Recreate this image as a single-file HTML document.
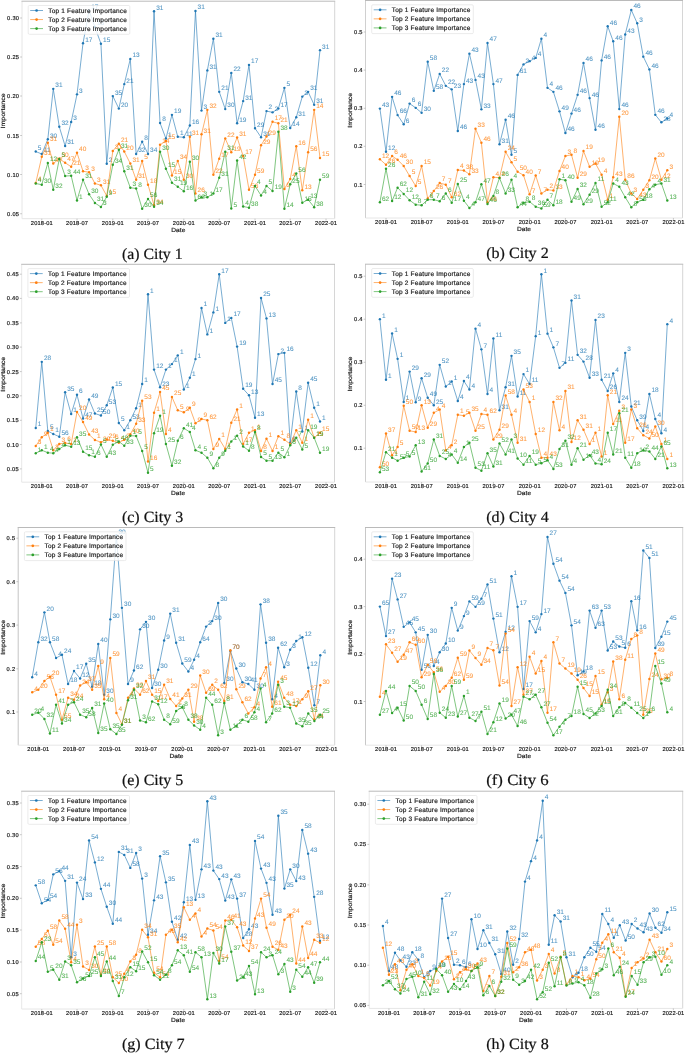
<!DOCTYPE html><html><head><meta charset="utf-8"><style>html,body{margin:0;padding:0;background:#fff;}svg{display:block;will-change:transform;}text{font-family:"Liberation Sans",sans-serif;text-rendering:geometricPrecision;}.t{stroke:#1a1a1a;stroke-width:0.18;}.cap{font-family:"Liberation Serif",serif;}</style></head><body>
<svg width="685" height="1054" viewBox="0 0 685 1054">
<rect x="0" y="0" width="685" height="1054" fill="#fff"/>
<g><line x1="22" y1="1.2" x2="22" y2="218.7" stroke="#e6e6e6" stroke-width="1"/><line x1="334.7" y1="1.2" x2="334.7" y2="218.7" stroke="#d6d6d6" stroke-width="1"/><line x1="22" y1="218.7" x2="334.7" y2="218.7" stroke="#e6e6e6" stroke-width="1"/><line x1="21.5" y1="1.2" x2="335.2" y2="1.2" stroke="#bababa" stroke-width="1"/><line x1="20.2" y1="18" x2="22" y2="18" stroke="#b0b0b0" stroke-width="0.7"/><text x="19" y="20.05" font-size="5.7" fill="#1a1a1a" text-anchor="end" class="t" textLength="11.9" lengthAdjust="spacing">0.30</text><line x1="20.2" y1="57" x2="22" y2="57" stroke="#b0b0b0" stroke-width="0.7"/><text x="19" y="59.05" font-size="5.7" fill="#1a1a1a" text-anchor="end" class="t" textLength="11.9" lengthAdjust="spacing">0.25</text><line x1="20.2" y1="96" x2="22" y2="96" stroke="#b0b0b0" stroke-width="0.7"/><text x="19" y="98.05" font-size="5.7" fill="#1a1a1a" text-anchor="end" class="t" textLength="11.9" lengthAdjust="spacing">0.20</text><line x1="20.2" y1="135.5" x2="22" y2="135.5" stroke="#b0b0b0" stroke-width="0.7"/><text x="19" y="137.55" font-size="5.7" fill="#1a1a1a" text-anchor="end" class="t" textLength="11.9" lengthAdjust="spacing">0.15</text><line x1="20.2" y1="174.5" x2="22" y2="174.5" stroke="#b0b0b0" stroke-width="0.7"/><text x="19" y="176.55" font-size="5.7" fill="#1a1a1a" text-anchor="end" class="t" textLength="11.9" lengthAdjust="spacing">0.10</text><line x1="20.2" y1="213.75" x2="22" y2="213.75" stroke="#b0b0b0" stroke-width="0.7"/><text x="19" y="215.8" font-size="5.7" fill="#1a1a1a" text-anchor="end" class="t" textLength="11.9" lengthAdjust="spacing">0.05</text><line x1="41.78" y1="218.7" x2="41.78" y2="220.5" stroke="#b0b0b0" stroke-width="0.7"/><text x="41.78" y="224.8" font-size="5.7" fill="#1a1a1a" text-anchor="middle" class="t" textLength="21.9" lengthAdjust="spacing">2018-01</text><line x1="77" y1="218.7" x2="77" y2="220.5" stroke="#b0b0b0" stroke-width="0.7"/><text x="77" y="224.8" font-size="5.7" fill="#1a1a1a" text-anchor="middle" class="t" textLength="21.9" lengthAdjust="spacing">2018-07</text><line x1="112.8" y1="218.7" x2="112.8" y2="220.5" stroke="#b0b0b0" stroke-width="0.7"/><text x="112.8" y="224.8" font-size="5.7" fill="#1a1a1a" text-anchor="middle" class="t" textLength="21.9" lengthAdjust="spacing">2019-01</text><line x1="148.01" y1="218.7" x2="148.01" y2="220.5" stroke="#b0b0b0" stroke-width="0.7"/><text x="148.01" y="224.8" font-size="5.7" fill="#1a1a1a" text-anchor="middle" class="t" textLength="21.9" lengthAdjust="spacing">2019-07</text><line x1="183.81" y1="218.7" x2="183.81" y2="220.5" stroke="#b0b0b0" stroke-width="0.7"/><text x="183.81" y="224.8" font-size="5.7" fill="#1a1a1a" text-anchor="middle" class="t" textLength="21.9" lengthAdjust="spacing">2020-01</text><line x1="219.22" y1="218.7" x2="219.22" y2="220.5" stroke="#b0b0b0" stroke-width="0.7"/><text x="219.22" y="224.8" font-size="5.7" fill="#1a1a1a" text-anchor="middle" class="t" textLength="21.9" lengthAdjust="spacing">2020-07</text><line x1="255.02" y1="218.7" x2="255.02" y2="220.5" stroke="#b0b0b0" stroke-width="0.7"/><text x="255.02" y="224.8" font-size="5.7" fill="#1a1a1a" text-anchor="middle" class="t" textLength="21.9" lengthAdjust="spacing">2021-01</text><line x1="290.23" y1="218.7" x2="290.23" y2="220.5" stroke="#b0b0b0" stroke-width="0.7"/><text x="290.23" y="224.8" font-size="5.7" fill="#1a1a1a" text-anchor="middle" class="t" textLength="21.9" lengthAdjust="spacing">2021-07</text><line x1="326.03" y1="218.7" x2="326.03" y2="220.5" stroke="#b0b0b0" stroke-width="0.7"/><text x="326.03" y="224.8" font-size="5.7" fill="#1a1a1a" text-anchor="middle" class="t" textLength="21.9" lengthAdjust="spacing">2022-01</text><text x="178.35" y="231.8" font-size="6.0" fill="#1a1a1a" text-anchor="middle" class="t" textLength="14" lengthAdjust="spacingAndGlyphs">Date</text><text transform="translate(5 110.95) rotate(-90)" x="0" y="0" font-size="6.0" fill="#1a1a1a" class="t" text-anchor="middle" textLength="35" lengthAdjust="spacingAndGlyphs">Importance</text><polyline points="35.75,151.52 41.78,154.02 47.81,139.29 53.26,88.87 59.29,126.81 65.13,146.03 71.16,122.07 77,94.36 83.03,43.19 89.06,10.48 94.9,26.96 100.93,43.68 106.76,163.75 112.8,96.11 118.83,108.59 124.27,84.12 130.31,58.91 136.14,154.02 142.17,141.79 148.01,154.02 154.04,11.23 160.07,123.07 165.91,138.54 171.94,114.83 177.78,136.79 183.81,137.29 189.84,125.56 195.48,10.98 201.51,110.58 207.35,70.39 213.38,38.69 219.22,91.86 225.25,109.09 231.28,72.89 237.12,123.32 243.15,101.1 248.99,64.9 255.02,128.31 261.05,137.29 266.5,111.08 272.53,112.33 278.36,108.59 284.4,87.87 290.23,128.06 296.26,117.32 302.3,96.61 308.13,91.86 314.16,104.84 320,50.17" fill="none" stroke="#1f77b4" stroke-width="1.0" stroke-opacity="0.6" stroke-linejoin="round"/><circle cx="35.75" cy="151.52" r="1.2" fill="#1f77b4"/><circle cx="41.78" cy="154.02" r="1.2" fill="#1f77b4"/><circle cx="47.81" cy="139.29" r="1.2" fill="#1f77b4"/><circle cx="53.26" cy="88.87" r="1.2" fill="#1f77b4"/><circle cx="59.29" cy="126.81" r="1.2" fill="#1f77b4"/><circle cx="65.13" cy="146.03" r="1.2" fill="#1f77b4"/><circle cx="71.16" cy="122.07" r="1.2" fill="#1f77b4"/><circle cx="77" cy="94.36" r="1.2" fill="#1f77b4"/><circle cx="83.03" cy="43.19" r="1.2" fill="#1f77b4"/><circle cx="89.06" cy="10.48" r="1.2" fill="#1f77b4"/><circle cx="94.9" cy="26.96" r="1.2" fill="#1f77b4"/><circle cx="100.93" cy="43.68" r="1.2" fill="#1f77b4"/><circle cx="106.76" cy="163.75" r="1.2" fill="#1f77b4"/><circle cx="112.8" cy="96.11" r="1.2" fill="#1f77b4"/><circle cx="118.83" cy="108.59" r="1.2" fill="#1f77b4"/><circle cx="124.27" cy="84.12" r="1.2" fill="#1f77b4"/><circle cx="130.31" cy="58.91" r="1.2" fill="#1f77b4"/><circle cx="136.14" cy="154.02" r="1.2" fill="#1f77b4"/><circle cx="142.17" cy="141.79" r="1.2" fill="#1f77b4"/><circle cx="148.01" cy="154.02" r="1.2" fill="#1f77b4"/><circle cx="154.04" cy="11.23" r="1.2" fill="#1f77b4"/><circle cx="160.07" cy="123.07" r="1.2" fill="#1f77b4"/><circle cx="165.91" cy="138.54" r="1.2" fill="#1f77b4"/><circle cx="171.94" cy="114.83" r="1.2" fill="#1f77b4"/><circle cx="177.78" cy="136.79" r="1.2" fill="#1f77b4"/><circle cx="183.81" cy="137.29" r="1.2" fill="#1f77b4"/><circle cx="189.84" cy="125.56" r="1.2" fill="#1f77b4"/><circle cx="195.48" cy="10.98" r="1.2" fill="#1f77b4"/><circle cx="201.51" cy="110.58" r="1.2" fill="#1f77b4"/><circle cx="207.35" cy="70.39" r="1.2" fill="#1f77b4"/><circle cx="213.38" cy="38.69" r="1.2" fill="#1f77b4"/><circle cx="219.22" cy="91.86" r="1.2" fill="#1f77b4"/><circle cx="225.25" cy="109.09" r="1.2" fill="#1f77b4"/><circle cx="231.28" cy="72.89" r="1.2" fill="#1f77b4"/><circle cx="237.12" cy="123.32" r="1.2" fill="#1f77b4"/><circle cx="243.15" cy="101.1" r="1.2" fill="#1f77b4"/><circle cx="248.99" cy="64.9" r="1.2" fill="#1f77b4"/><circle cx="255.02" cy="128.31" r="1.2" fill="#1f77b4"/><circle cx="261.05" cy="137.29" r="1.2" fill="#1f77b4"/><circle cx="266.5" cy="111.08" r="1.2" fill="#1f77b4"/><circle cx="272.53" cy="112.33" r="1.2" fill="#1f77b4"/><circle cx="278.36" cy="108.59" r="1.2" fill="#1f77b4"/><circle cx="284.4" cy="87.87" r="1.2" fill="#1f77b4"/><circle cx="290.23" cy="128.06" r="1.2" fill="#1f77b4"/><circle cx="296.26" cy="117.32" r="1.2" fill="#1f77b4"/><circle cx="302.3" cy="96.61" r="1.2" fill="#1f77b4"/><circle cx="308.13" cy="91.86" r="1.2" fill="#1f77b4"/><circle cx="314.16" cy="104.84" r="1.2" fill="#1f77b4"/><circle cx="320" cy="50.17" r="1.2" fill="#1f77b4"/><text x="37.85" y="149.92" font-size="6.5" fill="#1f77b4" fill-opacity="0.78" stroke="#1f77b4" stroke-width="0.1" stroke-opacity="0.5">5</text><text x="43.88" y="152.42" font-size="6.5" fill="#1f77b4" fill-opacity="0.78" stroke="#1f77b4" stroke-width="0.1" stroke-opacity="0.5">11</text><text x="49.91" y="137.69" font-size="6.5" fill="#1f77b4" fill-opacity="0.78" stroke="#1f77b4" stroke-width="0.1" stroke-opacity="0.5">30</text><text x="55.36" y="87.27" font-size="6.5" fill="#1f77b4" fill-opacity="0.78" stroke="#1f77b4" stroke-width="0.1" stroke-opacity="0.5">31</text><text x="61.39" y="125.21" font-size="6.5" fill="#1f77b4" fill-opacity="0.78" stroke="#1f77b4" stroke-width="0.1" stroke-opacity="0.5">32</text><text x="67.23" y="144.43" font-size="6.5" fill="#1f77b4" fill-opacity="0.78" stroke="#1f77b4" stroke-width="0.1" stroke-opacity="0.5">31</text><text x="73.26" y="120.47" font-size="6.5" fill="#1f77b4" fill-opacity="0.78" stroke="#1f77b4" stroke-width="0.1" stroke-opacity="0.5">3</text><text x="79.1" y="92.76" font-size="6.5" fill="#1f77b4" fill-opacity="0.78" stroke="#1f77b4" stroke-width="0.1" stroke-opacity="0.5">3</text><text x="85.13" y="41.59" font-size="6.5" fill="#1f77b4" fill-opacity="0.78" stroke="#1f77b4" stroke-width="0.1" stroke-opacity="0.5">17</text><text x="91.16" y="8.88" font-size="6.5" fill="#1f77b4" fill-opacity="0.78" stroke="#1f77b4" stroke-width="0.1" stroke-opacity="0.5">17</text><text x="97" y="25.36" font-size="6.5" fill="#1f77b4" fill-opacity="0.78" stroke="#1f77b4" stroke-width="0.1" stroke-opacity="0.5">15</text><text x="103.03" y="42.08" font-size="6.5" fill="#1f77b4" fill-opacity="0.78" stroke="#1f77b4" stroke-width="0.1" stroke-opacity="0.5">15</text><text x="108.86" y="162.15" font-size="6.5" fill="#1f77b4" fill-opacity="0.78" stroke="#1f77b4" stroke-width="0.1" stroke-opacity="0.5">2</text><text x="114.9" y="94.51" font-size="6.5" fill="#1f77b4" fill-opacity="0.78" stroke="#1f77b4" stroke-width="0.1" stroke-opacity="0.5">35</text><text x="120.93" y="106.99" font-size="6.5" fill="#1f77b4" fill-opacity="0.78" stroke="#1f77b4" stroke-width="0.1" stroke-opacity="0.5">20</text><text x="126.37" y="82.52" font-size="6.5" fill="#1f77b4" fill-opacity="0.78" stroke="#1f77b4" stroke-width="0.1" stroke-opacity="0.5">21</text><text x="132.41" y="57.31" font-size="6.5" fill="#1f77b4" fill-opacity="0.78" stroke="#1f77b4" stroke-width="0.1" stroke-opacity="0.5">13</text><text x="138.24" y="152.42" font-size="6.5" fill="#1f77b4" fill-opacity="0.78" stroke="#1f77b4" stroke-width="0.1" stroke-opacity="0.5">32</text><text x="144.27" y="140.19" font-size="6.5" fill="#1f77b4" fill-opacity="0.78" stroke="#1f77b4" stroke-width="0.1" stroke-opacity="0.5">8</text><text x="150.11" y="152.42" font-size="6.5" fill="#1f77b4" fill-opacity="0.78" stroke="#1f77b4" stroke-width="0.1" stroke-opacity="0.5">34</text><text x="156.14" y="9.63" font-size="6.5" fill="#1f77b4" fill-opacity="0.78" stroke="#1f77b4" stroke-width="0.1" stroke-opacity="0.5">31</text><text x="162.17" y="121.47" font-size="6.5" fill="#1f77b4" fill-opacity="0.78" stroke="#1f77b4" stroke-width="0.1" stroke-opacity="0.5">8</text><text x="168.01" y="136.94" font-size="6.5" fill="#1f77b4" fill-opacity="0.78" stroke="#1f77b4" stroke-width="0.1" stroke-opacity="0.5">1</text><text x="174.04" y="113.23" font-size="6.5" fill="#1f77b4" fill-opacity="0.78" stroke="#1f77b4" stroke-width="0.1" stroke-opacity="0.5">19</text><text x="179.88" y="135.19" font-size="6.5" fill="#1f77b4" fill-opacity="0.78" stroke="#1f77b4" stroke-width="0.1" stroke-opacity="0.5">1</text><text x="185.91" y="135.69" font-size="6.5" fill="#1f77b4" fill-opacity="0.78" stroke="#1f77b4" stroke-width="0.1" stroke-opacity="0.5">11</text><text x="191.94" y="123.96" font-size="6.5" fill="#1f77b4" fill-opacity="0.78" stroke="#1f77b4" stroke-width="0.1" stroke-opacity="0.5">16</text><text x="197.58" y="9.38" font-size="6.5" fill="#1f77b4" fill-opacity="0.78" stroke="#1f77b4" stroke-width="0.1" stroke-opacity="0.5">31</text><text x="203.61" y="108.98" font-size="6.5" fill="#1f77b4" fill-opacity="0.78" stroke="#1f77b4" stroke-width="0.1" stroke-opacity="0.5">3</text><text x="209.45" y="68.79" font-size="6.5" fill="#1f77b4" fill-opacity="0.78" stroke="#1f77b4" stroke-width="0.1" stroke-opacity="0.5">31</text><text x="215.48" y="37.09" font-size="6.5" fill="#1f77b4" fill-opacity="0.78" stroke="#1f77b4" stroke-width="0.1" stroke-opacity="0.5">31</text><text x="221.32" y="90.26" font-size="6.5" fill="#1f77b4" fill-opacity="0.78" stroke="#1f77b4" stroke-width="0.1" stroke-opacity="0.5">21</text><text x="227.35" y="107.49" font-size="6.5" fill="#1f77b4" fill-opacity="0.78" stroke="#1f77b4" stroke-width="0.1" stroke-opacity="0.5">30</text><text x="233.38" y="71.29" font-size="6.5" fill="#1f77b4" fill-opacity="0.78" stroke="#1f77b4" stroke-width="0.1" stroke-opacity="0.5">22</text><text x="239.22" y="121.72" font-size="6.5" fill="#1f77b4" fill-opacity="0.78" stroke="#1f77b4" stroke-width="0.1" stroke-opacity="0.5">19</text><text x="245.25" y="99.5" font-size="6.5" fill="#1f77b4" fill-opacity="0.78" stroke="#1f77b4" stroke-width="0.1" stroke-opacity="0.5">31</text><text x="251.09" y="63.3" font-size="6.5" fill="#1f77b4" fill-opacity="0.78" stroke="#1f77b4" stroke-width="0.1" stroke-opacity="0.5">17</text><text x="257.12" y="126.71" font-size="6.5" fill="#1f77b4" fill-opacity="0.78" stroke="#1f77b4" stroke-width="0.1" stroke-opacity="0.5">29</text><text x="263.15" y="135.69" font-size="6.5" fill="#1f77b4" fill-opacity="0.78" stroke="#1f77b4" stroke-width="0.1" stroke-opacity="0.5">31</text><text x="268.6" y="109.48" font-size="6.5" fill="#1f77b4" fill-opacity="0.78" stroke="#1f77b4" stroke-width="0.1" stroke-opacity="0.5">2</text><text x="274.63" y="110.73" font-size="6.5" fill="#1f77b4" fill-opacity="0.78" stroke="#1f77b4" stroke-width="0.1" stroke-opacity="0.5">2</text><text x="280.46" y="106.99" font-size="6.5" fill="#1f77b4" fill-opacity="0.78" stroke="#1f77b4" stroke-width="0.1" stroke-opacity="0.5">17</text><text x="286.5" y="86.27" font-size="6.5" fill="#1f77b4" fill-opacity="0.78" stroke="#1f77b4" stroke-width="0.1" stroke-opacity="0.5">5</text><text x="292.33" y="126.46" font-size="6.5" fill="#1f77b4" fill-opacity="0.78" stroke="#1f77b4" stroke-width="0.1" stroke-opacity="0.5">14</text><text x="298.36" y="115.72" font-size="6.5" fill="#1f77b4" fill-opacity="0.78" stroke="#1f77b4" stroke-width="0.1" stroke-opacity="0.5">31</text><text x="304.4" y="95.01" font-size="6.5" fill="#1f77b4" fill-opacity="0.78" stroke="#1f77b4" stroke-width="0.1" stroke-opacity="0.5">3</text><text x="310.23" y="90.26" font-size="6.5" fill="#1f77b4" fill-opacity="0.78" stroke="#1f77b4" stroke-width="0.1" stroke-opacity="0.5">31</text><text x="316.26" y="103.24" font-size="6.5" fill="#1f77b4" fill-opacity="0.78" stroke="#1f77b4" stroke-width="0.1" stroke-opacity="0.5">31</text><text x="322.1" y="48.57" font-size="6.5" fill="#1f77b4" fill-opacity="0.78" stroke="#1f77b4" stroke-width="0.1" stroke-opacity="0.5">31</text><polyline points="35.75,182.98 41.78,156.76 47.81,142.79 53.26,163.5 59.29,158.76 65.13,162.76 71.16,166.75 77,152.77 83.03,171.24 89.06,172.24 94.9,183.47 100.93,185.22 106.76,195.96 112.8,151.02 118.83,143.78 124.27,151.52 130.31,163.5 136.14,179.73 142.17,161.01 148.01,184.72 154.04,205.19 160.07,144.78 165.91,141.04 171.94,175.49 177.78,161.01 183.81,179.73 189.84,136.79 195.48,193.46 201.51,134.3 207.35,109.84 213.38,174.74 219.22,158.76 225.25,138.54 231.28,152.27 237.12,137.54 243.15,156.02 248.99,189.72 255.02,174.74 261.05,145.28 266.5,136.55 272.53,121.82 278.36,123.32 284.4,188.97 290.23,178.98 296.26,146.28 302.3,190.21 308.13,152.27 314.16,109.84 320,158.01" fill="none" stroke="#ff7f0e" stroke-width="1.0" stroke-opacity="0.6" stroke-linejoin="round"/><circle cx="35.75" cy="182.98" r="1.2" fill="#ff7f0e"/><circle cx="41.78" cy="156.76" r="1.2" fill="#ff7f0e"/><circle cx="47.81" cy="142.79" r="1.2" fill="#ff7f0e"/><circle cx="53.26" cy="163.5" r="1.2" fill="#ff7f0e"/><circle cx="59.29" cy="158.76" r="1.2" fill="#ff7f0e"/><circle cx="65.13" cy="162.76" r="1.2" fill="#ff7f0e"/><circle cx="71.16" cy="166.75" r="1.2" fill="#ff7f0e"/><circle cx="77" cy="152.77" r="1.2" fill="#ff7f0e"/><circle cx="83.03" cy="171.24" r="1.2" fill="#ff7f0e"/><circle cx="89.06" cy="172.24" r="1.2" fill="#ff7f0e"/><circle cx="94.9" cy="183.47" r="1.2" fill="#ff7f0e"/><circle cx="100.93" cy="185.22" r="1.2" fill="#ff7f0e"/><circle cx="106.76" cy="195.96" r="1.2" fill="#ff7f0e"/><circle cx="112.8" cy="151.02" r="1.2" fill="#ff7f0e"/><circle cx="118.83" cy="143.78" r="1.2" fill="#ff7f0e"/><circle cx="124.27" cy="151.52" r="1.2" fill="#ff7f0e"/><circle cx="130.31" cy="163.5" r="1.2" fill="#ff7f0e"/><circle cx="136.14" cy="179.73" r="1.2" fill="#ff7f0e"/><circle cx="142.17" cy="161.01" r="1.2" fill="#ff7f0e"/><circle cx="148.01" cy="184.72" r="1.2" fill="#ff7f0e"/><circle cx="154.04" cy="205.19" r="1.2" fill="#ff7f0e"/><circle cx="160.07" cy="144.78" r="1.2" fill="#ff7f0e"/><circle cx="165.91" cy="141.04" r="1.2" fill="#ff7f0e"/><circle cx="171.94" cy="175.49" r="1.2" fill="#ff7f0e"/><circle cx="177.78" cy="161.01" r="1.2" fill="#ff7f0e"/><circle cx="183.81" cy="179.73" r="1.2" fill="#ff7f0e"/><circle cx="189.84" cy="136.79" r="1.2" fill="#ff7f0e"/><circle cx="195.48" cy="193.46" r="1.2" fill="#ff7f0e"/><circle cx="201.51" cy="134.3" r="1.2" fill="#ff7f0e"/><circle cx="207.35" cy="109.84" r="1.2" fill="#ff7f0e"/><circle cx="213.38" cy="174.74" r="1.2" fill="#ff7f0e"/><circle cx="219.22" cy="158.76" r="1.2" fill="#ff7f0e"/><circle cx="225.25" cy="138.54" r="1.2" fill="#ff7f0e"/><circle cx="231.28" cy="152.27" r="1.2" fill="#ff7f0e"/><circle cx="237.12" cy="137.54" r="1.2" fill="#ff7f0e"/><circle cx="243.15" cy="156.02" r="1.2" fill="#ff7f0e"/><circle cx="248.99" cy="189.72" r="1.2" fill="#ff7f0e"/><circle cx="255.02" cy="174.74" r="1.2" fill="#ff7f0e"/><circle cx="261.05" cy="145.28" r="1.2" fill="#ff7f0e"/><circle cx="266.5" cy="136.55" r="1.2" fill="#ff7f0e"/><circle cx="272.53" cy="121.82" r="1.2" fill="#ff7f0e"/><circle cx="278.36" cy="123.32" r="1.2" fill="#ff7f0e"/><circle cx="284.4" cy="188.97" r="1.2" fill="#ff7f0e"/><circle cx="290.23" cy="178.98" r="1.2" fill="#ff7f0e"/><circle cx="296.26" cy="146.28" r="1.2" fill="#ff7f0e"/><circle cx="302.3" cy="190.21" r="1.2" fill="#ff7f0e"/><circle cx="308.13" cy="152.27" r="1.2" fill="#ff7f0e"/><circle cx="314.16" cy="109.84" r="1.2" fill="#ff7f0e"/><circle cx="320" cy="158.01" r="1.2" fill="#ff7f0e"/><text x="37.85" y="181.38" font-size="6.5" fill="#ff7f0e" fill-opacity="0.78" stroke="#ff7f0e" stroke-width="0.1" stroke-opacity="0.5">4</text><text x="43.88" y="155.16" font-size="6.5" fill="#ff7f0e" fill-opacity="0.78" stroke="#ff7f0e" stroke-width="0.1" stroke-opacity="0.5">31</text><text x="49.91" y="141.19" font-size="6.5" fill="#ff7f0e" fill-opacity="0.78" stroke="#ff7f0e" stroke-width="0.1" stroke-opacity="0.5">31</text><text x="55.36" y="161.9" font-size="6.5" fill="#ff7f0e" fill-opacity="0.78" stroke="#ff7f0e" stroke-width="0.1" stroke-opacity="0.5">47</text><text x="61.39" y="157.16" font-size="6.5" fill="#ff7f0e" fill-opacity="0.78" stroke="#ff7f0e" stroke-width="0.1" stroke-opacity="0.5">30</text><text x="67.23" y="161.16" font-size="6.5" fill="#ff7f0e" fill-opacity="0.78" stroke="#ff7f0e" stroke-width="0.1" stroke-opacity="0.5">47</text><text x="73.26" y="165.15" font-size="6.5" fill="#ff7f0e" fill-opacity="0.78" stroke="#ff7f0e" stroke-width="0.1" stroke-opacity="0.5">21</text><text x="79.1" y="151.17" font-size="6.5" fill="#ff7f0e" fill-opacity="0.78" stroke="#ff7f0e" stroke-width="0.1" stroke-opacity="0.5">40</text><text x="85.13" y="169.64" font-size="6.5" fill="#ff7f0e" fill-opacity="0.78" stroke="#ff7f0e" stroke-width="0.1" stroke-opacity="0.5">3</text><text x="91.16" y="170.64" font-size="6.5" fill="#ff7f0e" fill-opacity="0.78" stroke="#ff7f0e" stroke-width="0.1" stroke-opacity="0.5">3</text><text x="97" y="181.87" font-size="6.5" fill="#ff7f0e" fill-opacity="0.78" stroke="#ff7f0e" stroke-width="0.1" stroke-opacity="0.5">3</text><text x="103.03" y="183.62" font-size="6.5" fill="#ff7f0e" fill-opacity="0.78" stroke="#ff7f0e" stroke-width="0.1" stroke-opacity="0.5">31</text><text x="108.86" y="194.36" font-size="6.5" fill="#ff7f0e" fill-opacity="0.78" stroke="#ff7f0e" stroke-width="0.1" stroke-opacity="0.5">15</text><text x="114.9" y="149.42" font-size="6.5" fill="#ff7f0e" fill-opacity="0.78" stroke="#ff7f0e" stroke-width="0.1" stroke-opacity="0.5">31</text><text x="120.93" y="142.18" font-size="6.5" fill="#ff7f0e" fill-opacity="0.78" stroke="#ff7f0e" stroke-width="0.1" stroke-opacity="0.5">21</text><text x="126.37" y="149.92" font-size="6.5" fill="#ff7f0e" fill-opacity="0.78" stroke="#ff7f0e" stroke-width="0.1" stroke-opacity="0.5">20</text><text x="132.41" y="161.9" font-size="6.5" fill="#ff7f0e" fill-opacity="0.78" stroke="#ff7f0e" stroke-width="0.1" stroke-opacity="0.5">31</text><text x="138.24" y="178.13" font-size="6.5" fill="#ff7f0e" fill-opacity="0.78" stroke="#ff7f0e" stroke-width="0.1" stroke-opacity="0.5">31</text><text x="144.27" y="159.41" font-size="6.5" fill="#ff7f0e" fill-opacity="0.78" stroke="#ff7f0e" stroke-width="0.1" stroke-opacity="0.5">5</text><text x="150.11" y="183.12" font-size="6.5" fill="#ff7f0e" fill-opacity="0.78" stroke="#ff7f0e" stroke-width="0.1" stroke-opacity="0.5">18</text><text x="156.14" y="203.59" font-size="6.5" fill="#ff7f0e" fill-opacity="0.78" stroke="#ff7f0e" stroke-width="0.1" stroke-opacity="0.5">34</text><text x="162.17" y="143.18" font-size="6.5" fill="#ff7f0e" fill-opacity="0.78" stroke="#ff7f0e" stroke-width="0.1" stroke-opacity="0.5">14</text><text x="168.01" y="139.44" font-size="6.5" fill="#ff7f0e" fill-opacity="0.78" stroke="#ff7f0e" stroke-width="0.1" stroke-opacity="0.5">15</text><text x="174.04" y="173.89" font-size="6.5" fill="#ff7f0e" fill-opacity="0.78" stroke="#ff7f0e" stroke-width="0.1" stroke-opacity="0.5">15</text><text x="179.88" y="159.41" font-size="6.5" fill="#ff7f0e" fill-opacity="0.78" stroke="#ff7f0e" stroke-width="0.1" stroke-opacity="0.5">34</text><text x="185.91" y="178.13" font-size="6.5" fill="#ff7f0e" fill-opacity="0.78" stroke="#ff7f0e" stroke-width="0.1" stroke-opacity="0.5">30</text><text x="191.94" y="135.19" font-size="6.5" fill="#ff7f0e" fill-opacity="0.78" stroke="#ff7f0e" stroke-width="0.1" stroke-opacity="0.5">31</text><text x="197.58" y="191.86" font-size="6.5" fill="#ff7f0e" fill-opacity="0.78" stroke="#ff7f0e" stroke-width="0.1" stroke-opacity="0.5">26</text><text x="203.61" y="132.7" font-size="6.5" fill="#ff7f0e" fill-opacity="0.78" stroke="#ff7f0e" stroke-width="0.1" stroke-opacity="0.5">31</text><text x="209.45" y="108.24" font-size="6.5" fill="#ff7f0e" fill-opacity="0.78" stroke="#ff7f0e" stroke-width="0.1" stroke-opacity="0.5">32</text><text x="215.48" y="173.14" font-size="6.5" fill="#ff7f0e" fill-opacity="0.78" stroke="#ff7f0e" stroke-width="0.1" stroke-opacity="0.5">22</text><text x="221.32" y="157.16" font-size="6.5" fill="#ff7f0e" fill-opacity="0.78" stroke="#ff7f0e" stroke-width="0.1" stroke-opacity="0.5">17</text><text x="227.35" y="136.94" font-size="6.5" fill="#ff7f0e" fill-opacity="0.78" stroke="#ff7f0e" stroke-width="0.1" stroke-opacity="0.5">22</text><text x="233.38" y="150.67" font-size="6.5" fill="#ff7f0e" fill-opacity="0.78" stroke="#ff7f0e" stroke-width="0.1" stroke-opacity="0.5">19</text><text x="239.22" y="135.94" font-size="6.5" fill="#ff7f0e" fill-opacity="0.78" stroke="#ff7f0e" stroke-width="0.1" stroke-opacity="0.5">31</text><text x="245.25" y="154.42" font-size="6.5" fill="#ff7f0e" fill-opacity="0.78" stroke="#ff7f0e" stroke-width="0.1" stroke-opacity="0.5">17</text><text x="251.09" y="188.12" font-size="6.5" fill="#ff7f0e" fill-opacity="0.78" stroke="#ff7f0e" stroke-width="0.1" stroke-opacity="0.5">56</text><text x="257.12" y="173.14" font-size="6.5" fill="#ff7f0e" fill-opacity="0.78" stroke="#ff7f0e" stroke-width="0.1" stroke-opacity="0.5">59</text><text x="263.15" y="143.68" font-size="6.5" fill="#ff7f0e" fill-opacity="0.78" stroke="#ff7f0e" stroke-width="0.1" stroke-opacity="0.5">29</text><text x="268.6" y="134.95" font-size="6.5" fill="#ff7f0e" fill-opacity="0.78" stroke="#ff7f0e" stroke-width="0.1" stroke-opacity="0.5">29</text><text x="274.63" y="120.22" font-size="6.5" fill="#ff7f0e" fill-opacity="0.78" stroke="#ff7f0e" stroke-width="0.1" stroke-opacity="0.5">17</text><text x="280.46" y="121.72" font-size="6.5" fill="#ff7f0e" fill-opacity="0.78" stroke="#ff7f0e" stroke-width="0.1" stroke-opacity="0.5">21</text><text x="286.5" y="187.37" font-size="6.5" fill="#ff7f0e" fill-opacity="0.78" stroke="#ff7f0e" stroke-width="0.1" stroke-opacity="0.5">9</text><text x="292.33" y="177.38" font-size="6.5" fill="#ff7f0e" fill-opacity="0.78" stroke="#ff7f0e" stroke-width="0.1" stroke-opacity="0.5">4</text><text x="298.36" y="144.68" font-size="6.5" fill="#ff7f0e" fill-opacity="0.78" stroke="#ff7f0e" stroke-width="0.1" stroke-opacity="0.5">16</text><text x="304.4" y="188.61" font-size="6.5" fill="#ff7f0e" fill-opacity="0.78" stroke="#ff7f0e" stroke-width="0.1" stroke-opacity="0.5">13</text><text x="310.23" y="150.67" font-size="6.5" fill="#ff7f0e" fill-opacity="0.78" stroke="#ff7f0e" stroke-width="0.1" stroke-opacity="0.5">56</text><text x="316.26" y="108.24" font-size="6.5" fill="#ff7f0e" fill-opacity="0.78" stroke="#ff7f0e" stroke-width="0.1" stroke-opacity="0.5">14</text><text x="322.1" y="156.41" font-size="6.5" fill="#ff7f0e" fill-opacity="0.78" stroke="#ff7f0e" stroke-width="0.1" stroke-opacity="0.5">15</text><polyline points="35.75,183.47 41.78,184.72 47.81,163.01 53.26,189.72 59.29,159.01 65.13,175.99 71.16,175.74 77,200.45 83.03,179.73 89.06,194.21 94.9,202.95 100.93,206.94 106.76,196.7 112.8,164.75 118.83,149.78 124.27,171.24 130.31,187.72 136.14,188.47 142.17,208.69 148.01,198.95 154.04,206.69 160.07,151.77 165.91,168.75 171.94,182.73 177.78,186.72 183.81,191.21 189.84,161.76 195.48,200.45 201.51,197.2 207.35,197.2 213.38,193.46 219.22,177.73 225.25,151.77 231.28,208.44 237.12,160.51 243.15,206.44 248.99,207.69 255.02,185.97 261.05,195.46 266.5,185.97 272.53,190.96 278.36,131.8 284.4,208.69 290.23,184.22 296.26,173.49 302.3,202.7 308.13,199.7 314.16,207.19 320,179.73" fill="none" stroke="#2ca02c" stroke-width="1.0" stroke-opacity="0.6" stroke-linejoin="round"/><circle cx="35.75" cy="183.47" r="1.2" fill="#2ca02c"/><circle cx="41.78" cy="184.72" r="1.2" fill="#2ca02c"/><circle cx="47.81" cy="163.01" r="1.2" fill="#2ca02c"/><circle cx="53.26" cy="189.72" r="1.2" fill="#2ca02c"/><circle cx="59.29" cy="159.01" r="1.2" fill="#2ca02c"/><circle cx="65.13" cy="175.99" r="1.2" fill="#2ca02c"/><circle cx="71.16" cy="175.74" r="1.2" fill="#2ca02c"/><circle cx="77" cy="200.45" r="1.2" fill="#2ca02c"/><circle cx="83.03" cy="179.73" r="1.2" fill="#2ca02c"/><circle cx="89.06" cy="194.21" r="1.2" fill="#2ca02c"/><circle cx="94.9" cy="202.95" r="1.2" fill="#2ca02c"/><circle cx="100.93" cy="206.94" r="1.2" fill="#2ca02c"/><circle cx="106.76" cy="196.7" r="1.2" fill="#2ca02c"/><circle cx="112.8" cy="164.75" r="1.2" fill="#2ca02c"/><circle cx="118.83" cy="149.78" r="1.2" fill="#2ca02c"/><circle cx="124.27" cy="171.24" r="1.2" fill="#2ca02c"/><circle cx="130.31" cy="187.72" r="1.2" fill="#2ca02c"/><circle cx="136.14" cy="188.47" r="1.2" fill="#2ca02c"/><circle cx="142.17" cy="208.69" r="1.2" fill="#2ca02c"/><circle cx="148.01" cy="198.95" r="1.2" fill="#2ca02c"/><circle cx="154.04" cy="206.69" r="1.2" fill="#2ca02c"/><circle cx="160.07" cy="151.77" r="1.2" fill="#2ca02c"/><circle cx="165.91" cy="168.75" r="1.2" fill="#2ca02c"/><circle cx="171.94" cy="182.73" r="1.2" fill="#2ca02c"/><circle cx="177.78" cy="186.72" r="1.2" fill="#2ca02c"/><circle cx="183.81" cy="191.21" r="1.2" fill="#2ca02c"/><circle cx="189.84" cy="161.76" r="1.2" fill="#2ca02c"/><circle cx="195.48" cy="200.45" r="1.2" fill="#2ca02c"/><circle cx="201.51" cy="197.2" r="1.2" fill="#2ca02c"/><circle cx="207.35" cy="197.2" r="1.2" fill="#2ca02c"/><circle cx="213.38" cy="193.46" r="1.2" fill="#2ca02c"/><circle cx="219.22" cy="177.73" r="1.2" fill="#2ca02c"/><circle cx="225.25" cy="151.77" r="1.2" fill="#2ca02c"/><circle cx="231.28" cy="208.44" r="1.2" fill="#2ca02c"/><circle cx="237.12" cy="160.51" r="1.2" fill="#2ca02c"/><circle cx="243.15" cy="206.44" r="1.2" fill="#2ca02c"/><circle cx="248.99" cy="207.69" r="1.2" fill="#2ca02c"/><circle cx="255.02" cy="185.97" r="1.2" fill="#2ca02c"/><circle cx="261.05" cy="195.46" r="1.2" fill="#2ca02c"/><circle cx="266.5" cy="185.97" r="1.2" fill="#2ca02c"/><circle cx="272.53" cy="190.96" r="1.2" fill="#2ca02c"/><circle cx="278.36" cy="131.8" r="1.2" fill="#2ca02c"/><circle cx="284.4" cy="208.69" r="1.2" fill="#2ca02c"/><circle cx="290.23" cy="184.22" r="1.2" fill="#2ca02c"/><circle cx="296.26" cy="173.49" r="1.2" fill="#2ca02c"/><circle cx="302.3" cy="202.7" r="1.2" fill="#2ca02c"/><circle cx="308.13" cy="199.7" r="1.2" fill="#2ca02c"/><circle cx="314.16" cy="207.19" r="1.2" fill="#2ca02c"/><circle cx="320" cy="179.73" r="1.2" fill="#2ca02c"/><text x="37.85" y="181.87" font-size="6.5" fill="#2ca02c" fill-opacity="0.78" stroke="#2ca02c" stroke-width="0.1" stroke-opacity="0.5">4</text><text x="43.88" y="183.12" font-size="6.5" fill="#2ca02c" fill-opacity="0.78" stroke="#2ca02c" stroke-width="0.1" stroke-opacity="0.5">30</text><text x="49.91" y="161.41" font-size="6.5" fill="#2ca02c" fill-opacity="0.78" stroke="#2ca02c" stroke-width="0.1" stroke-opacity="0.5">12</text><text x="55.36" y="188.12" font-size="6.5" fill="#2ca02c" fill-opacity="0.78" stroke="#2ca02c" stroke-width="0.1" stroke-opacity="0.5">32</text><text x="61.39" y="157.41" font-size="6.5" fill="#2ca02c" fill-opacity="0.78" stroke="#2ca02c" stroke-width="0.1" stroke-opacity="0.5">5</text><text x="67.23" y="174.39" font-size="6.5" fill="#2ca02c" fill-opacity="0.78" stroke="#2ca02c" stroke-width="0.1" stroke-opacity="0.5">3</text><text x="73.26" y="174.14" font-size="6.5" fill="#2ca02c" fill-opacity="0.78" stroke="#2ca02c" stroke-width="0.1" stroke-opacity="0.5">44</text><text x="79.1" y="198.85" font-size="6.5" fill="#2ca02c" fill-opacity="0.78" stroke="#2ca02c" stroke-width="0.1" stroke-opacity="0.5">1</text><text x="85.13" y="178.13" font-size="6.5" fill="#2ca02c" fill-opacity="0.78" stroke="#2ca02c" stroke-width="0.1" stroke-opacity="0.5">31</text><text x="91.16" y="192.61" font-size="6.5" fill="#2ca02c" fill-opacity="0.78" stroke="#2ca02c" stroke-width="0.1" stroke-opacity="0.5">30</text><text x="97" y="201.35" font-size="6.5" fill="#2ca02c" fill-opacity="0.78" stroke="#2ca02c" stroke-width="0.1" stroke-opacity="0.5">31</text><text x="103.03" y="205.34" font-size="6.5" fill="#2ca02c" fill-opacity="0.78" stroke="#2ca02c" stroke-width="0.1" stroke-opacity="0.5">3</text><text x="108.86" y="195.1" font-size="6.5" fill="#2ca02c" fill-opacity="0.78" stroke="#2ca02c" stroke-width="0.1" stroke-opacity="0.5">9</text><text x="114.9" y="163.15" font-size="6.5" fill="#2ca02c" fill-opacity="0.78" stroke="#2ca02c" stroke-width="0.1" stroke-opacity="0.5">34</text><text x="120.93" y="148.18" font-size="6.5" fill="#2ca02c" fill-opacity="0.78" stroke="#2ca02c" stroke-width="0.1" stroke-opacity="0.5">31</text><text x="126.37" y="169.64" font-size="6.5" fill="#2ca02c" fill-opacity="0.78" stroke="#2ca02c" stroke-width="0.1" stroke-opacity="0.5">31</text><text x="132.41" y="186.12" font-size="6.5" fill="#2ca02c" fill-opacity="0.78" stroke="#2ca02c" stroke-width="0.1" stroke-opacity="0.5">3</text><text x="138.24" y="186.87" font-size="6.5" fill="#2ca02c" fill-opacity="0.78" stroke="#2ca02c" stroke-width="0.1" stroke-opacity="0.5">8</text><text x="144.27" y="207.09" font-size="6.5" fill="#2ca02c" fill-opacity="0.78" stroke="#2ca02c" stroke-width="0.1" stroke-opacity="0.5">30</text><text x="150.11" y="197.35" font-size="6.5" fill="#2ca02c" fill-opacity="0.78" stroke="#2ca02c" stroke-width="0.1" stroke-opacity="0.5">56</text><text x="156.14" y="205.09" font-size="6.5" fill="#2ca02c" fill-opacity="0.78" stroke="#2ca02c" stroke-width="0.1" stroke-opacity="0.5">34</text><text x="162.17" y="150.17" font-size="6.5" fill="#2ca02c" fill-opacity="0.78" stroke="#2ca02c" stroke-width="0.1" stroke-opacity="0.5">30</text><text x="168.01" y="167.15" font-size="6.5" fill="#2ca02c" fill-opacity="0.78" stroke="#2ca02c" stroke-width="0.1" stroke-opacity="0.5">15</text><text x="174.04" y="181.13" font-size="6.5" fill="#2ca02c" fill-opacity="0.78" stroke="#2ca02c" stroke-width="0.1" stroke-opacity="0.5">31</text><text x="179.88" y="185.12" font-size="6.5" fill="#2ca02c" fill-opacity="0.78" stroke="#2ca02c" stroke-width="0.1" stroke-opacity="0.5">19</text><text x="185.91" y="189.61" font-size="6.5" fill="#2ca02c" fill-opacity="0.78" stroke="#2ca02c" stroke-width="0.1" stroke-opacity="0.5">16</text><text x="191.94" y="160.16" font-size="6.5" fill="#2ca02c" fill-opacity="0.78" stroke="#2ca02c" stroke-width="0.1" stroke-opacity="0.5">30</text><text x="197.58" y="198.85" font-size="6.5" fill="#2ca02c" fill-opacity="0.78" stroke="#2ca02c" stroke-width="0.1" stroke-opacity="0.5">62</text><text x="203.61" y="195.6" font-size="6.5" fill="#2ca02c" fill-opacity="0.78" stroke="#2ca02c" stroke-width="0.1" stroke-opacity="0.5">3</text><text x="209.45" y="195.6" font-size="6.5" fill="#2ca02c" fill-opacity="0.78" stroke="#2ca02c" stroke-width="0.1" stroke-opacity="0.5">1</text><text x="215.48" y="191.86" font-size="6.5" fill="#2ca02c" fill-opacity="0.78" stroke="#2ca02c" stroke-width="0.1" stroke-opacity="0.5">17</text><text x="221.32" y="176.13" font-size="6.5" fill="#2ca02c" fill-opacity="0.78" stroke="#2ca02c" stroke-width="0.1" stroke-opacity="0.5">31</text><text x="227.35" y="150.17" font-size="6.5" fill="#2ca02c" fill-opacity="0.78" stroke="#2ca02c" stroke-width="0.1" stroke-opacity="0.5">31</text><text x="233.38" y="206.84" font-size="6.5" fill="#2ca02c" fill-opacity="0.78" stroke="#2ca02c" stroke-width="0.1" stroke-opacity="0.5">5</text><text x="239.22" y="158.91" font-size="6.5" fill="#2ca02c" fill-opacity="0.78" stroke="#2ca02c" stroke-width="0.1" stroke-opacity="0.5">42</text><text x="245.25" y="204.84" font-size="6.5" fill="#2ca02c" fill-opacity="0.78" stroke="#2ca02c" stroke-width="0.1" stroke-opacity="0.5">4</text><text x="251.09" y="206.09" font-size="6.5" fill="#2ca02c" fill-opacity="0.78" stroke="#2ca02c" stroke-width="0.1" stroke-opacity="0.5">38</text><text x="257.12" y="184.37" font-size="6.5" fill="#2ca02c" fill-opacity="0.78" stroke="#2ca02c" stroke-width="0.1" stroke-opacity="0.5">4</text><text x="263.15" y="193.86" font-size="6.5" fill="#2ca02c" fill-opacity="0.78" stroke="#2ca02c" stroke-width="0.1" stroke-opacity="0.5">4</text><text x="268.6" y="184.37" font-size="6.5" fill="#2ca02c" fill-opacity="0.78" stroke="#2ca02c" stroke-width="0.1" stroke-opacity="0.5">5</text><text x="274.63" y="189.36" font-size="6.5" fill="#2ca02c" fill-opacity="0.78" stroke="#2ca02c" stroke-width="0.1" stroke-opacity="0.5">19</text><text x="280.46" y="130.2" font-size="6.5" fill="#2ca02c" fill-opacity="0.78" stroke="#2ca02c" stroke-width="0.1" stroke-opacity="0.5">38</text><text x="286.5" y="207.09" font-size="6.5" fill="#2ca02c" fill-opacity="0.78" stroke="#2ca02c" stroke-width="0.1" stroke-opacity="0.5">14</text><text x="292.33" y="182.62" font-size="6.5" fill="#2ca02c" fill-opacity="0.78" stroke="#2ca02c" stroke-width="0.1" stroke-opacity="0.5">25</text><text x="298.36" y="171.89" font-size="6.5" fill="#2ca02c" fill-opacity="0.78" stroke="#2ca02c" stroke-width="0.1" stroke-opacity="0.5">56</text><text x="304.4" y="201.1" font-size="6.5" fill="#2ca02c" fill-opacity="0.78" stroke="#2ca02c" stroke-width="0.1" stroke-opacity="0.5">15</text><text x="310.23" y="198.1" font-size="6.5" fill="#2ca02c" fill-opacity="0.78" stroke="#2ca02c" stroke-width="0.1" stroke-opacity="0.5">13</text><text x="316.26" y="205.59" font-size="6.5" fill="#2ca02c" fill-opacity="0.78" stroke="#2ca02c" stroke-width="0.1" stroke-opacity="0.5">38</text><text x="322.1" y="178.13" font-size="6.5" fill="#2ca02c" fill-opacity="0.78" stroke="#2ca02c" stroke-width="0.1" stroke-opacity="0.5">59</text><rect x="28.2" y="5.5" width="101.6" height="28.8" rx="1.2" fill="#fff" fill-opacity="0.8" stroke="#e2e2e2" stroke-width="0.7"/><line x1="30.2" y1="10.5" x2="43" y2="10.5" stroke="#1f77b4" stroke-width="1" stroke-opacity="0.6"/><circle cx="36.6" cy="10.5" r="1.35" fill="#1f77b4"/><text x="48.3" y="13" font-size="6.5" fill="#1a1a1a" class="t" textLength="78.6" lengthAdjust="spacing">Top 1 Feature Importance</text><line x1="30.2" y1="19.55" x2="43" y2="19.55" stroke="#ff7f0e" stroke-width="1" stroke-opacity="0.6"/><circle cx="36.6" cy="19.55" r="1.35" fill="#ff7f0e"/><text x="48.3" y="22.05" font-size="6.5" fill="#1a1a1a" class="t" textLength="78.6" lengthAdjust="spacing">Top 2 Feature Importance</text><line x1="30.2" y1="28.6" x2="43" y2="28.6" stroke="#2ca02c" stroke-width="1" stroke-opacity="0.6"/><circle cx="36.6" cy="28.6" r="1.35" fill="#2ca02c"/><text x="48.3" y="31.1" font-size="6.5" fill="#1a1a1a" class="t" textLength="78.6" lengthAdjust="spacing">Top 3 Feature Importance</text><text class="cap" x="121.9" y="259.1" font-size="15.6" fill="#111" stroke="#111" stroke-width="0.2" textLength="60.7" lengthAdjust="spacingAndGlyphs">(a) City 1</text></g>
<g><line x1="365.5" y1="0.5" x2="365.5" y2="218" stroke="#d0d0d0" stroke-width="1"/><line x1="682.5" y1="0.5" x2="682.5" y2="218" stroke="#d6d6d6" stroke-width="1"/><line x1="365.5" y1="218" x2="682.5" y2="218" stroke="#e6e6e6" stroke-width="1"/><line x1="365" y1="0.5" x2="683" y2="0.5" stroke="#bababa" stroke-width="1"/><line x1="363.7" y1="32" x2="365.5" y2="32" stroke="#b0b0b0" stroke-width="0.7"/><text x="362.5" y="34.05" font-size="5.7" fill="#1a1a1a" text-anchor="end" class="t" textLength="8.6" lengthAdjust="spacing">0.5</text><line x1="363.7" y1="70.1" x2="365.5" y2="70.1" stroke="#b0b0b0" stroke-width="0.7"/><text x="362.5" y="72.15" font-size="5.7" fill="#1a1a1a" text-anchor="end" class="t" textLength="8.6" lengthAdjust="spacing">0.4</text><line x1="363.7" y1="108.3" x2="365.5" y2="108.3" stroke="#b0b0b0" stroke-width="0.7"/><text x="362.5" y="110.35" font-size="5.7" fill="#1a1a1a" text-anchor="end" class="t" textLength="8.6" lengthAdjust="spacing">0.3</text><line x1="363.7" y1="146.3" x2="365.5" y2="146.3" stroke="#b0b0b0" stroke-width="0.7"/><text x="362.5" y="148.35" font-size="5.7" fill="#1a1a1a" text-anchor="end" class="t" textLength="8.6" lengthAdjust="spacing">0.2</text><line x1="363.7" y1="184.5" x2="365.5" y2="184.5" stroke="#b0b0b0" stroke-width="0.7"/><text x="362.5" y="186.55" font-size="5.7" fill="#1a1a1a" text-anchor="end" class="t" textLength="8.6" lengthAdjust="spacing">0.1</text><line x1="386" y1="218" x2="386" y2="219.8" stroke="#b0b0b0" stroke-width="0.7"/><text x="386" y="224.1" font-size="5.7" fill="#1a1a1a" text-anchor="middle" class="t" textLength="21.9" lengthAdjust="spacing">2018-01</text><line x1="421.6" y1="218" x2="421.6" y2="219.8" stroke="#b0b0b0" stroke-width="0.7"/><text x="421.6" y="224.1" font-size="5.7" fill="#1a1a1a" text-anchor="middle" class="t" textLength="21.9" lengthAdjust="spacing">2018-07</text><line x1="457.8" y1="218" x2="457.8" y2="219.8" stroke="#b0b0b0" stroke-width="0.7"/><text x="457.8" y="224.1" font-size="5.7" fill="#1a1a1a" text-anchor="middle" class="t" textLength="21.9" lengthAdjust="spacing">2019-01</text><line x1="493.4" y1="218" x2="493.4" y2="219.8" stroke="#b0b0b0" stroke-width="0.7"/><text x="493.4" y="224.1" font-size="5.7" fill="#1a1a1a" text-anchor="middle" class="t" textLength="21.9" lengthAdjust="spacing">2019-07</text><line x1="529.6" y1="218" x2="529.6" y2="219.8" stroke="#b0b0b0" stroke-width="0.7"/><text x="529.6" y="224.1" font-size="5.7" fill="#1a1a1a" text-anchor="middle" class="t" textLength="21.9" lengthAdjust="spacing">2020-01</text><line x1="565.4" y1="218" x2="565.4" y2="219.8" stroke="#b0b0b0" stroke-width="0.7"/><text x="565.4" y="224.1" font-size="5.7" fill="#1a1a1a" text-anchor="middle" class="t" textLength="21.9" lengthAdjust="spacing">2020-07</text><line x1="601.6" y1="218" x2="601.6" y2="219.8" stroke="#b0b0b0" stroke-width="0.7"/><text x="601.6" y="224.1" font-size="5.7" fill="#1a1a1a" text-anchor="middle" class="t" textLength="21.9" lengthAdjust="spacing">2021-01</text><line x1="637.2" y1="218" x2="637.2" y2="219.8" stroke="#b0b0b0" stroke-width="0.7"/><text x="637.2" y="224.1" font-size="5.7" fill="#1a1a1a" text-anchor="middle" class="t" textLength="21.9" lengthAdjust="spacing">2021-07</text><line x1="673.4" y1="218" x2="673.4" y2="219.8" stroke="#b0b0b0" stroke-width="0.7"/><text x="673.4" y="224.1" font-size="5.7" fill="#1a1a1a" text-anchor="middle" class="t" textLength="21.9" lengthAdjust="spacing">2022-01</text><text x="524" y="231.1" font-size="6.0" fill="#1a1a1a" text-anchor="middle" class="t" textLength="14" lengthAdjust="spacingAndGlyphs">Date</text><text transform="translate(352.2 110.25) rotate(-90)" x="0" y="0" font-size="6.0" fill="#1a1a1a" class="t" text-anchor="middle" textLength="35" lengthAdjust="spacingAndGlyphs">Importance</text><polyline points="379.9,108.59 386,151.77 392.1,96.85 397.6,115.08 403.7,124.31 409.6,103.59 415.7,107.84 421.6,112.83 427.7,61.66 433.8,90.86 439.7,73.89 445.8,85.87 451.7,89.37 457.8,131.05 463.9,84.12 469.41,53.67 475.5,79.88 481.4,109.34 487.5,42.94 493.4,84.12 499.5,144.28 505.6,119.82 511.5,154.77 517.6,74.89 523.5,64.4 529.6,61.16 535.7,57.91 541.4,38.69 547.5,87.87 553.4,91.86 559.5,111.33 565.4,133.05 571.5,113.58 577.6,94.86 583.5,62.91 589.6,98.1 595.5,129.81 601.6,60.41 607.7,26.21 613.2,41.19 619.3,109.09 625.2,34.45 631.3,9.99 637.2,23.22 643.3,56.67 649.4,69.4 655.3,114.83 661.4,122.32 667.3,118.57" fill="none" stroke="#1f77b4" stroke-width="1.0" stroke-opacity="0.6" stroke-linejoin="round"/><circle cx="379.9" cy="108.59" r="1.2" fill="#1f77b4"/><circle cx="386" cy="151.77" r="1.2" fill="#1f77b4"/><circle cx="392.1" cy="96.85" r="1.2" fill="#1f77b4"/><circle cx="397.6" cy="115.08" r="1.2" fill="#1f77b4"/><circle cx="403.7" cy="124.31" r="1.2" fill="#1f77b4"/><circle cx="409.6" cy="103.59" r="1.2" fill="#1f77b4"/><circle cx="415.7" cy="107.84" r="1.2" fill="#1f77b4"/><circle cx="421.6" cy="112.83" r="1.2" fill="#1f77b4"/><circle cx="427.7" cy="61.66" r="1.2" fill="#1f77b4"/><circle cx="433.8" cy="90.86" r="1.2" fill="#1f77b4"/><circle cx="439.7" cy="73.89" r="1.2" fill="#1f77b4"/><circle cx="445.8" cy="85.87" r="1.2" fill="#1f77b4"/><circle cx="451.7" cy="89.37" r="1.2" fill="#1f77b4"/><circle cx="457.8" cy="131.05" r="1.2" fill="#1f77b4"/><circle cx="463.9" cy="84.12" r="1.2" fill="#1f77b4"/><circle cx="469.41" cy="53.67" r="1.2" fill="#1f77b4"/><circle cx="475.5" cy="79.88" r="1.2" fill="#1f77b4"/><circle cx="481.4" cy="109.34" r="1.2" fill="#1f77b4"/><circle cx="487.5" cy="42.94" r="1.2" fill="#1f77b4"/><circle cx="493.4" cy="84.12" r="1.2" fill="#1f77b4"/><circle cx="499.5" cy="144.28" r="1.2" fill="#1f77b4"/><circle cx="505.6" cy="119.82" r="1.2" fill="#1f77b4"/><circle cx="511.5" cy="154.77" r="1.2" fill="#1f77b4"/><circle cx="517.6" cy="74.89" r="1.2" fill="#1f77b4"/><circle cx="523.5" cy="64.4" r="1.2" fill="#1f77b4"/><circle cx="529.6" cy="61.16" r="1.2" fill="#1f77b4"/><circle cx="535.7" cy="57.91" r="1.2" fill="#1f77b4"/><circle cx="541.4" cy="38.69" r="1.2" fill="#1f77b4"/><circle cx="547.5" cy="87.87" r="1.2" fill="#1f77b4"/><circle cx="553.4" cy="91.86" r="1.2" fill="#1f77b4"/><circle cx="559.5" cy="111.33" r="1.2" fill="#1f77b4"/><circle cx="565.4" cy="133.05" r="1.2" fill="#1f77b4"/><circle cx="571.5" cy="113.58" r="1.2" fill="#1f77b4"/><circle cx="577.6" cy="94.86" r="1.2" fill="#1f77b4"/><circle cx="583.5" cy="62.91" r="1.2" fill="#1f77b4"/><circle cx="589.6" cy="98.1" r="1.2" fill="#1f77b4"/><circle cx="595.5" cy="129.81" r="1.2" fill="#1f77b4"/><circle cx="601.6" cy="60.41" r="1.2" fill="#1f77b4"/><circle cx="607.7" cy="26.21" r="1.2" fill="#1f77b4"/><circle cx="613.2" cy="41.19" r="1.2" fill="#1f77b4"/><circle cx="619.3" cy="109.09" r="1.2" fill="#1f77b4"/><circle cx="625.2" cy="34.45" r="1.2" fill="#1f77b4"/><circle cx="631.3" cy="9.99" r="1.2" fill="#1f77b4"/><circle cx="637.2" cy="23.22" r="1.2" fill="#1f77b4"/><circle cx="643.3" cy="56.67" r="1.2" fill="#1f77b4"/><circle cx="649.4" cy="69.4" r="1.2" fill="#1f77b4"/><circle cx="655.3" cy="114.83" r="1.2" fill="#1f77b4"/><circle cx="661.4" cy="122.32" r="1.2" fill="#1f77b4"/><circle cx="667.3" cy="118.57" r="1.2" fill="#1f77b4"/><text x="382" y="106.99" font-size="6.5" fill="#1f77b4" fill-opacity="0.78" stroke="#1f77b4" stroke-width="0.1" stroke-opacity="0.5">43</text><text x="388.1" y="150.17" font-size="6.5" fill="#1f77b4" fill-opacity="0.78" stroke="#1f77b4" stroke-width="0.1" stroke-opacity="0.5">12</text><text x="394.2" y="95.25" font-size="6.5" fill="#1f77b4" fill-opacity="0.78" stroke="#1f77b4" stroke-width="0.1" stroke-opacity="0.5">46</text><text x="399.7" y="113.48" font-size="6.5" fill="#1f77b4" fill-opacity="0.78" stroke="#1f77b4" stroke-width="0.1" stroke-opacity="0.5">66</text><text x="405.8" y="122.71" font-size="6.5" fill="#1f77b4" fill-opacity="0.78" stroke="#1f77b4" stroke-width="0.1" stroke-opacity="0.5">6</text><text x="411.7" y="101.99" font-size="6.5" fill="#1f77b4" fill-opacity="0.78" stroke="#1f77b4" stroke-width="0.1" stroke-opacity="0.5">6</text><text x="417.8" y="106.24" font-size="6.5" fill="#1f77b4" fill-opacity="0.78" stroke="#1f77b4" stroke-width="0.1" stroke-opacity="0.5">6</text><text x="423.7" y="111.23" font-size="6.5" fill="#1f77b4" fill-opacity="0.78" stroke="#1f77b4" stroke-width="0.1" stroke-opacity="0.5">30</text><text x="429.8" y="60.06" font-size="6.5" fill="#1f77b4" fill-opacity="0.78" stroke="#1f77b4" stroke-width="0.1" stroke-opacity="0.5">58</text><text x="435.9" y="89.26" font-size="6.5" fill="#1f77b4" fill-opacity="0.78" stroke="#1f77b4" stroke-width="0.1" stroke-opacity="0.5">58</text><text x="441.8" y="72.29" font-size="6.5" fill="#1f77b4" fill-opacity="0.78" stroke="#1f77b4" stroke-width="0.1" stroke-opacity="0.5">22</text><text x="447.9" y="84.27" font-size="6.5" fill="#1f77b4" fill-opacity="0.78" stroke="#1f77b4" stroke-width="0.1" stroke-opacity="0.5">22</text><text x="453.8" y="87.77" font-size="6.5" fill="#1f77b4" fill-opacity="0.78" stroke="#1f77b4" stroke-width="0.1" stroke-opacity="0.5">23</text><text x="459.9" y="129.45" font-size="6.5" fill="#1f77b4" fill-opacity="0.78" stroke="#1f77b4" stroke-width="0.1" stroke-opacity="0.5">46</text><text x="466" y="82.52" font-size="6.5" fill="#1f77b4" fill-opacity="0.78" stroke="#1f77b4" stroke-width="0.1" stroke-opacity="0.5">43</text><text x="471.51" y="52.07" font-size="6.5" fill="#1f77b4" fill-opacity="0.78" stroke="#1f77b4" stroke-width="0.1" stroke-opacity="0.5">43</text><text x="477.6" y="78.28" font-size="6.5" fill="#1f77b4" fill-opacity="0.78" stroke="#1f77b4" stroke-width="0.1" stroke-opacity="0.5">43</text><text x="483.5" y="107.74" font-size="6.5" fill="#1f77b4" fill-opacity="0.78" stroke="#1f77b4" stroke-width="0.1" stroke-opacity="0.5">33</text><text x="489.6" y="41.34" font-size="6.5" fill="#1f77b4" fill-opacity="0.78" stroke="#1f77b4" stroke-width="0.1" stroke-opacity="0.5">47</text><text x="495.5" y="82.52" font-size="6.5" fill="#1f77b4" fill-opacity="0.78" stroke="#1f77b4" stroke-width="0.1" stroke-opacity="0.5">47</text><text x="501.6" y="142.68" font-size="6.5" fill="#1f77b4" fill-opacity="0.78" stroke="#1f77b4" stroke-width="0.1" stroke-opacity="0.5">31</text><text x="507.7" y="118.22" font-size="6.5" fill="#1f77b4" fill-opacity="0.78" stroke="#1f77b4" stroke-width="0.1" stroke-opacity="0.5">46</text><text x="513.6" y="153.17" font-size="6.5" fill="#1f77b4" fill-opacity="0.78" stroke="#1f77b4" stroke-width="0.1" stroke-opacity="0.5">5</text><text x="519.7" y="73.29" font-size="6.5" fill="#1f77b4" fill-opacity="0.78" stroke="#1f77b4" stroke-width="0.1" stroke-opacity="0.5">61</text><text x="525.6" y="62.8" font-size="6.5" fill="#1f77b4" fill-opacity="0.78" stroke="#1f77b4" stroke-width="0.1" stroke-opacity="0.5">2</text><text x="531.7" y="59.56" font-size="6.5" fill="#1f77b4" fill-opacity="0.78" stroke="#1f77b4" stroke-width="0.1" stroke-opacity="0.5">4</text><text x="537.8" y="56.31" font-size="6.5" fill="#1f77b4" fill-opacity="0.78" stroke="#1f77b4" stroke-width="0.1" stroke-opacity="0.5">4</text><text x="543.5" y="37.09" font-size="6.5" fill="#1f77b4" fill-opacity="0.78" stroke="#1f77b4" stroke-width="0.1" stroke-opacity="0.5">4</text><text x="549.6" y="86.27" font-size="6.5" fill="#1f77b4" fill-opacity="0.78" stroke="#1f77b4" stroke-width="0.1" stroke-opacity="0.5">4</text><text x="555.5" y="90.26" font-size="6.5" fill="#1f77b4" fill-opacity="0.78" stroke="#1f77b4" stroke-width="0.1" stroke-opacity="0.5">46</text><text x="561.6" y="109.73" font-size="6.5" fill="#1f77b4" fill-opacity="0.78" stroke="#1f77b4" stroke-width="0.1" stroke-opacity="0.5">49</text><text x="567.5" y="131.45" font-size="6.5" fill="#1f77b4" fill-opacity="0.78" stroke="#1f77b4" stroke-width="0.1" stroke-opacity="0.5">46</text><text x="573.6" y="111.98" font-size="6.5" fill="#1f77b4" fill-opacity="0.78" stroke="#1f77b4" stroke-width="0.1" stroke-opacity="0.5">46</text><text x="579.7" y="93.26" font-size="6.5" fill="#1f77b4" fill-opacity="0.78" stroke="#1f77b4" stroke-width="0.1" stroke-opacity="0.5">46</text><text x="585.6" y="61.31" font-size="6.5" fill="#1f77b4" fill-opacity="0.78" stroke="#1f77b4" stroke-width="0.1" stroke-opacity="0.5">46</text><text x="591.7" y="96.5" font-size="6.5" fill="#1f77b4" fill-opacity="0.78" stroke="#1f77b4" stroke-width="0.1" stroke-opacity="0.5">46</text><text x="597.6" y="128.21" font-size="6.5" fill="#1f77b4" fill-opacity="0.78" stroke="#1f77b4" stroke-width="0.1" stroke-opacity="0.5">46</text><text x="603.7" y="58.81" font-size="6.5" fill="#1f77b4" fill-opacity="0.78" stroke="#1f77b4" stroke-width="0.1" stroke-opacity="0.5">46</text><text x="609.8" y="24.61" font-size="6.5" fill="#1f77b4" fill-opacity="0.78" stroke="#1f77b4" stroke-width="0.1" stroke-opacity="0.5">46</text><text x="615.3" y="39.59" font-size="6.5" fill="#1f77b4" fill-opacity="0.78" stroke="#1f77b4" stroke-width="0.1" stroke-opacity="0.5">46</text><text x="621.4" y="107.49" font-size="6.5" fill="#1f77b4" fill-opacity="0.78" stroke="#1f77b4" stroke-width="0.1" stroke-opacity="0.5">46</text><text x="627.3" y="32.85" font-size="6.5" fill="#1f77b4" fill-opacity="0.78" stroke="#1f77b4" stroke-width="0.1" stroke-opacity="0.5">43</text><text x="633.4" y="8.39" font-size="6.5" fill="#1f77b4" fill-opacity="0.78" stroke="#1f77b4" stroke-width="0.1" stroke-opacity="0.5">46</text><text x="639.3" y="21.62" font-size="6.5" fill="#1f77b4" fill-opacity="0.78" stroke="#1f77b4" stroke-width="0.1" stroke-opacity="0.5">3</text><text x="645.4" y="55.07" font-size="6.5" fill="#1f77b4" fill-opacity="0.78" stroke="#1f77b4" stroke-width="0.1" stroke-opacity="0.5">46</text><text x="651.5" y="67.8" font-size="6.5" fill="#1f77b4" fill-opacity="0.78" stroke="#1f77b4" stroke-width="0.1" stroke-opacity="0.5">46</text><text x="657.4" y="113.23" font-size="6.5" fill="#1f77b4" fill-opacity="0.78" stroke="#1f77b4" stroke-width="0.1" stroke-opacity="0.5">46</text><text x="663.5" y="120.72" font-size="6.5" fill="#1f77b4" fill-opacity="0.78" stroke="#1f77b4" stroke-width="0.1" stroke-opacity="0.5">28</text><text x="669.4" y="116.97" font-size="6.5" fill="#1f77b4" fill-opacity="0.78" stroke="#1f77b4" stroke-width="0.1" stroke-opacity="0.5">4</text><polyline points="379.9,159.26 386,164.75 392.1,156.02 397.6,159.76 403.7,166 409.6,175.99 415.7,185.97 421.6,166 427.7,198.45 433.8,190.96 439.7,182.98 445.8,184.72 451.7,197.2 457.8,170 463.9,170.49 469.41,174.24 475.5,128.81 481.4,142.79 487.5,202.2 493.4,177.23 499.5,177.73 505.6,151.77 511.5,162.26 517.6,171.74 523.5,175.24 529.6,194.21 535.7,175.49 541.4,193.46 547.5,189.72 553.4,190.46 559.5,170.99 565.4,156.02 571.5,154.77 577.6,177.73 583.5,151.02 589.6,166.75 595.5,163.5 601.6,174.74 607.7,199.7 613.2,177.23 619.3,116.82 625.2,179.73 631.3,193.46 637.2,198.95 643.3,189.72 649.4,180.23 655.3,158.51 661.4,179.73 667.3,170.24" fill="none" stroke="#ff7f0e" stroke-width="1.0" stroke-opacity="0.6" stroke-linejoin="round"/><circle cx="379.9" cy="159.26" r="1.2" fill="#ff7f0e"/><circle cx="386" cy="164.75" r="1.2" fill="#ff7f0e"/><circle cx="392.1" cy="156.02" r="1.2" fill="#ff7f0e"/><circle cx="397.6" cy="159.76" r="1.2" fill="#ff7f0e"/><circle cx="403.7" cy="166" r="1.2" fill="#ff7f0e"/><circle cx="409.6" cy="175.99" r="1.2" fill="#ff7f0e"/><circle cx="415.7" cy="185.97" r="1.2" fill="#ff7f0e"/><circle cx="421.6" cy="166" r="1.2" fill="#ff7f0e"/><circle cx="427.7" cy="198.45" r="1.2" fill="#ff7f0e"/><circle cx="433.8" cy="190.96" r="1.2" fill="#ff7f0e"/><circle cx="439.7" cy="182.98" r="1.2" fill="#ff7f0e"/><circle cx="445.8" cy="184.72" r="1.2" fill="#ff7f0e"/><circle cx="451.7" cy="197.2" r="1.2" fill="#ff7f0e"/><circle cx="457.8" cy="170" r="1.2" fill="#ff7f0e"/><circle cx="463.9" cy="170.49" r="1.2" fill="#ff7f0e"/><circle cx="469.41" cy="174.24" r="1.2" fill="#ff7f0e"/><circle cx="475.5" cy="128.81" r="1.2" fill="#ff7f0e"/><circle cx="481.4" cy="142.79" r="1.2" fill="#ff7f0e"/><circle cx="487.5" cy="202.2" r="1.2" fill="#ff7f0e"/><circle cx="493.4" cy="177.23" r="1.2" fill="#ff7f0e"/><circle cx="499.5" cy="177.73" r="1.2" fill="#ff7f0e"/><circle cx="505.6" cy="151.77" r="1.2" fill="#ff7f0e"/><circle cx="511.5" cy="162.26" r="1.2" fill="#ff7f0e"/><circle cx="517.6" cy="171.74" r="1.2" fill="#ff7f0e"/><circle cx="523.5" cy="175.24" r="1.2" fill="#ff7f0e"/><circle cx="529.6" cy="194.21" r="1.2" fill="#ff7f0e"/><circle cx="535.7" cy="175.49" r="1.2" fill="#ff7f0e"/><circle cx="541.4" cy="193.46" r="1.2" fill="#ff7f0e"/><circle cx="547.5" cy="189.72" r="1.2" fill="#ff7f0e"/><circle cx="553.4" cy="190.46" r="1.2" fill="#ff7f0e"/><circle cx="559.5" cy="170.99" r="1.2" fill="#ff7f0e"/><circle cx="565.4" cy="156.02" r="1.2" fill="#ff7f0e"/><circle cx="571.5" cy="154.77" r="1.2" fill="#ff7f0e"/><circle cx="577.6" cy="177.73" r="1.2" fill="#ff7f0e"/><circle cx="583.5" cy="151.02" r="1.2" fill="#ff7f0e"/><circle cx="589.6" cy="166.75" r="1.2" fill="#ff7f0e"/><circle cx="595.5" cy="163.5" r="1.2" fill="#ff7f0e"/><circle cx="601.6" cy="174.74" r="1.2" fill="#ff7f0e"/><circle cx="607.7" cy="199.7" r="1.2" fill="#ff7f0e"/><circle cx="613.2" cy="177.23" r="1.2" fill="#ff7f0e"/><circle cx="619.3" cy="116.82" r="1.2" fill="#ff7f0e"/><circle cx="625.2" cy="179.73" r="1.2" fill="#ff7f0e"/><circle cx="631.3" cy="193.46" r="1.2" fill="#ff7f0e"/><circle cx="637.2" cy="198.95" r="1.2" fill="#ff7f0e"/><circle cx="643.3" cy="189.72" r="1.2" fill="#ff7f0e"/><circle cx="649.4" cy="180.23" r="1.2" fill="#ff7f0e"/><circle cx="655.3" cy="158.51" r="1.2" fill="#ff7f0e"/><circle cx="661.4" cy="179.73" r="1.2" fill="#ff7f0e"/><circle cx="667.3" cy="170.24" r="1.2" fill="#ff7f0e"/><text x="382" y="157.66" font-size="6.5" fill="#ff7f0e" fill-opacity="0.78" stroke="#ff7f0e" stroke-width="0.1" stroke-opacity="0.5">12</text><text x="388.1" y="163.15" font-size="6.5" fill="#ff7f0e" fill-opacity="0.78" stroke="#ff7f0e" stroke-width="0.1" stroke-opacity="0.5">26</text><text x="394.2" y="154.42" font-size="6.5" fill="#ff7f0e" fill-opacity="0.78" stroke="#ff7f0e" stroke-width="0.1" stroke-opacity="0.5">6</text><text x="399.7" y="158.16" font-size="6.5" fill="#ff7f0e" fill-opacity="0.78" stroke="#ff7f0e" stroke-width="0.1" stroke-opacity="0.5">46</text><text x="405.8" y="164.4" font-size="6.5" fill="#ff7f0e" fill-opacity="0.78" stroke="#ff7f0e" stroke-width="0.1" stroke-opacity="0.5">30</text><text x="411.7" y="174.39" font-size="6.5" fill="#ff7f0e" fill-opacity="0.78" stroke="#ff7f0e" stroke-width="0.1" stroke-opacity="0.5">5</text><text x="417.8" y="184.37" font-size="6.5" fill="#ff7f0e" fill-opacity="0.78" stroke="#ff7f0e" stroke-width="0.1" stroke-opacity="0.5">5</text><text x="423.7" y="164.4" font-size="6.5" fill="#ff7f0e" fill-opacity="0.78" stroke="#ff7f0e" stroke-width="0.1" stroke-opacity="0.5">15</text><text x="429.8" y="196.85" font-size="6.5" fill="#ff7f0e" fill-opacity="0.78" stroke="#ff7f0e" stroke-width="0.1" stroke-opacity="0.5">7</text><text x="435.9" y="189.36" font-size="6.5" fill="#ff7f0e" fill-opacity="0.78" stroke="#ff7f0e" stroke-width="0.1" stroke-opacity="0.5">26</text><text x="441.8" y="181.38" font-size="6.5" fill="#ff7f0e" fill-opacity="0.78" stroke="#ff7f0e" stroke-width="0.1" stroke-opacity="0.5">7</text><text x="447.9" y="183.12" font-size="6.5" fill="#ff7f0e" fill-opacity="0.78" stroke="#ff7f0e" stroke-width="0.1" stroke-opacity="0.5">7</text><text x="453.8" y="195.6" font-size="6.5" fill="#ff7f0e" fill-opacity="0.78" stroke="#ff7f0e" stroke-width="0.1" stroke-opacity="0.5">62</text><text x="459.9" y="168.4" font-size="6.5" fill="#ff7f0e" fill-opacity="0.78" stroke="#ff7f0e" stroke-width="0.1" stroke-opacity="0.5">4</text><text x="466" y="168.89" font-size="6.5" fill="#ff7f0e" fill-opacity="0.78" stroke="#ff7f0e" stroke-width="0.1" stroke-opacity="0.5">38</text><text x="471.51" y="172.64" font-size="6.5" fill="#ff7f0e" fill-opacity="0.78" stroke="#ff7f0e" stroke-width="0.1" stroke-opacity="0.5">33</text><text x="477.6" y="127.21" font-size="6.5" fill="#ff7f0e" fill-opacity="0.78" stroke="#ff7f0e" stroke-width="0.1" stroke-opacity="0.5">33</text><text x="483.5" y="141.19" font-size="6.5" fill="#ff7f0e" fill-opacity="0.78" stroke="#ff7f0e" stroke-width="0.1" stroke-opacity="0.5">46</text><text x="489.6" y="200.6" font-size="6.5" fill="#ff7f0e" fill-opacity="0.78" stroke="#ff7f0e" stroke-width="0.1" stroke-opacity="0.5">46</text><text x="495.5" y="175.63" font-size="6.5" fill="#ff7f0e" fill-opacity="0.78" stroke="#ff7f0e" stroke-width="0.1" stroke-opacity="0.5">4</text><text x="501.6" y="176.13" font-size="6.5" fill="#ff7f0e" fill-opacity="0.78" stroke="#ff7f0e" stroke-width="0.1" stroke-opacity="0.5">4</text><text x="507.7" y="150.17" font-size="6.5" fill="#ff7f0e" fill-opacity="0.78" stroke="#ff7f0e" stroke-width="0.1" stroke-opacity="0.5">24</text><text x="513.6" y="160.66" font-size="6.5" fill="#ff7f0e" fill-opacity="0.78" stroke="#ff7f0e" stroke-width="0.1" stroke-opacity="0.5">5</text><text x="519.7" y="170.14" font-size="6.5" fill="#ff7f0e" fill-opacity="0.78" stroke="#ff7f0e" stroke-width="0.1" stroke-opacity="0.5">50</text><text x="525.6" y="173.64" font-size="6.5" fill="#ff7f0e" fill-opacity="0.78" stroke="#ff7f0e" stroke-width="0.1" stroke-opacity="0.5">40</text><text x="531.7" y="192.61" font-size="6.5" fill="#ff7f0e" fill-opacity="0.78" stroke="#ff7f0e" stroke-width="0.1" stroke-opacity="0.5">7</text><text x="537.8" y="173.89" font-size="6.5" fill="#ff7f0e" fill-opacity="0.78" stroke="#ff7f0e" stroke-width="0.1" stroke-opacity="0.5">7</text><text x="543.5" y="191.86" font-size="6.5" fill="#ff7f0e" fill-opacity="0.78" stroke="#ff7f0e" stroke-width="0.1" stroke-opacity="0.5">7</text><text x="549.6" y="188.12" font-size="6.5" fill="#ff7f0e" fill-opacity="0.78" stroke="#ff7f0e" stroke-width="0.1" stroke-opacity="0.5">2</text><text x="555.5" y="188.86" font-size="6.5" fill="#ff7f0e" fill-opacity="0.78" stroke="#ff7f0e" stroke-width="0.1" stroke-opacity="0.5">33</text><text x="561.6" y="169.39" font-size="6.5" fill="#ff7f0e" fill-opacity="0.78" stroke="#ff7f0e" stroke-width="0.1" stroke-opacity="0.5">40</text><text x="567.5" y="154.42" font-size="6.5" fill="#ff7f0e" fill-opacity="0.78" stroke="#ff7f0e" stroke-width="0.1" stroke-opacity="0.5">3</text><text x="573.6" y="153.17" font-size="6.5" fill="#ff7f0e" fill-opacity="0.78" stroke="#ff7f0e" stroke-width="0.1" stroke-opacity="0.5">8</text><text x="579.7" y="176.13" font-size="6.5" fill="#ff7f0e" fill-opacity="0.78" stroke="#ff7f0e" stroke-width="0.1" stroke-opacity="0.5">29</text><text x="585.6" y="149.42" font-size="6.5" fill="#ff7f0e" fill-opacity="0.78" stroke="#ff7f0e" stroke-width="0.1" stroke-opacity="0.5">19</text><text x="591.7" y="165.15" font-size="6.5" fill="#ff7f0e" fill-opacity="0.78" stroke="#ff7f0e" stroke-width="0.1" stroke-opacity="0.5">19</text><text x="597.6" y="161.9" font-size="6.5" fill="#ff7f0e" fill-opacity="0.78" stroke="#ff7f0e" stroke-width="0.1" stroke-opacity="0.5">19</text><text x="603.7" y="173.14" font-size="6.5" fill="#ff7f0e" fill-opacity="0.78" stroke="#ff7f0e" stroke-width="0.1" stroke-opacity="0.5">4</text><text x="609.8" y="198.1" font-size="6.5" fill="#ff7f0e" fill-opacity="0.78" stroke="#ff7f0e" stroke-width="0.1" stroke-opacity="0.5">1</text><text x="615.3" y="175.63" font-size="6.5" fill="#ff7f0e" fill-opacity="0.78" stroke="#ff7f0e" stroke-width="0.1" stroke-opacity="0.5">43</text><text x="621.4" y="115.22" font-size="6.5" fill="#ff7f0e" fill-opacity="0.78" stroke="#ff7f0e" stroke-width="0.1" stroke-opacity="0.5">20</text><text x="627.3" y="178.13" font-size="6.5" fill="#ff7f0e" fill-opacity="0.78" stroke="#ff7f0e" stroke-width="0.1" stroke-opacity="0.5">86</text><text x="633.4" y="191.86" font-size="6.5" fill="#ff7f0e" fill-opacity="0.78" stroke="#ff7f0e" stroke-width="0.1" stroke-opacity="0.5">3</text><text x="639.3" y="197.35" font-size="6.5" fill="#ff7f0e" fill-opacity="0.78" stroke="#ff7f0e" stroke-width="0.1" stroke-opacity="0.5">43</text><text x="645.4" y="188.12" font-size="6.5" fill="#ff7f0e" fill-opacity="0.78" stroke="#ff7f0e" stroke-width="0.1" stroke-opacity="0.5">3</text><text x="651.5" y="178.63" font-size="6.5" fill="#ff7f0e" fill-opacity="0.78" stroke="#ff7f0e" stroke-width="0.1" stroke-opacity="0.5">20</text><text x="657.4" y="156.91" font-size="6.5" fill="#ff7f0e" fill-opacity="0.78" stroke="#ff7f0e" stroke-width="0.1" stroke-opacity="0.5">20</text><text x="663.5" y="178.13" font-size="6.5" fill="#ff7f0e" fill-opacity="0.78" stroke="#ff7f0e" stroke-width="0.1" stroke-opacity="0.5">12</text><text x="669.4" y="168.64" font-size="6.5" fill="#ff7f0e" fill-opacity="0.78" stroke="#ff7f0e" stroke-width="0.1" stroke-opacity="0.5">3</text><polyline points="379.9,202.2 386,168.75 392.1,200.95 397.6,187.72 403.7,193.96 409.6,200.2 415.7,204.69 421.6,205.19 427.7,199.7 433.8,199.7 439.7,201.2 445.8,193.46 451.7,202.7 457.8,183.97 463.9,200.7 469.41,207.94 475.5,202.2 481.4,184.22 487.5,203.94 493.4,195.96 499.5,177.98 505.6,193.46 511.5,179.73 517.6,207.19 523.5,202.7 529.6,201.7 535.7,206.69 541.4,208.44 547.5,199.7 553.4,205.19 559.5,179.23 565.4,180.23 571.5,201.7 577.6,188.97 583.5,204.19 589.6,194.71 595.5,182.98 601.6,206.69 607.7,202.2 613.2,183.47 619.3,186.72 625.2,197.2 631.3,207.19 637.2,202.2 643.3,199.7 649.4,189.22 655.3,184.72 661.4,183.47 667.3,200.45" fill="none" stroke="#2ca02c" stroke-width="1.0" stroke-opacity="0.6" stroke-linejoin="round"/><circle cx="379.9" cy="202.2" r="1.2" fill="#2ca02c"/><circle cx="386" cy="168.75" r="1.2" fill="#2ca02c"/><circle cx="392.1" cy="200.95" r="1.2" fill="#2ca02c"/><circle cx="397.6" cy="187.72" r="1.2" fill="#2ca02c"/><circle cx="403.7" cy="193.96" r="1.2" fill="#2ca02c"/><circle cx="409.6" cy="200.2" r="1.2" fill="#2ca02c"/><circle cx="415.7" cy="204.69" r="1.2" fill="#2ca02c"/><circle cx="421.6" cy="205.19" r="1.2" fill="#2ca02c"/><circle cx="427.7" cy="199.7" r="1.2" fill="#2ca02c"/><circle cx="433.8" cy="199.7" r="1.2" fill="#2ca02c"/><circle cx="439.7" cy="201.2" r="1.2" fill="#2ca02c"/><circle cx="445.8" cy="193.46" r="1.2" fill="#2ca02c"/><circle cx="451.7" cy="202.7" r="1.2" fill="#2ca02c"/><circle cx="457.8" cy="183.97" r="1.2" fill="#2ca02c"/><circle cx="463.9" cy="200.7" r="1.2" fill="#2ca02c"/><circle cx="469.41" cy="207.94" r="1.2" fill="#2ca02c"/><circle cx="475.5" cy="202.2" r="1.2" fill="#2ca02c"/><circle cx="481.4" cy="184.22" r="1.2" fill="#2ca02c"/><circle cx="487.5" cy="203.94" r="1.2" fill="#2ca02c"/><circle cx="493.4" cy="195.96" r="1.2" fill="#2ca02c"/><circle cx="499.5" cy="177.98" r="1.2" fill="#2ca02c"/><circle cx="505.6" cy="193.46" r="1.2" fill="#2ca02c"/><circle cx="511.5" cy="179.73" r="1.2" fill="#2ca02c"/><circle cx="517.6" cy="207.19" r="1.2" fill="#2ca02c"/><circle cx="523.5" cy="202.7" r="1.2" fill="#2ca02c"/><circle cx="529.6" cy="201.7" r="1.2" fill="#2ca02c"/><circle cx="535.7" cy="206.69" r="1.2" fill="#2ca02c"/><circle cx="541.4" cy="208.44" r="1.2" fill="#2ca02c"/><circle cx="547.5" cy="199.7" r="1.2" fill="#2ca02c"/><circle cx="553.4" cy="205.19" r="1.2" fill="#2ca02c"/><circle cx="559.5" cy="179.23" r="1.2" fill="#2ca02c"/><circle cx="565.4" cy="180.23" r="1.2" fill="#2ca02c"/><circle cx="571.5" cy="201.7" r="1.2" fill="#2ca02c"/><circle cx="577.6" cy="188.97" r="1.2" fill="#2ca02c"/><circle cx="583.5" cy="204.19" r="1.2" fill="#2ca02c"/><circle cx="589.6" cy="194.71" r="1.2" fill="#2ca02c"/><circle cx="595.5" cy="182.98" r="1.2" fill="#2ca02c"/><circle cx="601.6" cy="206.69" r="1.2" fill="#2ca02c"/><circle cx="607.7" cy="202.2" r="1.2" fill="#2ca02c"/><circle cx="613.2" cy="183.47" r="1.2" fill="#2ca02c"/><circle cx="619.3" cy="186.72" r="1.2" fill="#2ca02c"/><circle cx="625.2" cy="197.2" r="1.2" fill="#2ca02c"/><circle cx="631.3" cy="207.19" r="1.2" fill="#2ca02c"/><circle cx="637.2" cy="202.2" r="1.2" fill="#2ca02c"/><circle cx="643.3" cy="199.7" r="1.2" fill="#2ca02c"/><circle cx="649.4" cy="189.22" r="1.2" fill="#2ca02c"/><circle cx="655.3" cy="184.72" r="1.2" fill="#2ca02c"/><circle cx="661.4" cy="183.47" r="1.2" fill="#2ca02c"/><circle cx="667.3" cy="200.45" r="1.2" fill="#2ca02c"/><text x="382" y="200.6" font-size="6.5" fill="#2ca02c" fill-opacity="0.78" stroke="#2ca02c" stroke-width="0.1" stroke-opacity="0.5">62</text><text x="388.1" y="167.15" font-size="6.5" fill="#2ca02c" fill-opacity="0.78" stroke="#2ca02c" stroke-width="0.1" stroke-opacity="0.5">26</text><text x="394.2" y="199.35" font-size="6.5" fill="#2ca02c" fill-opacity="0.78" stroke="#2ca02c" stroke-width="0.1" stroke-opacity="0.5">12</text><text x="399.7" y="186.12" font-size="6.5" fill="#2ca02c" fill-opacity="0.78" stroke="#2ca02c" stroke-width="0.1" stroke-opacity="0.5">62</text><text x="405.8" y="192.36" font-size="6.5" fill="#2ca02c" fill-opacity="0.78" stroke="#2ca02c" stroke-width="0.1" stroke-opacity="0.5">12</text><text x="411.7" y="198.6" font-size="6.5" fill="#2ca02c" fill-opacity="0.78" stroke="#2ca02c" stroke-width="0.1" stroke-opacity="0.5">12</text><text x="417.8" y="203.09" font-size="6.5" fill="#2ca02c" fill-opacity="0.78" stroke="#2ca02c" stroke-width="0.1" stroke-opacity="0.5">8</text><text x="423.7" y="203.59" font-size="6.5" fill="#2ca02c" fill-opacity="0.78" stroke="#2ca02c" stroke-width="0.1" stroke-opacity="0.5">7</text><text x="429.8" y="198.1" font-size="6.5" fill="#2ca02c" fill-opacity="0.78" stroke="#2ca02c" stroke-width="0.1" stroke-opacity="0.5">6</text><text x="435.9" y="198.1" font-size="6.5" fill="#2ca02c" fill-opacity="0.78" stroke="#2ca02c" stroke-width="0.1" stroke-opacity="0.5">7</text><text x="441.8" y="199.6" font-size="6.5" fill="#2ca02c" fill-opacity="0.78" stroke="#2ca02c" stroke-width="0.1" stroke-opacity="0.5">6</text><text x="447.9" y="191.86" font-size="6.5" fill="#2ca02c" fill-opacity="0.78" stroke="#2ca02c" stroke-width="0.1" stroke-opacity="0.5">6</text><text x="453.8" y="201.1" font-size="6.5" fill="#2ca02c" fill-opacity="0.78" stroke="#2ca02c" stroke-width="0.1" stroke-opacity="0.5">17</text><text x="459.9" y="182.37" font-size="6.5" fill="#2ca02c" fill-opacity="0.78" stroke="#2ca02c" stroke-width="0.1" stroke-opacity="0.5">25</text><text x="466" y="199.1" font-size="6.5" fill="#2ca02c" fill-opacity="0.78" stroke="#2ca02c" stroke-width="0.1" stroke-opacity="0.5">4</text><text x="471.51" y="206.34" font-size="6.5" fill="#2ca02c" fill-opacity="0.78" stroke="#2ca02c" stroke-width="0.1" stroke-opacity="0.5">4</text><text x="477.6" y="200.6" font-size="6.5" fill="#2ca02c" fill-opacity="0.78" stroke="#2ca02c" stroke-width="0.1" stroke-opacity="0.5">47</text><text x="483.5" y="182.62" font-size="6.5" fill="#2ca02c" fill-opacity="0.78" stroke="#2ca02c" stroke-width="0.1" stroke-opacity="0.5">47</text><text x="489.6" y="202.34" font-size="6.5" fill="#2ca02c" fill-opacity="0.78" stroke="#2ca02c" stroke-width="0.1" stroke-opacity="0.5">46</text><text x="495.5" y="194.36" font-size="6.5" fill="#2ca02c" fill-opacity="0.78" stroke="#2ca02c" stroke-width="0.1" stroke-opacity="0.5">8</text><text x="501.6" y="176.38" font-size="6.5" fill="#2ca02c" fill-opacity="0.78" stroke="#2ca02c" stroke-width="0.1" stroke-opacity="0.5">26</text><text x="507.7" y="191.86" font-size="6.5" fill="#2ca02c" fill-opacity="0.78" stroke="#2ca02c" stroke-width="0.1" stroke-opacity="0.5">33</text><text x="513.6" y="178.13" font-size="6.5" fill="#2ca02c" fill-opacity="0.78" stroke="#2ca02c" stroke-width="0.1" stroke-opacity="0.5">4</text><text x="519.7" y="205.59" font-size="6.5" fill="#2ca02c" fill-opacity="0.78" stroke="#2ca02c" stroke-width="0.1" stroke-opacity="0.5">44</text><text x="525.6" y="201.1" font-size="6.5" fill="#2ca02c" fill-opacity="0.78" stroke="#2ca02c" stroke-width="0.1" stroke-opacity="0.5">8</text><text x="531.7" y="200.1" font-size="6.5" fill="#2ca02c" fill-opacity="0.78" stroke="#2ca02c" stroke-width="0.1" stroke-opacity="0.5">8</text><text x="537.8" y="205.09" font-size="6.5" fill="#2ca02c" fill-opacity="0.78" stroke="#2ca02c" stroke-width="0.1" stroke-opacity="0.5">36</text><text x="543.5" y="206.84" font-size="6.5" fill="#2ca02c" fill-opacity="0.78" stroke="#2ca02c" stroke-width="0.1" stroke-opacity="0.5">59</text><text x="549.6" y="198.1" font-size="6.5" fill="#2ca02c" fill-opacity="0.78" stroke="#2ca02c" stroke-width="0.1" stroke-opacity="0.5">7</text><text x="555.5" y="203.59" font-size="6.5" fill="#2ca02c" fill-opacity="0.78" stroke="#2ca02c" stroke-width="0.1" stroke-opacity="0.5">18</text><text x="561.6" y="177.63" font-size="6.5" fill="#2ca02c" fill-opacity="0.78" stroke="#2ca02c" stroke-width="0.1" stroke-opacity="0.5">1</text><text x="567.5" y="178.63" font-size="6.5" fill="#2ca02c" fill-opacity="0.78" stroke="#2ca02c" stroke-width="0.1" stroke-opacity="0.5">40</text><text x="573.6" y="200.1" font-size="6.5" fill="#2ca02c" fill-opacity="0.78" stroke="#2ca02c" stroke-width="0.1" stroke-opacity="0.5">49</text><text x="579.7" y="187.37" font-size="6.5" fill="#2ca02c" fill-opacity="0.78" stroke="#2ca02c" stroke-width="0.1" stroke-opacity="0.5">32</text><text x="585.6" y="202.59" font-size="6.5" fill="#2ca02c" fill-opacity="0.78" stroke="#2ca02c" stroke-width="0.1" stroke-opacity="0.5">29</text><text x="591.7" y="193.11" font-size="6.5" fill="#2ca02c" fill-opacity="0.78" stroke="#2ca02c" stroke-width="0.1" stroke-opacity="0.5">29</text><text x="597.6" y="181.38" font-size="6.5" fill="#2ca02c" fill-opacity="0.78" stroke="#2ca02c" stroke-width="0.1" stroke-opacity="0.5">11</text><text x="603.7" y="205.09" font-size="6.5" fill="#2ca02c" fill-opacity="0.78" stroke="#2ca02c" stroke-width="0.1" stroke-opacity="0.5">52</text><text x="609.8" y="200.6" font-size="6.5" fill="#2ca02c" fill-opacity="0.78" stroke="#2ca02c" stroke-width="0.1" stroke-opacity="0.5">11</text><text x="615.3" y="181.87" font-size="6.5" fill="#2ca02c" fill-opacity="0.78" stroke="#2ca02c" stroke-width="0.1" stroke-opacity="0.5">4</text><text x="621.4" y="185.12" font-size="6.5" fill="#2ca02c" fill-opacity="0.78" stroke="#2ca02c" stroke-width="0.1" stroke-opacity="0.5">43</text><text x="627.3" y="195.6" font-size="6.5" fill="#2ca02c" fill-opacity="0.78" stroke="#2ca02c" stroke-width="0.1" stroke-opacity="0.5">42</text><text x="633.4" y="205.59" font-size="6.5" fill="#2ca02c" fill-opacity="0.78" stroke="#2ca02c" stroke-width="0.1" stroke-opacity="0.5">8</text><text x="639.3" y="200.6" font-size="6.5" fill="#2ca02c" fill-opacity="0.78" stroke="#2ca02c" stroke-width="0.1" stroke-opacity="0.5">53</text><text x="645.4" y="198.1" font-size="6.5" fill="#2ca02c" fill-opacity="0.78" stroke="#2ca02c" stroke-width="0.1" stroke-opacity="0.5">18</text><text x="651.5" y="187.62" font-size="6.5" fill="#2ca02c" fill-opacity="0.78" stroke="#2ca02c" stroke-width="0.1" stroke-opacity="0.5">4</text><text x="657.4" y="183.12" font-size="6.5" fill="#2ca02c" fill-opacity="0.78" stroke="#2ca02c" stroke-width="0.1" stroke-opacity="0.5">4</text><text x="663.5" y="181.87" font-size="6.5" fill="#2ca02c" fill-opacity="0.78" stroke="#2ca02c" stroke-width="0.1" stroke-opacity="0.5">31</text><text x="669.4" y="198.85" font-size="6.5" fill="#2ca02c" fill-opacity="0.78" stroke="#2ca02c" stroke-width="0.1" stroke-opacity="0.5">13</text><rect x="371.7" y="4.8" width="101.6" height="28.8" rx="1.2" fill="#fff" fill-opacity="0.8" stroke="#e2e2e2" stroke-width="0.7"/><line x1="373.7" y1="9.8" x2="386.5" y2="9.8" stroke="#1f77b4" stroke-width="1" stroke-opacity="0.6"/><circle cx="380.1" cy="9.8" r="1.35" fill="#1f77b4"/><text x="391.8" y="12.3" font-size="6.5" fill="#1a1a1a" class="t" textLength="78.6" lengthAdjust="spacing">Top 1 Feature Importance</text><line x1="373.7" y1="18.85" x2="386.5" y2="18.85" stroke="#ff7f0e" stroke-width="1" stroke-opacity="0.6"/><circle cx="380.1" cy="18.85" r="1.35" fill="#ff7f0e"/><text x="391.8" y="21.35" font-size="6.5" fill="#1a1a1a" class="t" textLength="78.6" lengthAdjust="spacing">Top 2 Feature Importance</text><line x1="373.7" y1="27.9" x2="386.5" y2="27.9" stroke="#2ca02c" stroke-width="1" stroke-opacity="0.6"/><circle cx="380.1" cy="27.9" r="1.35" fill="#2ca02c"/><text x="391.8" y="30.4" font-size="6.5" fill="#1a1a1a" class="t" textLength="78.6" lengthAdjust="spacing">Top 3 Feature Importance</text><text class="cap" x="486.2" y="258.4" font-size="15.6" fill="#111" stroke="#111" stroke-width="0.2" textLength="62.5" lengthAdjust="spacingAndGlyphs">(b) City 2</text></g>
<g><line x1="21.7" y1="264.3" x2="21.7" y2="482.2" stroke="#e8e8e8" stroke-width="1"/><line x1="334.5" y1="264.3" x2="334.5" y2="482.2" stroke="#d6d6d6" stroke-width="1"/><line x1="21.7" y1="482.2" x2="334.5" y2="482.2" stroke="#e6e6e6" stroke-width="1"/><line x1="21.2" y1="264.3" x2="335" y2="264.3" stroke="#bababa" stroke-width="1"/><line x1="19.9" y1="274.2" x2="21.7" y2="274.2" stroke="#b0b0b0" stroke-width="0.7"/><text x="18.7" y="276.25" font-size="5.7" fill="#1a1a1a" text-anchor="end" class="t" textLength="11.9" lengthAdjust="spacing">0.45</text><line x1="19.9" y1="298.4" x2="21.7" y2="298.4" stroke="#b0b0b0" stroke-width="0.7"/><text x="18.7" y="300.45" font-size="5.7" fill="#1a1a1a" text-anchor="end" class="t" textLength="11.9" lengthAdjust="spacing">0.40</text><line x1="19.9" y1="322.9" x2="21.7" y2="322.9" stroke="#b0b0b0" stroke-width="0.7"/><text x="18.7" y="324.95" font-size="5.7" fill="#1a1a1a" text-anchor="end" class="t" textLength="11.9" lengthAdjust="spacing">0.35</text><line x1="19.9" y1="347.1" x2="21.7" y2="347.1" stroke="#b0b0b0" stroke-width="0.7"/><text x="18.7" y="349.15" font-size="5.7" fill="#1a1a1a" text-anchor="end" class="t" textLength="11.9" lengthAdjust="spacing">0.30</text><line x1="19.9" y1="371.6" x2="21.7" y2="371.6" stroke="#b0b0b0" stroke-width="0.7"/><text x="18.7" y="373.65" font-size="5.7" fill="#1a1a1a" text-anchor="end" class="t" textLength="11.9" lengthAdjust="spacing">0.25</text><line x1="19.9" y1="395.8" x2="21.7" y2="395.8" stroke="#b0b0b0" stroke-width="0.7"/><text x="18.7" y="397.85" font-size="5.7" fill="#1a1a1a" text-anchor="end" class="t" textLength="11.9" lengthAdjust="spacing">0.20</text><line x1="19.9" y1="420.3" x2="21.7" y2="420.3" stroke="#b0b0b0" stroke-width="0.7"/><text x="18.7" y="422.35" font-size="5.7" fill="#1a1a1a" text-anchor="end" class="t" textLength="11.9" lengthAdjust="spacing">0.15</text><line x1="19.9" y1="444.5" x2="21.7" y2="444.5" stroke="#b0b0b0" stroke-width="0.7"/><text x="18.7" y="446.55" font-size="5.7" fill="#1a1a1a" text-anchor="end" class="t" textLength="11.9" lengthAdjust="spacing">0.10</text><line x1="19.9" y1="468.9" x2="21.7" y2="468.9" stroke="#b0b0b0" stroke-width="0.7"/><text x="18.7" y="470.95" font-size="5.7" fill="#1a1a1a" text-anchor="end" class="t" textLength="11.9" lengthAdjust="spacing">0.05</text><line x1="41.78" y1="482.2" x2="41.78" y2="484" stroke="#b0b0b0" stroke-width="0.7"/><text x="41.78" y="488.3" font-size="5.7" fill="#1a1a1a" text-anchor="middle" class="t" textLength="21.9" lengthAdjust="spacing">2018-01</text><line x1="77" y1="482.2" x2="77" y2="484" stroke="#b0b0b0" stroke-width="0.7"/><text x="77" y="488.3" font-size="5.7" fill="#1a1a1a" text-anchor="middle" class="t" textLength="21.9" lengthAdjust="spacing">2018-07</text><line x1="112.8" y1="482.2" x2="112.8" y2="484" stroke="#b0b0b0" stroke-width="0.7"/><text x="112.8" y="488.3" font-size="5.7" fill="#1a1a1a" text-anchor="middle" class="t" textLength="21.9" lengthAdjust="spacing">2019-01</text><line x1="148.01" y1="482.2" x2="148.01" y2="484" stroke="#b0b0b0" stroke-width="0.7"/><text x="148.01" y="488.3" font-size="5.7" fill="#1a1a1a" text-anchor="middle" class="t" textLength="21.9" lengthAdjust="spacing">2019-07</text><line x1="183.81" y1="482.2" x2="183.81" y2="484" stroke="#b0b0b0" stroke-width="0.7"/><text x="183.81" y="488.3" font-size="5.7" fill="#1a1a1a" text-anchor="middle" class="t" textLength="21.9" lengthAdjust="spacing">2020-01</text><line x1="219.22" y1="482.2" x2="219.22" y2="484" stroke="#b0b0b0" stroke-width="0.7"/><text x="219.22" y="488.3" font-size="5.7" fill="#1a1a1a" text-anchor="middle" class="t" textLength="21.9" lengthAdjust="spacing">2020-07</text><line x1="255.02" y1="482.2" x2="255.02" y2="484" stroke="#b0b0b0" stroke-width="0.7"/><text x="255.02" y="488.3" font-size="5.7" fill="#1a1a1a" text-anchor="middle" class="t" textLength="21.9" lengthAdjust="spacing">2021-01</text><line x1="290.23" y1="482.2" x2="290.23" y2="484" stroke="#b0b0b0" stroke-width="0.7"/><text x="290.23" y="488.3" font-size="5.7" fill="#1a1a1a" text-anchor="middle" class="t" textLength="21.9" lengthAdjust="spacing">2021-07</text><line x1="326.03" y1="482.2" x2="326.03" y2="484" stroke="#b0b0b0" stroke-width="0.7"/><text x="326.03" y="488.3" font-size="5.7" fill="#1a1a1a" text-anchor="middle" class="t" textLength="21.9" lengthAdjust="spacing">2022-01</text><text x="178.1" y="495.3" font-size="6.0" fill="#1a1a1a" text-anchor="middle" class="t" textLength="14" lengthAdjust="spacingAndGlyphs">Date</text><text transform="translate(5 374.25) rotate(-90)" x="0" y="0" font-size="6.0" fill="#1a1a1a" class="t" text-anchor="middle" textLength="35" lengthAdjust="spacingAndGlyphs">Importance</text><polyline points="35.75,428 41.78,361.84 47.81,430.99 53.26,433.99 59.29,436.73 65.13,392.3 71.16,414.02 77,394.79 83.03,418.51 89.06,399.54 94.9,413.52 100.93,415.51 106.76,405.28 112.8,387.56 118.83,423 124.27,430.24 130.31,420.26 136.14,408.27 142.17,384.06 148.01,294.2 154.04,369.58 160.07,387.31 165.91,369.58 171.94,364.09 177.78,355.35 183.81,389.55 189.84,377.82 195.48,359.1 201.51,307.93 207.35,334.39 213.38,312.42 219.22,274.23 225.25,322.9 231.28,317.91 237.12,346.62 243.15,388.8 248.99,395.29 255.02,417.76 261.05,297.94 266.5,318.41 272.53,384.06 278.36,354.11 284.4,352.86 290.23,442.72 296.26,391.55 302.3,431.49 308.13,382.81 314.16,407.78 320,421.5" fill="none" stroke="#1f77b4" stroke-width="1.0" stroke-opacity="0.6" stroke-linejoin="round"/><circle cx="35.75" cy="428" r="1.2" fill="#1f77b4"/><circle cx="41.78" cy="361.84" r="1.2" fill="#1f77b4"/><circle cx="47.81" cy="430.99" r="1.2" fill="#1f77b4"/><circle cx="53.26" cy="433.99" r="1.2" fill="#1f77b4"/><circle cx="59.29" cy="436.73" r="1.2" fill="#1f77b4"/><circle cx="65.13" cy="392.3" r="1.2" fill="#1f77b4"/><circle cx="71.16" cy="414.02" r="1.2" fill="#1f77b4"/><circle cx="77" cy="394.79" r="1.2" fill="#1f77b4"/><circle cx="83.03" cy="418.51" r="1.2" fill="#1f77b4"/><circle cx="89.06" cy="399.54" r="1.2" fill="#1f77b4"/><circle cx="94.9" cy="413.52" r="1.2" fill="#1f77b4"/><circle cx="100.93" cy="415.51" r="1.2" fill="#1f77b4"/><circle cx="106.76" cy="405.28" r="1.2" fill="#1f77b4"/><circle cx="112.8" cy="387.56" r="1.2" fill="#1f77b4"/><circle cx="118.83" cy="423" r="1.2" fill="#1f77b4"/><circle cx="124.27" cy="430.24" r="1.2" fill="#1f77b4"/><circle cx="130.31" cy="420.26" r="1.2" fill="#1f77b4"/><circle cx="136.14" cy="408.27" r="1.2" fill="#1f77b4"/><circle cx="142.17" cy="384.06" r="1.2" fill="#1f77b4"/><circle cx="148.01" cy="294.2" r="1.2" fill="#1f77b4"/><circle cx="154.04" cy="369.58" r="1.2" fill="#1f77b4"/><circle cx="160.07" cy="387.31" r="1.2" fill="#1f77b4"/><circle cx="165.91" cy="369.58" r="1.2" fill="#1f77b4"/><circle cx="171.94" cy="364.09" r="1.2" fill="#1f77b4"/><circle cx="177.78" cy="355.35" r="1.2" fill="#1f77b4"/><circle cx="183.81" cy="389.55" r="1.2" fill="#1f77b4"/><circle cx="189.84" cy="377.82" r="1.2" fill="#1f77b4"/><circle cx="195.48" cy="359.1" r="1.2" fill="#1f77b4"/><circle cx="201.51" cy="307.93" r="1.2" fill="#1f77b4"/><circle cx="207.35" cy="334.39" r="1.2" fill="#1f77b4"/><circle cx="213.38" cy="312.42" r="1.2" fill="#1f77b4"/><circle cx="219.22" cy="274.23" r="1.2" fill="#1f77b4"/><circle cx="225.25" cy="322.9" r="1.2" fill="#1f77b4"/><circle cx="231.28" cy="317.91" r="1.2" fill="#1f77b4"/><circle cx="237.12" cy="346.62" r="1.2" fill="#1f77b4"/><circle cx="243.15" cy="388.8" r="1.2" fill="#1f77b4"/><circle cx="248.99" cy="395.29" r="1.2" fill="#1f77b4"/><circle cx="255.02" cy="417.76" r="1.2" fill="#1f77b4"/><circle cx="261.05" cy="297.94" r="1.2" fill="#1f77b4"/><circle cx="266.5" cy="318.41" r="1.2" fill="#1f77b4"/><circle cx="272.53" cy="384.06" r="1.2" fill="#1f77b4"/><circle cx="278.36" cy="354.11" r="1.2" fill="#1f77b4"/><circle cx="284.4" cy="352.86" r="1.2" fill="#1f77b4"/><circle cx="290.23" cy="442.72" r="1.2" fill="#1f77b4"/><circle cx="296.26" cy="391.55" r="1.2" fill="#1f77b4"/><circle cx="302.3" cy="431.49" r="1.2" fill="#1f77b4"/><circle cx="308.13" cy="382.81" r="1.2" fill="#1f77b4"/><circle cx="314.16" cy="407.78" r="1.2" fill="#1f77b4"/><circle cx="320" cy="421.5" r="1.2" fill="#1f77b4"/><text x="37.85" y="426.4" font-size="6.5" fill="#1f77b4" fill-opacity="0.78" stroke="#1f77b4" stroke-width="0.1" stroke-opacity="0.5">1</text><text x="43.88" y="360.24" font-size="6.5" fill="#1f77b4" fill-opacity="0.78" stroke="#1f77b4" stroke-width="0.1" stroke-opacity="0.5">28</text><text x="49.91" y="429.39" font-size="6.5" fill="#1f77b4" fill-opacity="0.78" stroke="#1f77b4" stroke-width="0.1" stroke-opacity="0.5">5</text><text x="55.36" y="432.39" font-size="6.5" fill="#1f77b4" fill-opacity="0.78" stroke="#1f77b4" stroke-width="0.1" stroke-opacity="0.5">1</text><text x="61.39" y="435.13" font-size="6.5" fill="#1f77b4" fill-opacity="0.78" stroke="#1f77b4" stroke-width="0.1" stroke-opacity="0.5">56</text><text x="67.23" y="390.7" font-size="6.5" fill="#1f77b4" fill-opacity="0.78" stroke="#1f77b4" stroke-width="0.1" stroke-opacity="0.5">35</text><text x="73.26" y="412.42" font-size="6.5" fill="#1f77b4" fill-opacity="0.78" stroke="#1f77b4" stroke-width="0.1" stroke-opacity="0.5">1</text><text x="79.1" y="393.19" font-size="6.5" fill="#1f77b4" fill-opacity="0.78" stroke="#1f77b4" stroke-width="0.1" stroke-opacity="0.5">6</text><text x="85.13" y="416.91" font-size="6.5" fill="#1f77b4" fill-opacity="0.78" stroke="#1f77b4" stroke-width="0.1" stroke-opacity="0.5">47</text><text x="91.16" y="397.94" font-size="6.5" fill="#1f77b4" fill-opacity="0.78" stroke="#1f77b4" stroke-width="0.1" stroke-opacity="0.5">49</text><text x="97" y="411.92" font-size="6.5" fill="#1f77b4" fill-opacity="0.78" stroke="#1f77b4" stroke-width="0.1" stroke-opacity="0.5">25</text><text x="103.03" y="413.91" font-size="6.5" fill="#1f77b4" fill-opacity="0.78" stroke="#1f77b4" stroke-width="0.1" stroke-opacity="0.5">50</text><text x="108.86" y="403.68" font-size="6.5" fill="#1f77b4" fill-opacity="0.78" stroke="#1f77b4" stroke-width="0.1" stroke-opacity="0.5">53</text><text x="114.9" y="385.96" font-size="6.5" fill="#1f77b4" fill-opacity="0.78" stroke="#1f77b4" stroke-width="0.1" stroke-opacity="0.5">15</text><text x="120.93" y="421.4" font-size="6.5" fill="#1f77b4" fill-opacity="0.78" stroke="#1f77b4" stroke-width="0.1" stroke-opacity="0.5">5</text><text x="126.37" y="428.64" font-size="6.5" fill="#1f77b4" fill-opacity="0.78" stroke="#1f77b4" stroke-width="0.1" stroke-opacity="0.5">1</text><text x="132.41" y="418.66" font-size="6.5" fill="#1f77b4" fill-opacity="0.78" stroke="#1f77b4" stroke-width="0.1" stroke-opacity="0.5">53</text><text x="138.24" y="406.67" font-size="6.5" fill="#1f77b4" fill-opacity="0.78" stroke="#1f77b4" stroke-width="0.1" stroke-opacity="0.5">1</text><text x="144.27" y="382.46" font-size="6.5" fill="#1f77b4" fill-opacity="0.78" stroke="#1f77b4" stroke-width="0.1" stroke-opacity="0.5">1</text><text x="150.11" y="292.6" font-size="6.5" fill="#1f77b4" fill-opacity="0.78" stroke="#1f77b4" stroke-width="0.1" stroke-opacity="0.5">1</text><text x="156.14" y="367.98" font-size="6.5" fill="#1f77b4" fill-opacity="0.78" stroke="#1f77b4" stroke-width="0.1" stroke-opacity="0.5">12</text><text x="162.17" y="385.71" font-size="6.5" fill="#1f77b4" fill-opacity="0.78" stroke="#1f77b4" stroke-width="0.1" stroke-opacity="0.5">23</text><text x="168.01" y="367.98" font-size="6.5" fill="#1f77b4" fill-opacity="0.78" stroke="#1f77b4" stroke-width="0.1" stroke-opacity="0.5">1</text><text x="174.04" y="362.49" font-size="6.5" fill="#1f77b4" fill-opacity="0.78" stroke="#1f77b4" stroke-width="0.1" stroke-opacity="0.5">1</text><text x="179.88" y="353.75" font-size="6.5" fill="#1f77b4" fill-opacity="0.78" stroke="#1f77b4" stroke-width="0.1" stroke-opacity="0.5">1</text><text x="185.91" y="387.95" font-size="6.5" fill="#1f77b4" fill-opacity="0.78" stroke="#1f77b4" stroke-width="0.1" stroke-opacity="0.5">1</text><text x="191.94" y="376.22" font-size="6.5" fill="#1f77b4" fill-opacity="0.78" stroke="#1f77b4" stroke-width="0.1" stroke-opacity="0.5">1</text><text x="197.58" y="357.5" font-size="6.5" fill="#1f77b4" fill-opacity="0.78" stroke="#1f77b4" stroke-width="0.1" stroke-opacity="0.5">1</text><text x="203.61" y="306.33" font-size="6.5" fill="#1f77b4" fill-opacity="0.78" stroke="#1f77b4" stroke-width="0.1" stroke-opacity="0.5">1</text><text x="209.45" y="332.79" font-size="6.5" fill="#1f77b4" fill-opacity="0.78" stroke="#1f77b4" stroke-width="0.1" stroke-opacity="0.5">1</text><text x="215.48" y="310.82" font-size="6.5" fill="#1f77b4" fill-opacity="0.78" stroke="#1f77b4" stroke-width="0.1" stroke-opacity="0.5">1</text><text x="221.32" y="272.63" font-size="6.5" fill="#1f77b4" fill-opacity="0.78" stroke="#1f77b4" stroke-width="0.1" stroke-opacity="0.5">17</text><text x="227.35" y="321.3" font-size="6.5" fill="#1f77b4" fill-opacity="0.78" stroke="#1f77b4" stroke-width="0.1" stroke-opacity="0.5">1</text><text x="233.38" y="316.31" font-size="6.5" fill="#1f77b4" fill-opacity="0.78" stroke="#1f77b4" stroke-width="0.1" stroke-opacity="0.5">17</text><text x="239.22" y="345.02" font-size="6.5" fill="#1f77b4" fill-opacity="0.78" stroke="#1f77b4" stroke-width="0.1" stroke-opacity="0.5">19</text><text x="245.25" y="387.2" font-size="6.5" fill="#1f77b4" fill-opacity="0.78" stroke="#1f77b4" stroke-width="0.1" stroke-opacity="0.5">19</text><text x="251.09" y="393.69" font-size="6.5" fill="#1f77b4" fill-opacity="0.78" stroke="#1f77b4" stroke-width="0.1" stroke-opacity="0.5">13</text><text x="257.12" y="416.16" font-size="6.5" fill="#1f77b4" fill-opacity="0.78" stroke="#1f77b4" stroke-width="0.1" stroke-opacity="0.5">13</text><text x="263.15" y="296.34" font-size="6.5" fill="#1f77b4" fill-opacity="0.78" stroke="#1f77b4" stroke-width="0.1" stroke-opacity="0.5">25</text><text x="268.6" y="316.81" font-size="6.5" fill="#1f77b4" fill-opacity="0.78" stroke="#1f77b4" stroke-width="0.1" stroke-opacity="0.5">13</text><text x="274.63" y="382.46" font-size="6.5" fill="#1f77b4" fill-opacity="0.78" stroke="#1f77b4" stroke-width="0.1" stroke-opacity="0.5">45</text><text x="280.46" y="352.51" font-size="6.5" fill="#1f77b4" fill-opacity="0.78" stroke="#1f77b4" stroke-width="0.1" stroke-opacity="0.5">2</text><text x="286.5" y="351.26" font-size="6.5" fill="#1f77b4" fill-opacity="0.78" stroke="#1f77b4" stroke-width="0.1" stroke-opacity="0.5">16</text><text x="292.33" y="441.12" font-size="6.5" fill="#1f77b4" fill-opacity="0.78" stroke="#1f77b4" stroke-width="0.1" stroke-opacity="0.5">6</text><text x="298.36" y="389.95" font-size="6.5" fill="#1f77b4" fill-opacity="0.78" stroke="#1f77b4" stroke-width="0.1" stroke-opacity="0.5">8</text><text x="304.4" y="429.89" font-size="6.5" fill="#1f77b4" fill-opacity="0.78" stroke="#1f77b4" stroke-width="0.1" stroke-opacity="0.5">1</text><text x="310.23" y="381.21" font-size="6.5" fill="#1f77b4" fill-opacity="0.78" stroke="#1f77b4" stroke-width="0.1" stroke-opacity="0.5">45</text><text x="316.26" y="406.18" font-size="6.5" fill="#1f77b4" fill-opacity="0.78" stroke="#1f77b4" stroke-width="0.1" stroke-opacity="0.5">1</text><text x="322.1" y="419.9" font-size="6.5" fill="#1f77b4" fill-opacity="0.78" stroke="#1f77b4" stroke-width="0.1" stroke-opacity="0.5">1</text><polyline points="35.75,445.97 41.78,437.23 47.81,432.74 53.26,450.21 59.29,443.97 65.13,442.97 71.16,443.97 77,412.02 83.03,422 89.06,434.49 94.9,439.98 100.93,442.22 106.76,439.48 112.8,440.73 118.83,442.72 124.27,439.73 130.31,434.24 136.14,423.75 142.17,400.79 148.01,461.44 154.04,412.77 160.07,392.05 165.91,433.99 171.94,397.04 177.78,410.27 183.81,412.27 189.84,407.78 195.48,423.25 201.51,419.01 207.35,420.26 213.38,448.96 219.22,438.98 225.25,448.96 231.28,422.75 237.12,409.52 243.15,443.97 248.99,432.74 255.02,430.24 261.05,450.96 266.5,438.73 272.53,450.96 278.36,436.23 284.4,439.73 290.23,443.97 296.26,430.24 302.3,442.72 308.13,419.76 314.16,437.73 320,432.74" fill="none" stroke="#ff7f0e" stroke-width="1.0" stroke-opacity="0.6" stroke-linejoin="round"/><circle cx="35.75" cy="445.97" r="1.2" fill="#ff7f0e"/><circle cx="41.78" cy="437.23" r="1.2" fill="#ff7f0e"/><circle cx="47.81" cy="432.74" r="1.2" fill="#ff7f0e"/><circle cx="53.26" cy="450.21" r="1.2" fill="#ff7f0e"/><circle cx="59.29" cy="443.97" r="1.2" fill="#ff7f0e"/><circle cx="65.13" cy="442.97" r="1.2" fill="#ff7f0e"/><circle cx="71.16" cy="443.97" r="1.2" fill="#ff7f0e"/><circle cx="77" cy="412.02" r="1.2" fill="#ff7f0e"/><circle cx="83.03" cy="422" r="1.2" fill="#ff7f0e"/><circle cx="89.06" cy="434.49" r="1.2" fill="#ff7f0e"/><circle cx="94.9" cy="439.98" r="1.2" fill="#ff7f0e"/><circle cx="100.93" cy="442.22" r="1.2" fill="#ff7f0e"/><circle cx="106.76" cy="439.48" r="1.2" fill="#ff7f0e"/><circle cx="112.8" cy="440.73" r="1.2" fill="#ff7f0e"/><circle cx="118.83" cy="442.72" r="1.2" fill="#ff7f0e"/><circle cx="124.27" cy="439.73" r="1.2" fill="#ff7f0e"/><circle cx="130.31" cy="434.24" r="1.2" fill="#ff7f0e"/><circle cx="136.14" cy="423.75" r="1.2" fill="#ff7f0e"/><circle cx="142.17" cy="400.79" r="1.2" fill="#ff7f0e"/><circle cx="148.01" cy="461.44" r="1.2" fill="#ff7f0e"/><circle cx="154.04" cy="412.77" r="1.2" fill="#ff7f0e"/><circle cx="160.07" cy="392.05" r="1.2" fill="#ff7f0e"/><circle cx="165.91" cy="433.99" r="1.2" fill="#ff7f0e"/><circle cx="171.94" cy="397.04" r="1.2" fill="#ff7f0e"/><circle cx="177.78" cy="410.27" r="1.2" fill="#ff7f0e"/><circle cx="183.81" cy="412.27" r="1.2" fill="#ff7f0e"/><circle cx="189.84" cy="407.78" r="1.2" fill="#ff7f0e"/><circle cx="195.48" cy="423.25" r="1.2" fill="#ff7f0e"/><circle cx="201.51" cy="419.01" r="1.2" fill="#ff7f0e"/><circle cx="207.35" cy="420.26" r="1.2" fill="#ff7f0e"/><circle cx="213.38" cy="448.96" r="1.2" fill="#ff7f0e"/><circle cx="219.22" cy="438.98" r="1.2" fill="#ff7f0e"/><circle cx="225.25" cy="448.96" r="1.2" fill="#ff7f0e"/><circle cx="231.28" cy="422.75" r="1.2" fill="#ff7f0e"/><circle cx="237.12" cy="409.52" r="1.2" fill="#ff7f0e"/><circle cx="243.15" cy="443.97" r="1.2" fill="#ff7f0e"/><circle cx="248.99" cy="432.74" r="1.2" fill="#ff7f0e"/><circle cx="255.02" cy="430.24" r="1.2" fill="#ff7f0e"/><circle cx="261.05" cy="450.96" r="1.2" fill="#ff7f0e"/><circle cx="266.5" cy="438.73" r="1.2" fill="#ff7f0e"/><circle cx="272.53" cy="450.96" r="1.2" fill="#ff7f0e"/><circle cx="278.36" cy="436.23" r="1.2" fill="#ff7f0e"/><circle cx="284.4" cy="439.73" r="1.2" fill="#ff7f0e"/><circle cx="290.23" cy="443.97" r="1.2" fill="#ff7f0e"/><circle cx="296.26" cy="430.24" r="1.2" fill="#ff7f0e"/><circle cx="302.3" cy="442.72" r="1.2" fill="#ff7f0e"/><circle cx="308.13" cy="419.76" r="1.2" fill="#ff7f0e"/><circle cx="314.16" cy="437.73" r="1.2" fill="#ff7f0e"/><circle cx="320" cy="432.74" r="1.2" fill="#ff7f0e"/><text x="37.85" y="444.37" font-size="6.5" fill="#ff7f0e" fill-opacity="0.78" stroke="#ff7f0e" stroke-width="0.1" stroke-opacity="0.5">3</text><text x="43.88" y="435.63" font-size="6.5" fill="#ff7f0e" fill-opacity="0.78" stroke="#ff7f0e" stroke-width="0.1" stroke-opacity="0.5">9</text><text x="49.91" y="431.14" font-size="6.5" fill="#ff7f0e" fill-opacity="0.78" stroke="#ff7f0e" stroke-width="0.1" stroke-opacity="0.5">1</text><text x="55.36" y="448.61" font-size="6.5" fill="#ff7f0e" fill-opacity="0.78" stroke="#ff7f0e" stroke-width="0.1" stroke-opacity="0.5">3</text><text x="61.39" y="442.37" font-size="6.5" fill="#ff7f0e" fill-opacity="0.78" stroke="#ff7f0e" stroke-width="0.1" stroke-opacity="0.5">3</text><text x="67.23" y="441.37" font-size="6.5" fill="#ff7f0e" fill-opacity="0.78" stroke="#ff7f0e" stroke-width="0.1" stroke-opacity="0.5">6</text><text x="73.26" y="442.37" font-size="6.5" fill="#ff7f0e" fill-opacity="0.78" stroke="#ff7f0e" stroke-width="0.1" stroke-opacity="0.5">1</text><text x="79.1" y="410.42" font-size="6.5" fill="#ff7f0e" fill-opacity="0.78" stroke="#ff7f0e" stroke-width="0.1" stroke-opacity="0.5">20</text><text x="85.13" y="420.4" font-size="6.5" fill="#ff7f0e" fill-opacity="0.78" stroke="#ff7f0e" stroke-width="0.1" stroke-opacity="0.5">49</text><text x="91.16" y="432.89" font-size="6.5" fill="#ff7f0e" fill-opacity="0.78" stroke="#ff7f0e" stroke-width="0.1" stroke-opacity="0.5">43</text><text x="97" y="438.38" font-size="6.5" fill="#ff7f0e" fill-opacity="0.78" stroke="#ff7f0e" stroke-width="0.1" stroke-opacity="0.5">1</text><text x="103.03" y="440.62" font-size="6.5" fill="#ff7f0e" fill-opacity="0.78" stroke="#ff7f0e" stroke-width="0.1" stroke-opacity="0.5">29</text><text x="108.86" y="437.88" font-size="6.5" fill="#ff7f0e" fill-opacity="0.78" stroke="#ff7f0e" stroke-width="0.1" stroke-opacity="0.5">29</text><text x="114.9" y="439.13" font-size="6.5" fill="#ff7f0e" fill-opacity="0.78" stroke="#ff7f0e" stroke-width="0.1" stroke-opacity="0.5">6</text><text x="120.93" y="441.12" font-size="6.5" fill="#ff7f0e" fill-opacity="0.78" stroke="#ff7f0e" stroke-width="0.1" stroke-opacity="0.5">5</text><text x="126.37" y="438.13" font-size="6.5" fill="#ff7f0e" fill-opacity="0.78" stroke="#ff7f0e" stroke-width="0.1" stroke-opacity="0.5">2</text><text x="132.41" y="432.64" font-size="6.5" fill="#ff7f0e" fill-opacity="0.78" stroke="#ff7f0e" stroke-width="0.1" stroke-opacity="0.5">40</text><text x="138.24" y="422.15" font-size="6.5" fill="#ff7f0e" fill-opacity="0.78" stroke="#ff7f0e" stroke-width="0.1" stroke-opacity="0.5">33</text><text x="144.27" y="399.19" font-size="6.5" fill="#ff7f0e" fill-opacity="0.78" stroke="#ff7f0e" stroke-width="0.1" stroke-opacity="0.5">53</text><text x="150.11" y="459.84" font-size="6.5" fill="#ff7f0e" fill-opacity="0.78" stroke="#ff7f0e" stroke-width="0.1" stroke-opacity="0.5">16</text><text x="156.14" y="411.17" font-size="6.5" fill="#ff7f0e" fill-opacity="0.78" stroke="#ff7f0e" stroke-width="0.1" stroke-opacity="0.5">1</text><text x="162.17" y="390.45" font-size="6.5" fill="#ff7f0e" fill-opacity="0.78" stroke="#ff7f0e" stroke-width="0.1" stroke-opacity="0.5">45</text><text x="168.01" y="432.39" font-size="6.5" fill="#ff7f0e" fill-opacity="0.78" stroke="#ff7f0e" stroke-width="0.1" stroke-opacity="0.5">4</text><text x="174.04" y="395.44" font-size="6.5" fill="#ff7f0e" fill-opacity="0.78" stroke="#ff7f0e" stroke-width="0.1" stroke-opacity="0.5">25</text><text x="179.88" y="408.67" font-size="6.5" fill="#ff7f0e" fill-opacity="0.78" stroke="#ff7f0e" stroke-width="0.1" stroke-opacity="0.5">5</text><text x="185.91" y="410.67" font-size="6.5" fill="#ff7f0e" fill-opacity="0.78" stroke="#ff7f0e" stroke-width="0.1" stroke-opacity="0.5">9</text><text x="191.94" y="406.18" font-size="6.5" fill="#ff7f0e" fill-opacity="0.78" stroke="#ff7f0e" stroke-width="0.1" stroke-opacity="0.5">9</text><text x="197.58" y="421.65" font-size="6.5" fill="#ff7f0e" fill-opacity="0.78" stroke="#ff7f0e" stroke-width="0.1" stroke-opacity="0.5">9</text><text x="203.61" y="417.41" font-size="6.5" fill="#ff7f0e" fill-opacity="0.78" stroke="#ff7f0e" stroke-width="0.1" stroke-opacity="0.5">9</text><text x="209.45" y="418.66" font-size="6.5" fill="#ff7f0e" fill-opacity="0.78" stroke="#ff7f0e" stroke-width="0.1" stroke-opacity="0.5">62</text><text x="215.48" y="447.36" font-size="6.5" fill="#ff7f0e" fill-opacity="0.78" stroke="#ff7f0e" stroke-width="0.1" stroke-opacity="0.5">9</text><text x="221.32" y="437.38" font-size="6.5" fill="#ff7f0e" fill-opacity="0.78" stroke="#ff7f0e" stroke-width="0.1" stroke-opacity="0.5">1</text><text x="227.35" y="447.36" font-size="6.5" fill="#ff7f0e" fill-opacity="0.78" stroke="#ff7f0e" stroke-width="0.1" stroke-opacity="0.5">1</text><text x="233.38" y="421.15" font-size="6.5" fill="#ff7f0e" fill-opacity="0.78" stroke="#ff7f0e" stroke-width="0.1" stroke-opacity="0.5">21</text><text x="239.22" y="407.92" font-size="6.5" fill="#ff7f0e" fill-opacity="0.78" stroke="#ff7f0e" stroke-width="0.1" stroke-opacity="0.5">1</text><text x="245.25" y="442.37" font-size="6.5" fill="#ff7f0e" fill-opacity="0.78" stroke="#ff7f0e" stroke-width="0.1" stroke-opacity="0.5">17</text><text x="251.09" y="431.14" font-size="6.5" fill="#ff7f0e" fill-opacity="0.78" stroke="#ff7f0e" stroke-width="0.1" stroke-opacity="0.5">1</text><text x="257.12" y="428.64" font-size="6.5" fill="#ff7f0e" fill-opacity="0.78" stroke="#ff7f0e" stroke-width="0.1" stroke-opacity="0.5">1</text><text x="263.15" y="449.36" font-size="6.5" fill="#ff7f0e" fill-opacity="0.78" stroke="#ff7f0e" stroke-width="0.1" stroke-opacity="0.5">8</text><text x="268.6" y="437.13" font-size="6.5" fill="#ff7f0e" fill-opacity="0.78" stroke="#ff7f0e" stroke-width="0.1" stroke-opacity="0.5">1</text><text x="274.63" y="449.36" font-size="6.5" fill="#ff7f0e" fill-opacity="0.78" stroke="#ff7f0e" stroke-width="0.1" stroke-opacity="0.5">1</text><text x="280.46" y="434.63" font-size="6.5" fill="#ff7f0e" fill-opacity="0.78" stroke="#ff7f0e" stroke-width="0.1" stroke-opacity="0.5">1</text><text x="286.5" y="438.13" font-size="6.5" fill="#ff7f0e" fill-opacity="0.78" stroke="#ff7f0e" stroke-width="0.1" stroke-opacity="0.5">8</text><text x="292.33" y="442.37" font-size="6.5" fill="#ff7f0e" fill-opacity="0.78" stroke="#ff7f0e" stroke-width="0.1" stroke-opacity="0.5">6</text><text x="298.36" y="428.64" font-size="6.5" fill="#ff7f0e" fill-opacity="0.78" stroke="#ff7f0e" stroke-width="0.1" stroke-opacity="0.5">1</text><text x="304.4" y="441.12" font-size="6.5" fill="#ff7f0e" fill-opacity="0.78" stroke="#ff7f0e" stroke-width="0.1" stroke-opacity="0.5">1</text><text x="310.23" y="418.16" font-size="6.5" fill="#ff7f0e" fill-opacity="0.78" stroke="#ff7f0e" stroke-width="0.1" stroke-opacity="0.5">1</text><text x="316.26" y="436.13" font-size="6.5" fill="#ff7f0e" fill-opacity="0.78" stroke="#ff7f0e" stroke-width="0.1" stroke-opacity="0.5">15</text><text x="322.1" y="431.14" font-size="6.5" fill="#ff7f0e" fill-opacity="0.78" stroke="#ff7f0e" stroke-width="0.1" stroke-opacity="0.5">15</text><polyline points="35.75,453.21 41.78,450.21 47.81,452.71 53.26,453.21 59.29,448.96 65.13,445.22 71.16,446.72 77,437.23 83.03,451.71 89.06,455.2 94.9,456.7 100.93,444.47 106.76,456.7 112.8,444.72 118.83,441.47 124.27,445.72 130.31,435.73 136.14,435.98 142.17,450.96 148.01,472.68 154.04,433.24 160.07,415.76 165.91,443.97 171.94,465.69 177.78,440.73 183.81,428.24 189.84,431.99 195.48,450.21 201.51,452.71 207.35,457.7 213.38,468.18 219.22,457.7 225.25,450.71 231.28,441.47 237.12,435.73 243.15,446.47 248.99,450.71 255.02,431.99 261.05,456.95 266.5,460.7 272.53,460.7 278.36,452.71 284.4,457.2 290.23,445.22 296.26,437.73 302.3,449.46 308.13,430.24 314.16,437.73 320,452.71" fill="none" stroke="#2ca02c" stroke-width="1.0" stroke-opacity="0.6" stroke-linejoin="round"/><circle cx="35.75" cy="453.21" r="1.2" fill="#2ca02c"/><circle cx="41.78" cy="450.21" r="1.2" fill="#2ca02c"/><circle cx="47.81" cy="452.71" r="1.2" fill="#2ca02c"/><circle cx="53.26" cy="453.21" r="1.2" fill="#2ca02c"/><circle cx="59.29" cy="448.96" r="1.2" fill="#2ca02c"/><circle cx="65.13" cy="445.22" r="1.2" fill="#2ca02c"/><circle cx="71.16" cy="446.72" r="1.2" fill="#2ca02c"/><circle cx="77" cy="437.23" r="1.2" fill="#2ca02c"/><circle cx="83.03" cy="451.71" r="1.2" fill="#2ca02c"/><circle cx="89.06" cy="455.2" r="1.2" fill="#2ca02c"/><circle cx="94.9" cy="456.7" r="1.2" fill="#2ca02c"/><circle cx="100.93" cy="444.47" r="1.2" fill="#2ca02c"/><circle cx="106.76" cy="456.7" r="1.2" fill="#2ca02c"/><circle cx="112.8" cy="444.72" r="1.2" fill="#2ca02c"/><circle cx="118.83" cy="441.47" r="1.2" fill="#2ca02c"/><circle cx="124.27" cy="445.72" r="1.2" fill="#2ca02c"/><circle cx="130.31" cy="435.73" r="1.2" fill="#2ca02c"/><circle cx="136.14" cy="435.98" r="1.2" fill="#2ca02c"/><circle cx="142.17" cy="450.96" r="1.2" fill="#2ca02c"/><circle cx="148.01" cy="472.68" r="1.2" fill="#2ca02c"/><circle cx="154.04" cy="433.24" r="1.2" fill="#2ca02c"/><circle cx="160.07" cy="415.76" r="1.2" fill="#2ca02c"/><circle cx="165.91" cy="443.97" r="1.2" fill="#2ca02c"/><circle cx="171.94" cy="465.69" r="1.2" fill="#2ca02c"/><circle cx="177.78" cy="440.73" r="1.2" fill="#2ca02c"/><circle cx="183.81" cy="428.24" r="1.2" fill="#2ca02c"/><circle cx="189.84" cy="431.99" r="1.2" fill="#2ca02c"/><circle cx="195.48" cy="450.21" r="1.2" fill="#2ca02c"/><circle cx="201.51" cy="452.71" r="1.2" fill="#2ca02c"/><circle cx="207.35" cy="457.7" r="1.2" fill="#2ca02c"/><circle cx="213.38" cy="468.18" r="1.2" fill="#2ca02c"/><circle cx="219.22" cy="457.7" r="1.2" fill="#2ca02c"/><circle cx="225.25" cy="450.71" r="1.2" fill="#2ca02c"/><circle cx="231.28" cy="441.47" r="1.2" fill="#2ca02c"/><circle cx="237.12" cy="435.73" r="1.2" fill="#2ca02c"/><circle cx="243.15" cy="446.47" r="1.2" fill="#2ca02c"/><circle cx="248.99" cy="450.71" r="1.2" fill="#2ca02c"/><circle cx="255.02" cy="431.99" r="1.2" fill="#2ca02c"/><circle cx="261.05" cy="456.95" r="1.2" fill="#2ca02c"/><circle cx="266.5" cy="460.7" r="1.2" fill="#2ca02c"/><circle cx="272.53" cy="460.7" r="1.2" fill="#2ca02c"/><circle cx="278.36" cy="452.71" r="1.2" fill="#2ca02c"/><circle cx="284.4" cy="457.2" r="1.2" fill="#2ca02c"/><circle cx="290.23" cy="445.22" r="1.2" fill="#2ca02c"/><circle cx="296.26" cy="437.73" r="1.2" fill="#2ca02c"/><circle cx="302.3" cy="449.46" r="1.2" fill="#2ca02c"/><circle cx="308.13" cy="430.24" r="1.2" fill="#2ca02c"/><circle cx="314.16" cy="437.73" r="1.2" fill="#2ca02c"/><circle cx="320" cy="452.71" r="1.2" fill="#2ca02c"/><text x="37.85" y="451.61" font-size="6.5" fill="#2ca02c" fill-opacity="0.78" stroke="#2ca02c" stroke-width="0.1" stroke-opacity="0.5">1</text><text x="43.88" y="448.61" font-size="6.5" fill="#2ca02c" fill-opacity="0.78" stroke="#2ca02c" stroke-width="0.1" stroke-opacity="0.5">1</text><text x="49.91" y="451.11" font-size="6.5" fill="#2ca02c" fill-opacity="0.78" stroke="#2ca02c" stroke-width="0.1" stroke-opacity="0.5">4</text><text x="55.36" y="451.61" font-size="6.5" fill="#2ca02c" fill-opacity="0.78" stroke="#2ca02c" stroke-width="0.1" stroke-opacity="0.5">4</text><text x="61.39" y="447.36" font-size="6.5" fill="#2ca02c" fill-opacity="0.78" stroke="#2ca02c" stroke-width="0.1" stroke-opacity="0.5">4</text><text x="67.23" y="443.62" font-size="6.5" fill="#2ca02c" fill-opacity="0.78" stroke="#2ca02c" stroke-width="0.1" stroke-opacity="0.5">1</text><text x="73.26" y="445.12" font-size="6.5" fill="#2ca02c" fill-opacity="0.78" stroke="#2ca02c" stroke-width="0.1" stroke-opacity="0.5">13</text><text x="79.1" y="435.63" font-size="6.5" fill="#2ca02c" fill-opacity="0.78" stroke="#2ca02c" stroke-width="0.1" stroke-opacity="0.5">35</text><text x="85.13" y="450.11" font-size="6.5" fill="#2ca02c" fill-opacity="0.78" stroke="#2ca02c" stroke-width="0.1" stroke-opacity="0.5">15</text><text x="91.16" y="453.6" font-size="6.5" fill="#2ca02c" fill-opacity="0.78" stroke="#2ca02c" stroke-width="0.1" stroke-opacity="0.5">1</text><text x="97" y="455.1" font-size="6.5" fill="#2ca02c" fill-opacity="0.78" stroke="#2ca02c" stroke-width="0.1" stroke-opacity="0.5">6</text><text x="103.03" y="442.87" font-size="6.5" fill="#2ca02c" fill-opacity="0.78" stroke="#2ca02c" stroke-width="0.1" stroke-opacity="0.5">5</text><text x="108.86" y="455.1" font-size="6.5" fill="#2ca02c" fill-opacity="0.78" stroke="#2ca02c" stroke-width="0.1" stroke-opacity="0.5">43</text><text x="114.9" y="443.12" font-size="6.5" fill="#2ca02c" fill-opacity="0.78" stroke="#2ca02c" stroke-width="0.1" stroke-opacity="0.5">5</text><text x="120.93" y="439.87" font-size="6.5" fill="#2ca02c" fill-opacity="0.78" stroke="#2ca02c" stroke-width="0.1" stroke-opacity="0.5">48</text><text x="126.37" y="444.12" font-size="6.5" fill="#2ca02c" fill-opacity="0.78" stroke="#2ca02c" stroke-width="0.1" stroke-opacity="0.5">33</text><text x="132.41" y="434.13" font-size="6.5" fill="#2ca02c" fill-opacity="0.78" stroke="#2ca02c" stroke-width="0.1" stroke-opacity="0.5">1</text><text x="138.24" y="434.38" font-size="6.5" fill="#2ca02c" fill-opacity="0.78" stroke="#2ca02c" stroke-width="0.1" stroke-opacity="0.5">5</text><text x="144.27" y="449.36" font-size="6.5" fill="#2ca02c" fill-opacity="0.78" stroke="#2ca02c" stroke-width="0.1" stroke-opacity="0.5">5</text><text x="150.11" y="471.08" font-size="6.5" fill="#2ca02c" fill-opacity="0.78" stroke="#2ca02c" stroke-width="0.1" stroke-opacity="0.5">5</text><text x="156.14" y="431.64" font-size="6.5" fill="#2ca02c" fill-opacity="0.78" stroke="#2ca02c" stroke-width="0.1" stroke-opacity="0.5">19</text><text x="162.17" y="414.16" font-size="6.5" fill="#2ca02c" fill-opacity="0.78" stroke="#2ca02c" stroke-width="0.1" stroke-opacity="0.5">1</text><text x="168.01" y="442.37" font-size="6.5" fill="#2ca02c" fill-opacity="0.78" stroke="#2ca02c" stroke-width="0.1" stroke-opacity="0.5">25</text><text x="174.04" y="464.09" font-size="6.5" fill="#2ca02c" fill-opacity="0.78" stroke="#2ca02c" stroke-width="0.1" stroke-opacity="0.5">32</text><text x="179.88" y="439.13" font-size="6.5" fill="#2ca02c" fill-opacity="0.78" stroke="#2ca02c" stroke-width="0.1" stroke-opacity="0.5">6</text><text x="185.91" y="426.64" font-size="6.5" fill="#2ca02c" fill-opacity="0.78" stroke="#2ca02c" stroke-width="0.1" stroke-opacity="0.5">41</text><text x="191.94" y="430.39" font-size="6.5" fill="#2ca02c" fill-opacity="0.78" stroke="#2ca02c" stroke-width="0.1" stroke-opacity="0.5">4</text><text x="197.58" y="448.61" font-size="6.5" fill="#2ca02c" fill-opacity="0.78" stroke="#2ca02c" stroke-width="0.1" stroke-opacity="0.5">4</text><text x="203.61" y="451.11" font-size="6.5" fill="#2ca02c" fill-opacity="0.78" stroke="#2ca02c" stroke-width="0.1" stroke-opacity="0.5">5</text><text x="209.45" y="456.1" font-size="6.5" fill="#2ca02c" fill-opacity="0.78" stroke="#2ca02c" stroke-width="0.1" stroke-opacity="0.5">9</text><text x="215.48" y="466.58" font-size="6.5" fill="#2ca02c" fill-opacity="0.78" stroke="#2ca02c" stroke-width="0.1" stroke-opacity="0.5">8</text><text x="221.32" y="456.1" font-size="6.5" fill="#2ca02c" fill-opacity="0.78" stroke="#2ca02c" stroke-width="0.1" stroke-opacity="0.5">9</text><text x="227.35" y="449.11" font-size="6.5" fill="#2ca02c" fill-opacity="0.78" stroke="#2ca02c" stroke-width="0.1" stroke-opacity="0.5">1</text><text x="233.38" y="439.87" font-size="6.5" fill="#2ca02c" fill-opacity="0.78" stroke="#2ca02c" stroke-width="0.1" stroke-opacity="0.5">1</text><text x="239.22" y="434.13" font-size="6.5" fill="#2ca02c" fill-opacity="0.78" stroke="#2ca02c" stroke-width="0.1" stroke-opacity="0.5">2</text><text x="245.25" y="444.87" font-size="6.5" fill="#2ca02c" fill-opacity="0.78" stroke="#2ca02c" stroke-width="0.1" stroke-opacity="0.5">1</text><text x="251.09" y="449.11" font-size="6.5" fill="#2ca02c" fill-opacity="0.78" stroke="#2ca02c" stroke-width="0.1" stroke-opacity="0.5">8</text><text x="257.12" y="430.39" font-size="6.5" fill="#2ca02c" fill-opacity="0.78" stroke="#2ca02c" stroke-width="0.1" stroke-opacity="0.5">8</text><text x="263.15" y="455.35" font-size="6.5" fill="#2ca02c" fill-opacity="0.78" stroke="#2ca02c" stroke-width="0.1" stroke-opacity="0.5">5</text><text x="268.6" y="459.1" font-size="6.5" fill="#2ca02c" fill-opacity="0.78" stroke="#2ca02c" stroke-width="0.1" stroke-opacity="0.5">5</text><text x="274.63" y="459.1" font-size="6.5" fill="#2ca02c" fill-opacity="0.78" stroke="#2ca02c" stroke-width="0.1" stroke-opacity="0.5">13</text><text x="280.46" y="451.11" font-size="6.5" fill="#2ca02c" fill-opacity="0.78" stroke="#2ca02c" stroke-width="0.1" stroke-opacity="0.5">5</text><text x="286.5" y="455.6" font-size="6.5" fill="#2ca02c" fill-opacity="0.78" stroke="#2ca02c" stroke-width="0.1" stroke-opacity="0.5">1</text><text x="292.33" y="443.62" font-size="6.5" fill="#2ca02c" fill-opacity="0.78" stroke="#2ca02c" stroke-width="0.1" stroke-opacity="0.5">6</text><text x="298.36" y="436.13" font-size="6.5" fill="#2ca02c" fill-opacity="0.78" stroke="#2ca02c" stroke-width="0.1" stroke-opacity="0.5">7</text><text x="304.4" y="447.86" font-size="6.5" fill="#2ca02c" fill-opacity="0.78" stroke="#2ca02c" stroke-width="0.1" stroke-opacity="0.5">5</text><text x="310.23" y="428.64" font-size="6.5" fill="#2ca02c" fill-opacity="0.78" stroke="#2ca02c" stroke-width="0.1" stroke-opacity="0.5">19</text><text x="316.26" y="436.13" font-size="6.5" fill="#2ca02c" fill-opacity="0.78" stroke="#2ca02c" stroke-width="0.1" stroke-opacity="0.5">19</text><text x="322.1" y="451.11" font-size="6.5" fill="#2ca02c" fill-opacity="0.78" stroke="#2ca02c" stroke-width="0.1" stroke-opacity="0.5">19</text><rect x="27.9" y="268.6" width="101.6" height="28.8" rx="1.2" fill="#fff" fill-opacity="0.8" stroke="#e2e2e2" stroke-width="0.7"/><line x1="29.9" y1="273.6" x2="42.7" y2="273.6" stroke="#1f77b4" stroke-width="1" stroke-opacity="0.6"/><circle cx="36.3" cy="273.6" r="1.35" fill="#1f77b4"/><text x="48" y="276.1" font-size="6.5" fill="#1a1a1a" class="t" textLength="78.6" lengthAdjust="spacing">Top 1 Feature Importance</text><line x1="29.9" y1="282.65" x2="42.7" y2="282.65" stroke="#ff7f0e" stroke-width="1" stroke-opacity="0.6"/><circle cx="36.3" cy="282.65" r="1.35" fill="#ff7f0e"/><text x="48" y="285.15" font-size="6.5" fill="#1a1a1a" class="t" textLength="78.6" lengthAdjust="spacing">Top 2 Feature Importance</text><line x1="29.9" y1="291.7" x2="42.7" y2="291.7" stroke="#2ca02c" stroke-width="1" stroke-opacity="0.6"/><circle cx="36.3" cy="291.7" r="1.35" fill="#2ca02c"/><text x="48" y="294.2" font-size="6.5" fill="#1a1a1a" class="t" textLength="78.6" lengthAdjust="spacing">Top 3 Feature Importance</text><text class="cap" x="121.9" y="522.2" font-size="15.6" fill="#111" stroke="#111" stroke-width="0.2" textLength="61.3" lengthAdjust="spacingAndGlyphs">(c) City 3</text></g>
<g><line x1="365.5" y1="264.2" x2="365.5" y2="482" stroke="#d0d0d0" stroke-width="1"/><line x1="682.7" y1="264.2" x2="682.7" y2="482" stroke="#d6d6d6" stroke-width="1"/><line x1="365.5" y1="482" x2="682.7" y2="482" stroke="#e6e6e6" stroke-width="1"/><line x1="365" y1="264.2" x2="683.2" y2="264.2" stroke="#bababa" stroke-width="1"/><line x1="363.7" y1="276.2" x2="365.5" y2="276.2" stroke="#b0b0b0" stroke-width="0.7"/><text x="362.5" y="278.25" font-size="5.7" fill="#1a1a1a" text-anchor="end" class="t" textLength="8.6" lengthAdjust="spacing">0.5</text><line x1="363.7" y1="319.2" x2="365.5" y2="319.2" stroke="#b0b0b0" stroke-width="0.7"/><text x="362.5" y="321.25" font-size="5.7" fill="#1a1a1a" text-anchor="end" class="t" textLength="8.6" lengthAdjust="spacing">0.4</text><line x1="363.7" y1="362.3" x2="365.5" y2="362.3" stroke="#b0b0b0" stroke-width="0.7"/><text x="362.5" y="364.35" font-size="5.7" fill="#1a1a1a" text-anchor="end" class="t" textLength="8.6" lengthAdjust="spacing">0.3</text><line x1="363.7" y1="405.3" x2="365.5" y2="405.3" stroke="#b0b0b0" stroke-width="0.7"/><text x="362.5" y="407.35" font-size="5.7" fill="#1a1a1a" text-anchor="end" class="t" textLength="8.6" lengthAdjust="spacing">0.2</text><line x1="363.7" y1="448.2" x2="365.5" y2="448.2" stroke="#b0b0b0" stroke-width="0.7"/><text x="362.5" y="450.25" font-size="5.7" fill="#1a1a1a" text-anchor="end" class="t" textLength="8.6" lengthAdjust="spacing">0.1</text><line x1="386" y1="482" x2="386" y2="483.8" stroke="#b0b0b0" stroke-width="0.7"/><text x="386" y="488.1" font-size="5.7" fill="#1a1a1a" text-anchor="middle" class="t" textLength="21.9" lengthAdjust="spacing">2018-01</text><line x1="421.6" y1="482" x2="421.6" y2="483.8" stroke="#b0b0b0" stroke-width="0.7"/><text x="421.6" y="488.1" font-size="5.7" fill="#1a1a1a" text-anchor="middle" class="t" textLength="21.9" lengthAdjust="spacing">2018-07</text><line x1="457.8" y1="482" x2="457.8" y2="483.8" stroke="#b0b0b0" stroke-width="0.7"/><text x="457.8" y="488.1" font-size="5.7" fill="#1a1a1a" text-anchor="middle" class="t" textLength="21.9" lengthAdjust="spacing">2019-01</text><line x1="493.4" y1="482" x2="493.4" y2="483.8" stroke="#b0b0b0" stroke-width="0.7"/><text x="493.4" y="488.1" font-size="5.7" fill="#1a1a1a" text-anchor="middle" class="t" textLength="21.9" lengthAdjust="spacing">2019-07</text><line x1="529.6" y1="482" x2="529.6" y2="483.8" stroke="#b0b0b0" stroke-width="0.7"/><text x="529.6" y="488.1" font-size="5.7" fill="#1a1a1a" text-anchor="middle" class="t" textLength="21.9" lengthAdjust="spacing">2020-01</text><line x1="565.4" y1="482" x2="565.4" y2="483.8" stroke="#b0b0b0" stroke-width="0.7"/><text x="565.4" y="488.1" font-size="5.7" fill="#1a1a1a" text-anchor="middle" class="t" textLength="21.9" lengthAdjust="spacing">2020-07</text><line x1="601.6" y1="482" x2="601.6" y2="483.8" stroke="#b0b0b0" stroke-width="0.7"/><text x="601.6" y="488.1" font-size="5.7" fill="#1a1a1a" text-anchor="middle" class="t" textLength="21.9" lengthAdjust="spacing">2021-01</text><line x1="637.2" y1="482" x2="637.2" y2="483.8" stroke="#b0b0b0" stroke-width="0.7"/><text x="637.2" y="488.1" font-size="5.7" fill="#1a1a1a" text-anchor="middle" class="t" textLength="21.9" lengthAdjust="spacing">2021-07</text><line x1="673.4" y1="482" x2="673.4" y2="483.8" stroke="#b0b0b0" stroke-width="0.7"/><text x="673.4" y="488.1" font-size="5.7" fill="#1a1a1a" text-anchor="middle" class="t" textLength="21.9" lengthAdjust="spacing">2022-01</text><text x="524.1" y="495.1" font-size="6.0" fill="#1a1a1a" text-anchor="middle" class="t" textLength="14" lengthAdjust="spacingAndGlyphs">Date</text><text transform="translate(352.2 374.1) rotate(-90)" x="0" y="0" font-size="6.0" fill="#1a1a1a" class="t" text-anchor="middle" textLength="35" lengthAdjust="spacingAndGlyphs">Importance</text><polyline points="379.9,319.16 386,379.82 392.1,333.39 397.6,358.85 403.7,402.03 409.6,371.58 415.7,402.28 421.6,378.32 427.7,397.79 433.8,405.28 439.7,364.84 445.8,386.56 451.7,381.56 457.8,401.04 463.9,381.07 469.41,389.55 475.5,328.64 481.4,349.36 487.5,394.05 493.4,338.38 499.5,410.27 505.6,387.31 511.5,355.85 517.6,396.54 523.5,374.08 529.6,384.06 535.7,336.13 541.4,274.23 547.5,333.64 553.4,347.37 559.5,367.84 565.4,362.84 571.5,300.44 577.6,354.85 583.5,361.59 589.6,377.82 595.5,319.91 601.6,379.82 607.7,391.05 613.2,373.33 619.3,402.03 625.2,352.86 631.3,406.53 637.2,420.26 643.3,430.99 649.4,394.05 655.3,419.01 661.4,433.24 667.3,324.15" fill="none" stroke="#1f77b4" stroke-width="1.0" stroke-opacity="0.6" stroke-linejoin="round"/><circle cx="379.9" cy="319.16" r="1.2" fill="#1f77b4"/><circle cx="386" cy="379.82" r="1.2" fill="#1f77b4"/><circle cx="392.1" cy="333.39" r="1.2" fill="#1f77b4"/><circle cx="397.6" cy="358.85" r="1.2" fill="#1f77b4"/><circle cx="403.7" cy="402.03" r="1.2" fill="#1f77b4"/><circle cx="409.6" cy="371.58" r="1.2" fill="#1f77b4"/><circle cx="415.7" cy="402.28" r="1.2" fill="#1f77b4"/><circle cx="421.6" cy="378.32" r="1.2" fill="#1f77b4"/><circle cx="427.7" cy="397.79" r="1.2" fill="#1f77b4"/><circle cx="433.8" cy="405.28" r="1.2" fill="#1f77b4"/><circle cx="439.7" cy="364.84" r="1.2" fill="#1f77b4"/><circle cx="445.8" cy="386.56" r="1.2" fill="#1f77b4"/><circle cx="451.7" cy="381.56" r="1.2" fill="#1f77b4"/><circle cx="457.8" cy="401.04" r="1.2" fill="#1f77b4"/><circle cx="463.9" cy="381.07" r="1.2" fill="#1f77b4"/><circle cx="469.41" cy="389.55" r="1.2" fill="#1f77b4"/><circle cx="475.5" cy="328.64" r="1.2" fill="#1f77b4"/><circle cx="481.4" cy="349.36" r="1.2" fill="#1f77b4"/><circle cx="487.5" cy="394.05" r="1.2" fill="#1f77b4"/><circle cx="493.4" cy="338.38" r="1.2" fill="#1f77b4"/><circle cx="499.5" cy="410.27" r="1.2" fill="#1f77b4"/><circle cx="505.6" cy="387.31" r="1.2" fill="#1f77b4"/><circle cx="511.5" cy="355.85" r="1.2" fill="#1f77b4"/><circle cx="517.6" cy="396.54" r="1.2" fill="#1f77b4"/><circle cx="523.5" cy="374.08" r="1.2" fill="#1f77b4"/><circle cx="529.6" cy="384.06" r="1.2" fill="#1f77b4"/><circle cx="535.7" cy="336.13" r="1.2" fill="#1f77b4"/><circle cx="541.4" cy="274.23" r="1.2" fill="#1f77b4"/><circle cx="547.5" cy="333.64" r="1.2" fill="#1f77b4"/><circle cx="553.4" cy="347.37" r="1.2" fill="#1f77b4"/><circle cx="559.5" cy="367.84" r="1.2" fill="#1f77b4"/><circle cx="565.4" cy="362.84" r="1.2" fill="#1f77b4"/><circle cx="571.5" cy="300.44" r="1.2" fill="#1f77b4"/><circle cx="577.6" cy="354.85" r="1.2" fill="#1f77b4"/><circle cx="583.5" cy="361.59" r="1.2" fill="#1f77b4"/><circle cx="589.6" cy="377.82" r="1.2" fill="#1f77b4"/><circle cx="595.5" cy="319.91" r="1.2" fill="#1f77b4"/><circle cx="601.6" cy="379.82" r="1.2" fill="#1f77b4"/><circle cx="607.7" cy="391.05" r="1.2" fill="#1f77b4"/><circle cx="613.2" cy="373.33" r="1.2" fill="#1f77b4"/><circle cx="619.3" cy="402.03" r="1.2" fill="#1f77b4"/><circle cx="625.2" cy="352.86" r="1.2" fill="#1f77b4"/><circle cx="631.3" cy="406.53" r="1.2" fill="#1f77b4"/><circle cx="637.2" cy="420.26" r="1.2" fill="#1f77b4"/><circle cx="643.3" cy="430.99" r="1.2" fill="#1f77b4"/><circle cx="649.4" cy="394.05" r="1.2" fill="#1f77b4"/><circle cx="655.3" cy="419.01" r="1.2" fill="#1f77b4"/><circle cx="661.4" cy="433.24" r="1.2" fill="#1f77b4"/><circle cx="667.3" cy="324.15" r="1.2" fill="#1f77b4"/><text x="382" y="317.56" font-size="6.5" fill="#1f77b4" fill-opacity="0.78" stroke="#1f77b4" stroke-width="0.1" stroke-opacity="0.5">1</text><text x="388.1" y="378.22" font-size="6.5" fill="#1f77b4" fill-opacity="0.78" stroke="#1f77b4" stroke-width="0.1" stroke-opacity="0.5">1</text><text x="394.2" y="331.79" font-size="6.5" fill="#1f77b4" fill-opacity="0.78" stroke="#1f77b4" stroke-width="0.1" stroke-opacity="0.5">1</text><text x="399.7" y="357.25" font-size="6.5" fill="#1f77b4" fill-opacity="0.78" stroke="#1f77b4" stroke-width="0.1" stroke-opacity="0.5">1</text><text x="405.8" y="400.43" font-size="6.5" fill="#1f77b4" fill-opacity="0.78" stroke="#1f77b4" stroke-width="0.1" stroke-opacity="0.5">1</text><text x="411.7" y="369.98" font-size="6.5" fill="#1f77b4" fill-opacity="0.78" stroke="#1f77b4" stroke-width="0.1" stroke-opacity="0.5">29</text><text x="417.8" y="400.68" font-size="6.5" fill="#1f77b4" fill-opacity="0.78" stroke="#1f77b4" stroke-width="0.1" stroke-opacity="0.5">9</text><text x="423.7" y="376.72" font-size="6.5" fill="#1f77b4" fill-opacity="0.78" stroke="#1f77b4" stroke-width="0.1" stroke-opacity="0.5">29</text><text x="429.8" y="396.19" font-size="6.5" fill="#1f77b4" fill-opacity="0.78" stroke="#1f77b4" stroke-width="0.1" stroke-opacity="0.5">49</text><text x="435.9" y="403.68" font-size="6.5" fill="#1f77b4" fill-opacity="0.78" stroke="#1f77b4" stroke-width="0.1" stroke-opacity="0.5">25</text><text x="441.8" y="363.24" font-size="6.5" fill="#1f77b4" fill-opacity="0.78" stroke="#1f77b4" stroke-width="0.1" stroke-opacity="0.5">52</text><text x="447.9" y="384.96" font-size="6.5" fill="#1f77b4" fill-opacity="0.78" stroke="#1f77b4" stroke-width="0.1" stroke-opacity="0.5">1</text><text x="453.8" y="379.96" font-size="6.5" fill="#1f77b4" fill-opacity="0.78" stroke="#1f77b4" stroke-width="0.1" stroke-opacity="0.5">1</text><text x="459.9" y="399.44" font-size="6.5" fill="#1f77b4" fill-opacity="0.78" stroke="#1f77b4" stroke-width="0.1" stroke-opacity="0.5">4</text><text x="466" y="379.47" font-size="6.5" fill="#1f77b4" fill-opacity="0.78" stroke="#1f77b4" stroke-width="0.1" stroke-opacity="0.5">4</text><text x="471.51" y="387.95" font-size="6.5" fill="#1f77b4" fill-opacity="0.78" stroke="#1f77b4" stroke-width="0.1" stroke-opacity="0.5">4</text><text x="477.6" y="327.04" font-size="6.5" fill="#1f77b4" fill-opacity="0.78" stroke="#1f77b4" stroke-width="0.1" stroke-opacity="0.5">4</text><text x="483.5" y="347.76" font-size="6.5" fill="#1f77b4" fill-opacity="0.78" stroke="#1f77b4" stroke-width="0.1" stroke-opacity="0.5">7</text><text x="489.6" y="392.45" font-size="6.5" fill="#1f77b4" fill-opacity="0.78" stroke="#1f77b4" stroke-width="0.1" stroke-opacity="0.5">4</text><text x="495.5" y="336.78" font-size="6.5" fill="#1f77b4" fill-opacity="0.78" stroke="#1f77b4" stroke-width="0.1" stroke-opacity="0.5">11</text><text x="501.6" y="408.67" font-size="6.5" fill="#1f77b4" fill-opacity="0.78" stroke="#1f77b4" stroke-width="0.1" stroke-opacity="0.5">31</text><text x="507.7" y="385.71" font-size="6.5" fill="#1f77b4" fill-opacity="0.78" stroke="#1f77b4" stroke-width="0.1" stroke-opacity="0.5">31</text><text x="513.6" y="354.25" font-size="6.5" fill="#1f77b4" fill-opacity="0.78" stroke="#1f77b4" stroke-width="0.1" stroke-opacity="0.5">35</text><text x="519.7" y="394.94" font-size="6.5" fill="#1f77b4" fill-opacity="0.78" stroke="#1f77b4" stroke-width="0.1" stroke-opacity="0.5">11</text><text x="525.6" y="372.48" font-size="6.5" fill="#1f77b4" fill-opacity="0.78" stroke="#1f77b4" stroke-width="0.1" stroke-opacity="0.5">1</text><text x="531.7" y="382.46" font-size="6.5" fill="#1f77b4" fill-opacity="0.78" stroke="#1f77b4" stroke-width="0.1" stroke-opacity="0.5">11</text><text x="537.8" y="334.53" font-size="6.5" fill="#1f77b4" fill-opacity="0.78" stroke="#1f77b4" stroke-width="0.1" stroke-opacity="0.5">1</text><text x="543.5" y="272.63" font-size="6.5" fill="#1f77b4" fill-opacity="0.78" stroke="#1f77b4" stroke-width="0.1" stroke-opacity="0.5">1</text><text x="549.6" y="332.04" font-size="6.5" fill="#1f77b4" fill-opacity="0.78" stroke="#1f77b4" stroke-width="0.1" stroke-opacity="0.5">1</text><text x="555.5" y="345.77" font-size="6.5" fill="#1f77b4" fill-opacity="0.78" stroke="#1f77b4" stroke-width="0.1" stroke-opacity="0.5">7</text><text x="561.6" y="366.24" font-size="6.5" fill="#1f77b4" fill-opacity="0.78" stroke="#1f77b4" stroke-width="0.1" stroke-opacity="0.5">7</text><text x="567.5" y="361.24" font-size="6.5" fill="#1f77b4" fill-opacity="0.78" stroke="#1f77b4" stroke-width="0.1" stroke-opacity="0.5">11</text><text x="573.6" y="298.84" font-size="6.5" fill="#1f77b4" fill-opacity="0.78" stroke="#1f77b4" stroke-width="0.1" stroke-opacity="0.5">31</text><text x="579.7" y="353.25" font-size="6.5" fill="#1f77b4" fill-opacity="0.78" stroke="#1f77b4" stroke-width="0.1" stroke-opacity="0.5">32</text><text x="585.6" y="359.99" font-size="6.5" fill="#1f77b4" fill-opacity="0.78" stroke="#1f77b4" stroke-width="0.1" stroke-opacity="0.5">28</text><text x="591.7" y="376.22" font-size="6.5" fill="#1f77b4" fill-opacity="0.78" stroke="#1f77b4" stroke-width="0.1" stroke-opacity="0.5">33</text><text x="597.6" y="318.31" font-size="6.5" fill="#1f77b4" fill-opacity="0.78" stroke="#1f77b4" stroke-width="0.1" stroke-opacity="0.5">23</text><text x="603.7" y="378.22" font-size="6.5" fill="#1f77b4" fill-opacity="0.78" stroke="#1f77b4" stroke-width="0.1" stroke-opacity="0.5">21</text><text x="609.8" y="389.45" font-size="6.5" fill="#1f77b4" fill-opacity="0.78" stroke="#1f77b4" stroke-width="0.1" stroke-opacity="0.5">26</text><text x="615.3" y="371.73" font-size="6.5" fill="#1f77b4" fill-opacity="0.78" stroke="#1f77b4" stroke-width="0.1" stroke-opacity="0.5">4</text><text x="621.4" y="400.43" font-size="6.5" fill="#1f77b4" fill-opacity="0.78" stroke="#1f77b4" stroke-width="0.1" stroke-opacity="0.5">24</text><text x="627.3" y="351.26" font-size="6.5" fill="#1f77b4" fill-opacity="0.78" stroke="#1f77b4" stroke-width="0.1" stroke-opacity="0.5">3</text><text x="633.4" y="404.93" font-size="6.5" fill="#1f77b4" fill-opacity="0.78" stroke="#1f77b4" stroke-width="0.1" stroke-opacity="0.5">21</text><text x="639.3" y="418.66" font-size="6.5" fill="#1f77b4" fill-opacity="0.78" stroke="#1f77b4" stroke-width="0.1" stroke-opacity="0.5">39</text><text x="645.4" y="429.39" font-size="6.5" fill="#1f77b4" fill-opacity="0.78" stroke="#1f77b4" stroke-width="0.1" stroke-opacity="0.5">4</text><text x="651.5" y="392.45" font-size="6.5" fill="#1f77b4" fill-opacity="0.78" stroke="#1f77b4" stroke-width="0.1" stroke-opacity="0.5">18</text><text x="657.4" y="417.41" font-size="6.5" fill="#1f77b4" fill-opacity="0.78" stroke="#1f77b4" stroke-width="0.1" stroke-opacity="0.5">4</text><text x="663.5" y="431.64" font-size="6.5" fill="#1f77b4" fill-opacity="0.78" stroke="#1f77b4" stroke-width="0.1" stroke-opacity="0.5">4</text><text x="669.4" y="322.55" font-size="6.5" fill="#1f77b4" fill-opacity="0.78" stroke="#1f77b4" stroke-width="0.1" stroke-opacity="0.5">4</text><polyline points="379.9,467.19 386,433.49 392.1,455.2 397.6,446.97 403.7,405.78 409.6,430.74 415.7,431.99 421.6,405.28 427.7,427.75 433.8,412.77 439.7,409.52 445.8,450.21 451.7,445.22 457.8,414.76 463.9,415.76 469.41,412.77 475.5,430.74 481.4,414.02 487.5,414.76 493.4,439.48 499.5,429.74 505.6,395.54 511.5,414.76 517.6,442.72 523.5,389.55 529.6,402.03 535.7,433.99 541.4,457.7 547.5,457.7 553.4,402.03 559.5,430.24 565.4,391.05 571.5,441.97 577.6,420.26 583.5,429.74 589.6,443.97 595.5,432.74 601.6,456.45 607.7,395.29 613.2,424 619.3,410.77 625.2,442.72 631.3,409.52 637.2,428.24 643.3,435.23 649.4,438.48 655.3,426.5 661.4,443.97 667.3,458.95" fill="none" stroke="#ff7f0e" stroke-width="1.0" stroke-opacity="0.6" stroke-linejoin="round"/><circle cx="379.9" cy="467.19" r="1.2" fill="#ff7f0e"/><circle cx="386" cy="433.49" r="1.2" fill="#ff7f0e"/><circle cx="392.1" cy="455.2" r="1.2" fill="#ff7f0e"/><circle cx="397.6" cy="446.97" r="1.2" fill="#ff7f0e"/><circle cx="403.7" cy="405.78" r="1.2" fill="#ff7f0e"/><circle cx="409.6" cy="430.74" r="1.2" fill="#ff7f0e"/><circle cx="415.7" cy="431.99" r="1.2" fill="#ff7f0e"/><circle cx="421.6" cy="405.28" r="1.2" fill="#ff7f0e"/><circle cx="427.7" cy="427.75" r="1.2" fill="#ff7f0e"/><circle cx="433.8" cy="412.77" r="1.2" fill="#ff7f0e"/><circle cx="439.7" cy="409.52" r="1.2" fill="#ff7f0e"/><circle cx="445.8" cy="450.21" r="1.2" fill="#ff7f0e"/><circle cx="451.7" cy="445.22" r="1.2" fill="#ff7f0e"/><circle cx="457.8" cy="414.76" r="1.2" fill="#ff7f0e"/><circle cx="463.9" cy="415.76" r="1.2" fill="#ff7f0e"/><circle cx="469.41" cy="412.77" r="1.2" fill="#ff7f0e"/><circle cx="475.5" cy="430.74" r="1.2" fill="#ff7f0e"/><circle cx="481.4" cy="414.02" r="1.2" fill="#ff7f0e"/><circle cx="487.5" cy="414.76" r="1.2" fill="#ff7f0e"/><circle cx="493.4" cy="439.48" r="1.2" fill="#ff7f0e"/><circle cx="499.5" cy="429.74" r="1.2" fill="#ff7f0e"/><circle cx="505.6" cy="395.54" r="1.2" fill="#ff7f0e"/><circle cx="511.5" cy="414.76" r="1.2" fill="#ff7f0e"/><circle cx="517.6" cy="442.72" r="1.2" fill="#ff7f0e"/><circle cx="523.5" cy="389.55" r="1.2" fill="#ff7f0e"/><circle cx="529.6" cy="402.03" r="1.2" fill="#ff7f0e"/><circle cx="535.7" cy="433.99" r="1.2" fill="#ff7f0e"/><circle cx="541.4" cy="457.7" r="1.2" fill="#ff7f0e"/><circle cx="547.5" cy="457.7" r="1.2" fill="#ff7f0e"/><circle cx="553.4" cy="402.03" r="1.2" fill="#ff7f0e"/><circle cx="559.5" cy="430.24" r="1.2" fill="#ff7f0e"/><circle cx="565.4" cy="391.05" r="1.2" fill="#ff7f0e"/><circle cx="571.5" cy="441.97" r="1.2" fill="#ff7f0e"/><circle cx="577.6" cy="420.26" r="1.2" fill="#ff7f0e"/><circle cx="583.5" cy="429.74" r="1.2" fill="#ff7f0e"/><circle cx="589.6" cy="443.97" r="1.2" fill="#ff7f0e"/><circle cx="595.5" cy="432.74" r="1.2" fill="#ff7f0e"/><circle cx="601.6" cy="456.45" r="1.2" fill="#ff7f0e"/><circle cx="607.7" cy="395.29" r="1.2" fill="#ff7f0e"/><circle cx="613.2" cy="424" r="1.2" fill="#ff7f0e"/><circle cx="619.3" cy="410.77" r="1.2" fill="#ff7f0e"/><circle cx="625.2" cy="442.72" r="1.2" fill="#ff7f0e"/><circle cx="631.3" cy="409.52" r="1.2" fill="#ff7f0e"/><circle cx="637.2" cy="428.24" r="1.2" fill="#ff7f0e"/><circle cx="643.3" cy="435.23" r="1.2" fill="#ff7f0e"/><circle cx="649.4" cy="438.48" r="1.2" fill="#ff7f0e"/><circle cx="655.3" cy="426.5" r="1.2" fill="#ff7f0e"/><circle cx="661.4" cy="443.97" r="1.2" fill="#ff7f0e"/><circle cx="667.3" cy="458.95" r="1.2" fill="#ff7f0e"/><text x="382" y="465.59" font-size="6.5" fill="#ff7f0e" fill-opacity="0.78" stroke="#ff7f0e" stroke-width="0.1" stroke-opacity="0.5">50</text><text x="388.1" y="431.89" font-size="6.5" fill="#ff7f0e" fill-opacity="0.78" stroke="#ff7f0e" stroke-width="0.1" stroke-opacity="0.5">37</text><text x="394.2" y="453.6" font-size="6.5" fill="#ff7f0e" fill-opacity="0.78" stroke="#ff7f0e" stroke-width="0.1" stroke-opacity="0.5">1</text><text x="399.7" y="445.37" font-size="6.5" fill="#ff7f0e" fill-opacity="0.78" stroke="#ff7f0e" stroke-width="0.1" stroke-opacity="0.5">5</text><text x="405.8" y="404.18" font-size="6.5" fill="#ff7f0e" fill-opacity="0.78" stroke="#ff7f0e" stroke-width="0.1" stroke-opacity="0.5">50</text><text x="411.7" y="429.14" font-size="6.5" fill="#ff7f0e" fill-opacity="0.78" stroke="#ff7f0e" stroke-width="0.1" stroke-opacity="0.5">50</text><text x="417.8" y="430.39" font-size="6.5" fill="#ff7f0e" fill-opacity="0.78" stroke="#ff7f0e" stroke-width="0.1" stroke-opacity="0.5">13</text><text x="423.7" y="403.68" font-size="6.5" fill="#ff7f0e" fill-opacity="0.78" stroke="#ff7f0e" stroke-width="0.1" stroke-opacity="0.5">13</text><text x="429.8" y="426.15" font-size="6.5" fill="#ff7f0e" fill-opacity="0.78" stroke="#ff7f0e" stroke-width="0.1" stroke-opacity="0.5">29</text><text x="435.9" y="411.17" font-size="6.5" fill="#ff7f0e" fill-opacity="0.78" stroke="#ff7f0e" stroke-width="0.1" stroke-opacity="0.5">4</text><text x="441.8" y="407.92" font-size="6.5" fill="#ff7f0e" fill-opacity="0.78" stroke="#ff7f0e" stroke-width="0.1" stroke-opacity="0.5">4</text><text x="447.9" y="448.61" font-size="6.5" fill="#ff7f0e" fill-opacity="0.78" stroke="#ff7f0e" stroke-width="0.1" stroke-opacity="0.5">4</text><text x="453.8" y="443.62" font-size="6.5" fill="#ff7f0e" fill-opacity="0.78" stroke="#ff7f0e" stroke-width="0.1" stroke-opacity="0.5">2</text><text x="459.9" y="413.16" font-size="6.5" fill="#ff7f0e" fill-opacity="0.78" stroke="#ff7f0e" stroke-width="0.1" stroke-opacity="0.5">1</text><text x="466" y="414.16" font-size="6.5" fill="#ff7f0e" fill-opacity="0.78" stroke="#ff7f0e" stroke-width="0.1" stroke-opacity="0.5">5</text><text x="471.51" y="411.17" font-size="6.5" fill="#ff7f0e" fill-opacity="0.78" stroke="#ff7f0e" stroke-width="0.1" stroke-opacity="0.5">35</text><text x="477.6" y="429.14" font-size="6.5" fill="#ff7f0e" fill-opacity="0.78" stroke="#ff7f0e" stroke-width="0.1" stroke-opacity="0.5">25</text><text x="483.5" y="412.42" font-size="6.5" fill="#ff7f0e" fill-opacity="0.78" stroke="#ff7f0e" stroke-width="0.1" stroke-opacity="0.5">4</text><text x="489.6" y="413.16" font-size="6.5" fill="#ff7f0e" fill-opacity="0.78" stroke="#ff7f0e" stroke-width="0.1" stroke-opacity="0.5">62</text><text x="495.5" y="437.88" font-size="6.5" fill="#ff7f0e" fill-opacity="0.78" stroke="#ff7f0e" stroke-width="0.1" stroke-opacity="0.5">29</text><text x="501.6" y="428.14" font-size="6.5" fill="#ff7f0e" fill-opacity="0.78" stroke="#ff7f0e" stroke-width="0.1" stroke-opacity="0.5">29</text><text x="507.7" y="393.94" font-size="6.5" fill="#ff7f0e" fill-opacity="0.78" stroke="#ff7f0e" stroke-width="0.1" stroke-opacity="0.5">58</text><text x="513.6" y="413.16" font-size="6.5" fill="#ff7f0e" fill-opacity="0.78" stroke="#ff7f0e" stroke-width="0.1" stroke-opacity="0.5">4</text><text x="519.7" y="441.12" font-size="6.5" fill="#ff7f0e" fill-opacity="0.78" stroke="#ff7f0e" stroke-width="0.1" stroke-opacity="0.5">31</text><text x="525.6" y="387.95" font-size="6.5" fill="#ff7f0e" fill-opacity="0.78" stroke="#ff7f0e" stroke-width="0.1" stroke-opacity="0.5">53</text><text x="531.7" y="400.43" font-size="6.5" fill="#ff7f0e" fill-opacity="0.78" stroke="#ff7f0e" stroke-width="0.1" stroke-opacity="0.5">1</text><text x="537.8" y="432.39" font-size="6.5" fill="#ff7f0e" fill-opacity="0.78" stroke="#ff7f0e" stroke-width="0.1" stroke-opacity="0.5">12</text><text x="543.5" y="456.1" font-size="6.5" fill="#ff7f0e" fill-opacity="0.78" stroke="#ff7f0e" stroke-width="0.1" stroke-opacity="0.5">4</text><text x="549.6" y="456.1" font-size="6.5" fill="#ff7f0e" fill-opacity="0.78" stroke="#ff7f0e" stroke-width="0.1" stroke-opacity="0.5">43</text><text x="555.5" y="400.43" font-size="6.5" fill="#ff7f0e" fill-opacity="0.78" stroke="#ff7f0e" stroke-width="0.1" stroke-opacity="0.5">32</text><text x="561.6" y="428.64" font-size="6.5" fill="#ff7f0e" fill-opacity="0.78" stroke="#ff7f0e" stroke-width="0.1" stroke-opacity="0.5">4</text><text x="567.5" y="389.45" font-size="6.5" fill="#ff7f0e" fill-opacity="0.78" stroke="#ff7f0e" stroke-width="0.1" stroke-opacity="0.5">31</text><text x="573.6" y="440.37" font-size="6.5" fill="#ff7f0e" fill-opacity="0.78" stroke="#ff7f0e" stroke-width="0.1" stroke-opacity="0.5">12</text><text x="579.7" y="418.66" font-size="6.5" fill="#ff7f0e" fill-opacity="0.78" stroke="#ff7f0e" stroke-width="0.1" stroke-opacity="0.5">31</text><text x="585.6" y="428.14" font-size="6.5" fill="#ff7f0e" fill-opacity="0.78" stroke="#ff7f0e" stroke-width="0.1" stroke-opacity="0.5">31</text><text x="591.7" y="442.37" font-size="6.5" fill="#ff7f0e" fill-opacity="0.78" stroke="#ff7f0e" stroke-width="0.1" stroke-opacity="0.5">1</text><text x="597.6" y="431.14" font-size="6.5" fill="#ff7f0e" fill-opacity="0.78" stroke="#ff7f0e" stroke-width="0.1" stroke-opacity="0.5">1</text><text x="603.7" y="454.85" font-size="6.5" fill="#ff7f0e" fill-opacity="0.78" stroke="#ff7f0e" stroke-width="0.1" stroke-opacity="0.5">1</text><text x="609.8" y="393.69" font-size="6.5" fill="#ff7f0e" fill-opacity="0.78" stroke="#ff7f0e" stroke-width="0.1" stroke-opacity="0.5">21</text><text x="615.3" y="422.4" font-size="6.5" fill="#ff7f0e" fill-opacity="0.78" stroke="#ff7f0e" stroke-width="0.1" stroke-opacity="0.5">11</text><text x="621.4" y="409.17" font-size="6.5" fill="#ff7f0e" fill-opacity="0.78" stroke="#ff7f0e" stroke-width="0.1" stroke-opacity="0.5">3</text><text x="627.3" y="441.12" font-size="6.5" fill="#ff7f0e" fill-opacity="0.78" stroke="#ff7f0e" stroke-width="0.1" stroke-opacity="0.5">17</text><text x="633.4" y="407.92" font-size="6.5" fill="#ff7f0e" fill-opacity="0.78" stroke="#ff7f0e" stroke-width="0.1" stroke-opacity="0.5">3</text><text x="639.3" y="426.64" font-size="6.5" fill="#ff7f0e" fill-opacity="0.78" stroke="#ff7f0e" stroke-width="0.1" stroke-opacity="0.5">26</text><text x="645.4" y="433.63" font-size="6.5" fill="#ff7f0e" fill-opacity="0.78" stroke="#ff7f0e" stroke-width="0.1" stroke-opacity="0.5">24</text><text x="651.5" y="436.88" font-size="6.5" fill="#ff7f0e" fill-opacity="0.78" stroke="#ff7f0e" stroke-width="0.1" stroke-opacity="0.5">50</text><text x="657.4" y="424.9" font-size="6.5" fill="#ff7f0e" fill-opacity="0.78" stroke="#ff7f0e" stroke-width="0.1" stroke-opacity="0.5">30</text><text x="663.5" y="442.37" font-size="6.5" fill="#ff7f0e" fill-opacity="0.78" stroke="#ff7f0e" stroke-width="0.1" stroke-opacity="0.5">1</text><text x="669.4" y="457.35" font-size="6.5" fill="#ff7f0e" fill-opacity="0.78" stroke="#ff7f0e" stroke-width="0.1" stroke-opacity="0.5">1</text><polyline points="379.9,472.18 386,452.21 392.1,457.7 397.6,460.7 403.7,457.7 409.6,456.45 415.7,445.22 421.6,471.43 427.7,463.44 433.8,439.48 439.7,455.95 445.8,458.95 451.7,454.46 457.8,462.69 463.9,446.97 469.41,442.72 475.5,467.69 481.4,470.68 487.5,453.21 493.4,466.44 499.5,443.47 505.6,454.46 511.5,439.48 517.6,458.45 523.5,464.69 529.6,455.95 535.7,464.69 541.4,463.19 547.5,460.2 553.4,468.93 559.5,448.96 565.4,440.73 571.5,464.69 577.6,448.21 583.5,459.7 589.6,455.2 595.5,463.44 601.6,464.19 607.7,432.74 613.2,454.46 619.3,413.27 625.2,457.7 631.3,467.69 637.2,453.21 643.3,450.21 649.4,451.46 655.3,458.95 661.4,446.47 667.3,468.18" fill="none" stroke="#2ca02c" stroke-width="1.0" stroke-opacity="0.6" stroke-linejoin="round"/><circle cx="379.9" cy="472.18" r="1.2" fill="#2ca02c"/><circle cx="386" cy="452.21" r="1.2" fill="#2ca02c"/><circle cx="392.1" cy="457.7" r="1.2" fill="#2ca02c"/><circle cx="397.6" cy="460.7" r="1.2" fill="#2ca02c"/><circle cx="403.7" cy="457.7" r="1.2" fill="#2ca02c"/><circle cx="409.6" cy="456.45" r="1.2" fill="#2ca02c"/><circle cx="415.7" cy="445.22" r="1.2" fill="#2ca02c"/><circle cx="421.6" cy="471.43" r="1.2" fill="#2ca02c"/><circle cx="427.7" cy="463.44" r="1.2" fill="#2ca02c"/><circle cx="433.8" cy="439.48" r="1.2" fill="#2ca02c"/><circle cx="439.7" cy="455.95" r="1.2" fill="#2ca02c"/><circle cx="445.8" cy="458.95" r="1.2" fill="#2ca02c"/><circle cx="451.7" cy="454.46" r="1.2" fill="#2ca02c"/><circle cx="457.8" cy="462.69" r="1.2" fill="#2ca02c"/><circle cx="463.9" cy="446.97" r="1.2" fill="#2ca02c"/><circle cx="469.41" cy="442.72" r="1.2" fill="#2ca02c"/><circle cx="475.5" cy="467.69" r="1.2" fill="#2ca02c"/><circle cx="481.4" cy="470.68" r="1.2" fill="#2ca02c"/><circle cx="487.5" cy="453.21" r="1.2" fill="#2ca02c"/><circle cx="493.4" cy="466.44" r="1.2" fill="#2ca02c"/><circle cx="499.5" cy="443.47" r="1.2" fill="#2ca02c"/><circle cx="505.6" cy="454.46" r="1.2" fill="#2ca02c"/><circle cx="511.5" cy="439.48" r="1.2" fill="#2ca02c"/><circle cx="517.6" cy="458.45" r="1.2" fill="#2ca02c"/><circle cx="523.5" cy="464.69" r="1.2" fill="#2ca02c"/><circle cx="529.6" cy="455.95" r="1.2" fill="#2ca02c"/><circle cx="535.7" cy="464.69" r="1.2" fill="#2ca02c"/><circle cx="541.4" cy="463.19" r="1.2" fill="#2ca02c"/><circle cx="547.5" cy="460.2" r="1.2" fill="#2ca02c"/><circle cx="553.4" cy="468.93" r="1.2" fill="#2ca02c"/><circle cx="559.5" cy="448.96" r="1.2" fill="#2ca02c"/><circle cx="565.4" cy="440.73" r="1.2" fill="#2ca02c"/><circle cx="571.5" cy="464.69" r="1.2" fill="#2ca02c"/><circle cx="577.6" cy="448.21" r="1.2" fill="#2ca02c"/><circle cx="583.5" cy="459.7" r="1.2" fill="#2ca02c"/><circle cx="589.6" cy="455.2" r="1.2" fill="#2ca02c"/><circle cx="595.5" cy="463.44" r="1.2" fill="#2ca02c"/><circle cx="601.6" cy="464.19" r="1.2" fill="#2ca02c"/><circle cx="607.7" cy="432.74" r="1.2" fill="#2ca02c"/><circle cx="613.2" cy="454.46" r="1.2" fill="#2ca02c"/><circle cx="619.3" cy="413.27" r="1.2" fill="#2ca02c"/><circle cx="625.2" cy="457.7" r="1.2" fill="#2ca02c"/><circle cx="631.3" cy="467.69" r="1.2" fill="#2ca02c"/><circle cx="637.2" cy="453.21" r="1.2" fill="#2ca02c"/><circle cx="643.3" cy="450.21" r="1.2" fill="#2ca02c"/><circle cx="649.4" cy="451.46" r="1.2" fill="#2ca02c"/><circle cx="655.3" cy="458.95" r="1.2" fill="#2ca02c"/><circle cx="661.4" cy="446.47" r="1.2" fill="#2ca02c"/><circle cx="667.3" cy="468.18" r="1.2" fill="#2ca02c"/><text x="382" y="470.58" font-size="6.5" fill="#2ca02c" fill-opacity="0.78" stroke="#2ca02c" stroke-width="0.1" stroke-opacity="0.5">53</text><text x="388.1" y="450.61" font-size="6.5" fill="#2ca02c" fill-opacity="0.78" stroke="#2ca02c" stroke-width="0.1" stroke-opacity="0.5">21</text><text x="394.2" y="456.1" font-size="6.5" fill="#2ca02c" fill-opacity="0.78" stroke="#2ca02c" stroke-width="0.1" stroke-opacity="0.5">1</text><text x="399.7" y="459.1" font-size="6.5" fill="#2ca02c" fill-opacity="0.78" stroke="#2ca02c" stroke-width="0.1" stroke-opacity="0.5">57</text><text x="405.8" y="456.1" font-size="6.5" fill="#2ca02c" fill-opacity="0.78" stroke="#2ca02c" stroke-width="0.1" stroke-opacity="0.5">5</text><text x="411.7" y="454.85" font-size="6.5" fill="#2ca02c" fill-opacity="0.78" stroke="#2ca02c" stroke-width="0.1" stroke-opacity="0.5">5</text><text x="417.8" y="443.62" font-size="6.5" fill="#2ca02c" fill-opacity="0.78" stroke="#2ca02c" stroke-width="0.1" stroke-opacity="0.5">13</text><text x="423.7" y="469.83" font-size="6.5" fill="#2ca02c" fill-opacity="0.78" stroke="#2ca02c" stroke-width="0.1" stroke-opacity="0.5">61</text><text x="429.8" y="461.84" font-size="6.5" fill="#2ca02c" fill-opacity="0.78" stroke="#2ca02c" stroke-width="0.1" stroke-opacity="0.5">50</text><text x="435.9" y="437.88" font-size="6.5" fill="#2ca02c" fill-opacity="0.78" stroke="#2ca02c" stroke-width="0.1" stroke-opacity="0.5">31</text><text x="441.8" y="454.35" font-size="6.5" fill="#2ca02c" fill-opacity="0.78" stroke="#2ca02c" stroke-width="0.1" stroke-opacity="0.5">25</text><text x="447.9" y="457.35" font-size="6.5" fill="#2ca02c" fill-opacity="0.78" stroke="#2ca02c" stroke-width="0.1" stroke-opacity="0.5">4</text><text x="453.8" y="452.86" font-size="6.5" fill="#2ca02c" fill-opacity="0.78" stroke="#2ca02c" stroke-width="0.1" stroke-opacity="0.5">4</text><text x="459.9" y="461.09" font-size="6.5" fill="#2ca02c" fill-opacity="0.78" stroke="#2ca02c" stroke-width="0.1" stroke-opacity="0.5">14</text><text x="466" y="445.37" font-size="6.5" fill="#2ca02c" fill-opacity="0.78" stroke="#2ca02c" stroke-width="0.1" stroke-opacity="0.5">1</text><text x="471.51" y="441.12" font-size="6.5" fill="#2ca02c" fill-opacity="0.78" stroke="#2ca02c" stroke-width="0.1" stroke-opacity="0.5">25</text><text x="477.6" y="466.09" font-size="6.5" fill="#2ca02c" fill-opacity="0.78" stroke="#2ca02c" stroke-width="0.1" stroke-opacity="0.5">53</text><text x="483.5" y="469.08" font-size="6.5" fill="#2ca02c" fill-opacity="0.78" stroke="#2ca02c" stroke-width="0.1" stroke-opacity="0.5">11</text><text x="489.6" y="451.61" font-size="6.5" fill="#2ca02c" fill-opacity="0.78" stroke="#2ca02c" stroke-width="0.1" stroke-opacity="0.5">35</text><text x="495.5" y="464.84" font-size="6.5" fill="#2ca02c" fill-opacity="0.78" stroke="#2ca02c" stroke-width="0.1" stroke-opacity="0.5">31</text><text x="501.6" y="441.87" font-size="6.5" fill="#2ca02c" fill-opacity="0.78" stroke="#2ca02c" stroke-width="0.1" stroke-opacity="0.5">52</text><text x="507.7" y="452.86" font-size="6.5" fill="#2ca02c" fill-opacity="0.78" stroke="#2ca02c" stroke-width="0.1" stroke-opacity="0.5">41</text><text x="513.6" y="437.88" font-size="6.5" fill="#2ca02c" fill-opacity="0.78" stroke="#2ca02c" stroke-width="0.1" stroke-opacity="0.5">3</text><text x="519.7" y="456.85" font-size="6.5" fill="#2ca02c" fill-opacity="0.78" stroke="#2ca02c" stroke-width="0.1" stroke-opacity="0.5">10</text><text x="525.6" y="463.09" font-size="6.5" fill="#2ca02c" fill-opacity="0.78" stroke="#2ca02c" stroke-width="0.1" stroke-opacity="0.5">11</text><text x="531.7" y="454.35" font-size="6.5" fill="#2ca02c" fill-opacity="0.78" stroke="#2ca02c" stroke-width="0.1" stroke-opacity="0.5">19</text><text x="537.8" y="463.09" font-size="6.5" fill="#2ca02c" fill-opacity="0.78" stroke="#2ca02c" stroke-width="0.1" stroke-opacity="0.5">5</text><text x="543.5" y="461.59" font-size="6.5" fill="#2ca02c" fill-opacity="0.78" stroke="#2ca02c" stroke-width="0.1" stroke-opacity="0.5">5</text><text x="549.6" y="458.6" font-size="6.5" fill="#2ca02c" fill-opacity="0.78" stroke="#2ca02c" stroke-width="0.1" stroke-opacity="0.5">4</text><text x="555.5" y="467.33" font-size="6.5" fill="#2ca02c" fill-opacity="0.78" stroke="#2ca02c" stroke-width="0.1" stroke-opacity="0.5">53</text><text x="561.6" y="447.36" font-size="6.5" fill="#2ca02c" fill-opacity="0.78" stroke="#2ca02c" stroke-width="0.1" stroke-opacity="0.5">31</text><text x="567.5" y="439.13" font-size="6.5" fill="#2ca02c" fill-opacity="0.78" stroke="#2ca02c" stroke-width="0.1" stroke-opacity="0.5">32</text><text x="573.6" y="463.09" font-size="6.5" fill="#2ca02c" fill-opacity="0.78" stroke="#2ca02c" stroke-width="0.1" stroke-opacity="0.5">4</text><text x="579.7" y="446.61" font-size="6.5" fill="#2ca02c" fill-opacity="0.78" stroke="#2ca02c" stroke-width="0.1" stroke-opacity="0.5">21</text><text x="585.6" y="458.1" font-size="6.5" fill="#2ca02c" fill-opacity="0.78" stroke="#2ca02c" stroke-width="0.1" stroke-opacity="0.5">14</text><text x="591.7" y="453.6" font-size="6.5" fill="#2ca02c" fill-opacity="0.78" stroke="#2ca02c" stroke-width="0.1" stroke-opacity="0.5">43</text><text x="597.6" y="461.84" font-size="6.5" fill="#2ca02c" fill-opacity="0.78" stroke="#2ca02c" stroke-width="0.1" stroke-opacity="0.5">4</text><text x="603.7" y="462.59" font-size="6.5" fill="#2ca02c" fill-opacity="0.78" stroke="#2ca02c" stroke-width="0.1" stroke-opacity="0.5">24</text><text x="609.8" y="431.14" font-size="6.5" fill="#2ca02c" fill-opacity="0.78" stroke="#2ca02c" stroke-width="0.1" stroke-opacity="0.5">17</text><text x="615.3" y="452.86" font-size="6.5" fill="#2ca02c" fill-opacity="0.78" stroke="#2ca02c" stroke-width="0.1" stroke-opacity="0.5">21</text><text x="621.4" y="411.67" font-size="6.5" fill="#2ca02c" fill-opacity="0.78" stroke="#2ca02c" stroke-width="0.1" stroke-opacity="0.5">21</text><text x="627.3" y="456.1" font-size="6.5" fill="#2ca02c" fill-opacity="0.78" stroke="#2ca02c" stroke-width="0.1" stroke-opacity="0.5">11</text><text x="633.4" y="466.09" font-size="6.5" fill="#2ca02c" fill-opacity="0.78" stroke="#2ca02c" stroke-width="0.1" stroke-opacity="0.5">18</text><text x="639.3" y="451.61" font-size="6.5" fill="#2ca02c" fill-opacity="0.78" stroke="#2ca02c" stroke-width="0.1" stroke-opacity="0.5">10</text><text x="645.4" y="448.61" font-size="6.5" fill="#2ca02c" fill-opacity="0.78" stroke="#2ca02c" stroke-width="0.1" stroke-opacity="0.5">2</text><text x="651.5" y="449.86" font-size="6.5" fill="#2ca02c" fill-opacity="0.78" stroke="#2ca02c" stroke-width="0.1" stroke-opacity="0.5">44</text><text x="657.4" y="457.35" font-size="6.5" fill="#2ca02c" fill-opacity="0.78" stroke="#2ca02c" stroke-width="0.1" stroke-opacity="0.5">21</text><text x="663.5" y="444.87" font-size="6.5" fill="#2ca02c" fill-opacity="0.78" stroke="#2ca02c" stroke-width="0.1" stroke-opacity="0.5">65</text><text x="669.4" y="466.58" font-size="6.5" fill="#2ca02c" fill-opacity="0.78" stroke="#2ca02c" stroke-width="0.1" stroke-opacity="0.5">13</text><rect x="371.7" y="268.5" width="101.6" height="28.8" rx="1.2" fill="#fff" fill-opacity="0.8" stroke="#e2e2e2" stroke-width="0.7"/><line x1="373.7" y1="273.5" x2="386.5" y2="273.5" stroke="#1f77b4" stroke-width="1" stroke-opacity="0.6"/><circle cx="380.1" cy="273.5" r="1.35" fill="#1f77b4"/><text x="391.8" y="276" font-size="6.5" fill="#1a1a1a" class="t" textLength="78.6" lengthAdjust="spacing">Top 1 Feature Importance</text><line x1="373.7" y1="282.55" x2="386.5" y2="282.55" stroke="#ff7f0e" stroke-width="1" stroke-opacity="0.6"/><circle cx="380.1" cy="282.55" r="1.35" fill="#ff7f0e"/><text x="391.8" y="285.05" font-size="6.5" fill="#1a1a1a" class="t" textLength="78.6" lengthAdjust="spacing">Top 2 Feature Importance</text><line x1="373.7" y1="291.6" x2="386.5" y2="291.6" stroke="#2ca02c" stroke-width="1" stroke-opacity="0.6"/><circle cx="380.1" cy="291.6" r="1.35" fill="#2ca02c"/><text x="391.8" y="294.1" font-size="6.5" fill="#1a1a1a" class="t" textLength="78.6" lengthAdjust="spacing">Top 3 Feature Importance</text><text class="cap" x="486.2" y="522.1" font-size="15.6" fill="#111" stroke="#111" stroke-width="0.2" textLength="62.5" lengthAdjust="spacingAndGlyphs">(d) City 4</text></g>
<g><line x1="18.2" y1="527.5" x2="18.2" y2="745.2" stroke="#c4c4c4" stroke-width="1"/><line x1="334.7" y1="527.5" x2="334.7" y2="745.2" stroke="#d6d6d6" stroke-width="1"/><line x1="18.2" y1="745.2" x2="334.7" y2="745.2" stroke="#e6e6e6" stroke-width="1"/><line x1="17.7" y1="527.5" x2="335.2" y2="527.5" stroke="#bababa" stroke-width="1"/><line x1="16.4" y1="538.2" x2="18.2" y2="538.2" stroke="#b0b0b0" stroke-width="0.7"/><text x="15.2" y="540.25" font-size="5.7" fill="#1a1a1a" text-anchor="end" class="t" textLength="8.6" lengthAdjust="spacing">0.5</text><line x1="16.4" y1="581.7" x2="18.2" y2="581.7" stroke="#b0b0b0" stroke-width="0.7"/><text x="15.2" y="583.75" font-size="5.7" fill="#1a1a1a" text-anchor="end" class="t" textLength="8.6" lengthAdjust="spacing">0.4</text><line x1="16.4" y1="625.1" x2="18.2" y2="625.1" stroke="#b0b0b0" stroke-width="0.7"/><text x="15.2" y="627.15" font-size="5.7" fill="#1a1a1a" text-anchor="end" class="t" textLength="8.6" lengthAdjust="spacing">0.3</text><line x1="16.4" y1="668.8" x2="18.2" y2="668.8" stroke="#b0b0b0" stroke-width="0.7"/><text x="15.2" y="670.85" font-size="5.7" fill="#1a1a1a" text-anchor="end" class="t" textLength="8.6" lengthAdjust="spacing">0.2</text><line x1="16.4" y1="712" x2="18.2" y2="712" stroke="#b0b0b0" stroke-width="0.7"/><text x="15.2" y="714.05" font-size="5.7" fill="#1a1a1a" text-anchor="end" class="t" textLength="8.6" lengthAdjust="spacing">0.1</text><line x1="38.31" y1="745.2" x2="38.31" y2="747" stroke="#b0b0b0" stroke-width="0.7"/><text x="38.31" y="751.3" font-size="5.7" fill="#1a1a1a" text-anchor="middle" class="t" textLength="21.9" lengthAdjust="spacing">2018-01</text><line x1="74.01" y1="745.2" x2="74.01" y2="747" stroke="#b0b0b0" stroke-width="0.7"/><text x="74.01" y="751.3" font-size="5.7" fill="#1a1a1a" text-anchor="middle" class="t" textLength="21.9" lengthAdjust="spacing">2018-07</text><line x1="110.29" y1="745.2" x2="110.29" y2="747" stroke="#b0b0b0" stroke-width="0.7"/><text x="110.29" y="751.3" font-size="5.7" fill="#1a1a1a" text-anchor="middle" class="t" textLength="21.9" lengthAdjust="spacing">2019-01</text><line x1="145.98" y1="745.2" x2="145.98" y2="747" stroke="#b0b0b0" stroke-width="0.7"/><text x="145.98" y="751.3" font-size="5.7" fill="#1a1a1a" text-anchor="middle" class="t" textLength="21.9" lengthAdjust="spacing">2019-07</text><line x1="182.26" y1="745.2" x2="182.26" y2="747" stroke="#b0b0b0" stroke-width="0.7"/><text x="182.26" y="751.3" font-size="5.7" fill="#1a1a1a" text-anchor="middle" class="t" textLength="21.9" lengthAdjust="spacing">2020-01</text><line x1="218.15" y1="745.2" x2="218.15" y2="747" stroke="#b0b0b0" stroke-width="0.7"/><text x="218.15" y="751.3" font-size="5.7" fill="#1a1a1a" text-anchor="middle" class="t" textLength="21.9" lengthAdjust="spacing">2020-07</text><line x1="254.44" y1="745.2" x2="254.44" y2="747" stroke="#b0b0b0" stroke-width="0.7"/><text x="254.44" y="751.3" font-size="5.7" fill="#1a1a1a" text-anchor="middle" class="t" textLength="21.9" lengthAdjust="spacing">2021-01</text><line x1="290.13" y1="745.2" x2="290.13" y2="747" stroke="#b0b0b0" stroke-width="0.7"/><text x="290.13" y="751.3" font-size="5.7" fill="#1a1a1a" text-anchor="middle" class="t" textLength="21.9" lengthAdjust="spacing">2021-07</text><line x1="326.41" y1="745.2" x2="326.41" y2="747" stroke="#b0b0b0" stroke-width="0.7"/><text x="326.41" y="751.3" font-size="5.7" fill="#1a1a1a" text-anchor="middle" class="t" textLength="21.9" lengthAdjust="spacing">2022-01</text><text x="176.45" y="758.3" font-size="6.0" fill="#1a1a1a" text-anchor="middle" class="t" textLength="14" lengthAdjust="spacingAndGlyphs">Date</text><text transform="translate(5 637.35) rotate(-90)" x="0" y="0" font-size="6.0" fill="#1a1a1a" class="t" text-anchor="middle" textLength="35" lengthAdjust="spacingAndGlyphs">Importance</text><polyline points="32.2,677.26 38.31,642.32 44.43,612.36 49.95,642.32 56.06,658.04 61.98,654.8 68.09,684 74.01,671.02 80.12,678.51 86.23,663.78 92.15,686.75 98.26,644.06 104.18,694.74 110.29,619.35 116.4,535.48 121.92,607.87 128.04,684 133.95,670.52 140.06,629.34 145.98,621.85 152.09,688 158.21,669.78 164.12,640.57 170.24,613.61 176.15,642.82 182.26,663.53 188.38,671.52 194.1,659.79 200.21,642.32 206.12,626.59 212.24,621.1 218.15,602.88 224.27,683.01 230.38,651.05 236.3,668.53 242.41,682.26 248.32,684 254.44,689.75 260.55,604.37 266.07,642.82 272.18,699.23 278.1,647.81 284.21,667.28 290.13,649.81 296.24,641.07 302.36,637.32 308.27,667.78 314.38,705.22 320.3,655.3" fill="none" stroke="#1f77b4" stroke-width="1.0" stroke-opacity="0.6" stroke-linejoin="round"/><circle cx="32.2" cy="677.26" r="1.2" fill="#1f77b4"/><circle cx="38.31" cy="642.32" r="1.2" fill="#1f77b4"/><circle cx="44.43" cy="612.36" r="1.2" fill="#1f77b4"/><circle cx="49.95" cy="642.32" r="1.2" fill="#1f77b4"/><circle cx="56.06" cy="658.04" r="1.2" fill="#1f77b4"/><circle cx="61.98" cy="654.8" r="1.2" fill="#1f77b4"/><circle cx="68.09" cy="684" r="1.2" fill="#1f77b4"/><circle cx="74.01" cy="671.02" r="1.2" fill="#1f77b4"/><circle cx="80.12" cy="678.51" r="1.2" fill="#1f77b4"/><circle cx="86.23" cy="663.78" r="1.2" fill="#1f77b4"/><circle cx="92.15" cy="686.75" r="1.2" fill="#1f77b4"/><circle cx="98.26" cy="644.06" r="1.2" fill="#1f77b4"/><circle cx="104.18" cy="694.74" r="1.2" fill="#1f77b4"/><circle cx="110.29" cy="619.35" r="1.2" fill="#1f77b4"/><circle cx="116.4" cy="535.48" r="1.2" fill="#1f77b4"/><circle cx="121.92" cy="607.87" r="1.2" fill="#1f77b4"/><circle cx="128.04" cy="684" r="1.2" fill="#1f77b4"/><circle cx="133.95" cy="670.52" r="1.2" fill="#1f77b4"/><circle cx="140.06" cy="629.34" r="1.2" fill="#1f77b4"/><circle cx="145.98" cy="621.85" r="1.2" fill="#1f77b4"/><circle cx="152.09" cy="688" r="1.2" fill="#1f77b4"/><circle cx="158.21" cy="669.78" r="1.2" fill="#1f77b4"/><circle cx="164.12" cy="640.57" r="1.2" fill="#1f77b4"/><circle cx="170.24" cy="613.61" r="1.2" fill="#1f77b4"/><circle cx="176.15" cy="642.82" r="1.2" fill="#1f77b4"/><circle cx="182.26" cy="663.53" r="1.2" fill="#1f77b4"/><circle cx="188.38" cy="671.52" r="1.2" fill="#1f77b4"/><circle cx="194.1" cy="659.79" r="1.2" fill="#1f77b4"/><circle cx="200.21" cy="642.32" r="1.2" fill="#1f77b4"/><circle cx="206.12" cy="626.59" r="1.2" fill="#1f77b4"/><circle cx="212.24" cy="621.1" r="1.2" fill="#1f77b4"/><circle cx="218.15" cy="602.88" r="1.2" fill="#1f77b4"/><circle cx="224.27" cy="683.01" r="1.2" fill="#1f77b4"/><circle cx="230.38" cy="651.05" r="1.2" fill="#1f77b4"/><circle cx="236.3" cy="668.53" r="1.2" fill="#1f77b4"/><circle cx="242.41" cy="682.26" r="1.2" fill="#1f77b4"/><circle cx="248.32" cy="684" r="1.2" fill="#1f77b4"/><circle cx="254.44" cy="689.75" r="1.2" fill="#1f77b4"/><circle cx="260.55" cy="604.37" r="1.2" fill="#1f77b4"/><circle cx="266.07" cy="642.82" r="1.2" fill="#1f77b4"/><circle cx="272.18" cy="699.23" r="1.2" fill="#1f77b4"/><circle cx="278.1" cy="647.81" r="1.2" fill="#1f77b4"/><circle cx="284.21" cy="667.28" r="1.2" fill="#1f77b4"/><circle cx="290.13" cy="649.81" r="1.2" fill="#1f77b4"/><circle cx="296.24" cy="641.07" r="1.2" fill="#1f77b4"/><circle cx="302.36" cy="637.32" r="1.2" fill="#1f77b4"/><circle cx="308.27" cy="667.78" r="1.2" fill="#1f77b4"/><circle cx="314.38" cy="705.22" r="1.2" fill="#1f77b4"/><circle cx="320.3" cy="655.3" r="1.2" fill="#1f77b4"/><text x="34.3" y="675.66" font-size="6.5" fill="#1f77b4" fill-opacity="0.78" stroke="#1f77b4" stroke-width="0.1" stroke-opacity="0.5">4</text><text x="40.41" y="640.72" font-size="6.5" fill="#1f77b4" fill-opacity="0.78" stroke="#1f77b4" stroke-width="0.1" stroke-opacity="0.5">32</text><text x="46.53" y="610.76" font-size="6.5" fill="#1f77b4" fill-opacity="0.78" stroke="#1f77b4" stroke-width="0.1" stroke-opacity="0.5">20</text><text x="52.05" y="640.72" font-size="6.5" fill="#1f77b4" fill-opacity="0.78" stroke="#1f77b4" stroke-width="0.1" stroke-opacity="0.5">58</text><text x="58.16" y="656.44" font-size="6.5" fill="#1f77b4" fill-opacity="0.78" stroke="#1f77b4" stroke-width="0.1" stroke-opacity="0.5">4</text><text x="64.08" y="653.2" font-size="6.5" fill="#1f77b4" fill-opacity="0.78" stroke="#1f77b4" stroke-width="0.1" stroke-opacity="0.5">24</text><text x="70.19" y="682.4" font-size="6.5" fill="#1f77b4" fill-opacity="0.78" stroke="#1f77b4" stroke-width="0.1" stroke-opacity="0.5">18</text><text x="76.11" y="669.42" font-size="6.5" fill="#1f77b4" fill-opacity="0.78" stroke="#1f77b4" stroke-width="0.1" stroke-opacity="0.5">17</text><text x="82.22" y="676.91" font-size="6.5" fill="#1f77b4" fill-opacity="0.78" stroke="#1f77b4" stroke-width="0.1" stroke-opacity="0.5">12</text><text x="88.33" y="662.18" font-size="6.5" fill="#1f77b4" fill-opacity="0.78" stroke="#1f77b4" stroke-width="0.1" stroke-opacity="0.5">35</text><text x="94.25" y="685.15" font-size="6.5" fill="#1f77b4" fill-opacity="0.78" stroke="#1f77b4" stroke-width="0.1" stroke-opacity="0.5">18</text><text x="100.36" y="642.46" font-size="6.5" fill="#1f77b4" fill-opacity="0.78" stroke="#1f77b4" stroke-width="0.1" stroke-opacity="0.5">40</text><text x="106.28" y="693.14" font-size="6.5" fill="#1f77b4" fill-opacity="0.78" stroke="#1f77b4" stroke-width="0.1" stroke-opacity="0.5">30</text><text x="112.39" y="617.75" font-size="6.5" fill="#1f77b4" fill-opacity="0.78" stroke="#1f77b4" stroke-width="0.1" stroke-opacity="0.5">30</text><text x="118.5" y="533.88" font-size="6.5" fill="#1f77b4" fill-opacity="0.78" stroke="#1f77b4" stroke-width="0.1" stroke-opacity="0.5">30</text><text x="124.02" y="606.27" font-size="6.5" fill="#1f77b4" fill-opacity="0.78" stroke="#1f77b4" stroke-width="0.1" stroke-opacity="0.5">30</text><text x="130.14" y="682.4" font-size="6.5" fill="#1f77b4" fill-opacity="0.78" stroke="#1f77b4" stroke-width="0.1" stroke-opacity="0.5">9</text><text x="136.05" y="668.92" font-size="6.5" fill="#1f77b4" fill-opacity="0.78" stroke="#1f77b4" stroke-width="0.1" stroke-opacity="0.5">62</text><text x="142.16" y="627.74" font-size="6.5" fill="#1f77b4" fill-opacity="0.78" stroke="#1f77b4" stroke-width="0.1" stroke-opacity="0.5">30</text><text x="148.08" y="620.25" font-size="6.5" fill="#1f77b4" fill-opacity="0.78" stroke="#1f77b4" stroke-width="0.1" stroke-opacity="0.5">30</text><text x="154.19" y="686.4" font-size="6.5" fill="#1f77b4" fill-opacity="0.78" stroke="#1f77b4" stroke-width="0.1" stroke-opacity="0.5">30</text><text x="160.31" y="668.18" font-size="6.5" fill="#1f77b4" fill-opacity="0.78" stroke="#1f77b4" stroke-width="0.1" stroke-opacity="0.5">30</text><text x="166.22" y="638.97" font-size="6.5" fill="#1f77b4" fill-opacity="0.78" stroke="#1f77b4" stroke-width="0.1" stroke-opacity="0.5">9</text><text x="172.34" y="612.01" font-size="6.5" fill="#1f77b4" fill-opacity="0.78" stroke="#1f77b4" stroke-width="0.1" stroke-opacity="0.5">31</text><text x="178.25" y="641.22" font-size="6.5" fill="#1f77b4" fill-opacity="0.78" stroke="#1f77b4" stroke-width="0.1" stroke-opacity="0.5">31</text><text x="184.36" y="661.93" font-size="6.5" fill="#1f77b4" fill-opacity="0.78" stroke="#1f77b4" stroke-width="0.1" stroke-opacity="0.5">59</text><text x="190.48" y="669.92" font-size="6.5" fill="#1f77b4" fill-opacity="0.78" stroke="#1f77b4" stroke-width="0.1" stroke-opacity="0.5">4</text><text x="196.2" y="658.19" font-size="6.5" fill="#1f77b4" fill-opacity="0.78" stroke="#1f77b4" stroke-width="0.1" stroke-opacity="0.5">4</text><text x="202.31" y="640.72" font-size="6.5" fill="#1f77b4" fill-opacity="0.78" stroke="#1f77b4" stroke-width="0.1" stroke-opacity="0.5">64</text><text x="208.22" y="624.99" font-size="6.5" fill="#1f77b4" fill-opacity="0.78" stroke="#1f77b4" stroke-width="0.1" stroke-opacity="0.5">3</text><text x="214.34" y="619.5" font-size="6.5" fill="#1f77b4" fill-opacity="0.78" stroke="#1f77b4" stroke-width="0.1" stroke-opacity="0.5">30</text><text x="220.25" y="601.28" font-size="6.5" fill="#1f77b4" fill-opacity="0.78" stroke="#1f77b4" stroke-width="0.1" stroke-opacity="0.5">30</text><text x="226.37" y="681.41" font-size="6.5" fill="#1f77b4" fill-opacity="0.78" stroke="#1f77b4" stroke-width="0.1" stroke-opacity="0.5">30</text><text x="232.48" y="649.45" font-size="6.5" fill="#1f77b4" fill-opacity="0.78" stroke="#1f77b4" stroke-width="0.1" stroke-opacity="0.5">70</text><text x="238.4" y="666.93" font-size="6.5" fill="#1f77b4" fill-opacity="0.78" stroke="#1f77b4" stroke-width="0.1" stroke-opacity="0.5">30</text><text x="244.51" y="680.66" font-size="6.5" fill="#1f77b4" fill-opacity="0.78" stroke="#1f77b4" stroke-width="0.1" stroke-opacity="0.5">30</text><text x="250.42" y="682.4" font-size="6.5" fill="#1f77b4" fill-opacity="0.78" stroke="#1f77b4" stroke-width="0.1" stroke-opacity="0.5">41</text><text x="256.54" y="688.15" font-size="6.5" fill="#1f77b4" fill-opacity="0.78" stroke="#1f77b4" stroke-width="0.1" stroke-opacity="0.5">30</text><text x="262.65" y="602.77" font-size="6.5" fill="#1f77b4" fill-opacity="0.78" stroke="#1f77b4" stroke-width="0.1" stroke-opacity="0.5">38</text><text x="268.17" y="641.22" font-size="6.5" fill="#1f77b4" fill-opacity="0.78" stroke="#1f77b4" stroke-width="0.1" stroke-opacity="0.5">38</text><text x="274.28" y="697.63" font-size="6.5" fill="#1f77b4" fill-opacity="0.78" stroke="#1f77b4" stroke-width="0.1" stroke-opacity="0.5">4</text><text x="280.2" y="646.21" font-size="6.5" fill="#1f77b4" fill-opacity="0.78" stroke="#1f77b4" stroke-width="0.1" stroke-opacity="0.5">62</text><text x="286.31" y="665.68" font-size="6.5" fill="#1f77b4" fill-opacity="0.78" stroke="#1f77b4" stroke-width="0.1" stroke-opacity="0.5">3</text><text x="292.23" y="648.21" font-size="6.5" fill="#1f77b4" fill-opacity="0.78" stroke="#1f77b4" stroke-width="0.1" stroke-opacity="0.5">3</text><text x="298.34" y="639.47" font-size="6.5" fill="#1f77b4" fill-opacity="0.78" stroke="#1f77b4" stroke-width="0.1" stroke-opacity="0.5">1</text><text x="304.46" y="635.72" font-size="6.5" fill="#1f77b4" fill-opacity="0.78" stroke="#1f77b4" stroke-width="0.1" stroke-opacity="0.5">12</text><text x="310.37" y="666.18" font-size="6.5" fill="#1f77b4" fill-opacity="0.78" stroke="#1f77b4" stroke-width="0.1" stroke-opacity="0.5">12</text><text x="316.48" y="703.62" font-size="6.5" fill="#1f77b4" fill-opacity="0.78" stroke="#1f77b4" stroke-width="0.1" stroke-opacity="0.5">7</text><text x="322.4" y="653.7" font-size="6.5" fill="#1f77b4" fill-opacity="0.78" stroke="#1f77b4" stroke-width="0.1" stroke-opacity="0.5">4</text><polyline points="32.2,692.24 38.31,689.75 44.43,681.01 49.95,676.76 56.06,694.74 61.98,719.7 68.09,697.73 74.01,699.73 80.12,685.5 86.23,682.26 92.15,689.75 98.26,666.03 104.18,699.23 110.29,658.04 116.4,712.96 121.92,724.19 128.04,697.73 133.95,688.5 140.06,694.74 145.98,681.01 152.09,694.74 158.21,700.98 164.12,684.75 170.24,698.98 176.15,705.97 182.26,698.48 188.38,689.75 194.1,721.7 200.21,675.52 206.12,692.74 212.24,684.75 218.15,689.75 224.27,700.98 230.38,650.3 236.3,689.25 242.41,702.23 248.32,713.46 254.44,707.22 260.55,678.51 266.07,667.28 272.18,706.72 278.1,681.76 284.21,697.73 290.13,704.72 296.24,705.97 302.36,699.23 308.27,691.24 314.38,719.2 320.3,685.25" fill="none" stroke="#ff7f0e" stroke-width="1.0" stroke-opacity="0.6" stroke-linejoin="round"/><circle cx="32.2" cy="692.24" r="1.2" fill="#ff7f0e"/><circle cx="38.31" cy="689.75" r="1.2" fill="#ff7f0e"/><circle cx="44.43" cy="681.01" r="1.2" fill="#ff7f0e"/><circle cx="49.95" cy="676.76" r="1.2" fill="#ff7f0e"/><circle cx="56.06" cy="694.74" r="1.2" fill="#ff7f0e"/><circle cx="61.98" cy="719.7" r="1.2" fill="#ff7f0e"/><circle cx="68.09" cy="697.73" r="1.2" fill="#ff7f0e"/><circle cx="74.01" cy="699.73" r="1.2" fill="#ff7f0e"/><circle cx="80.12" cy="685.5" r="1.2" fill="#ff7f0e"/><circle cx="86.23" cy="682.26" r="1.2" fill="#ff7f0e"/><circle cx="92.15" cy="689.75" r="1.2" fill="#ff7f0e"/><circle cx="98.26" cy="666.03" r="1.2" fill="#ff7f0e"/><circle cx="104.18" cy="699.23" r="1.2" fill="#ff7f0e"/><circle cx="110.29" cy="658.04" r="1.2" fill="#ff7f0e"/><circle cx="116.4" cy="712.96" r="1.2" fill="#ff7f0e"/><circle cx="121.92" cy="724.19" r="1.2" fill="#ff7f0e"/><circle cx="128.04" cy="697.73" r="1.2" fill="#ff7f0e"/><circle cx="133.95" cy="688.5" r="1.2" fill="#ff7f0e"/><circle cx="140.06" cy="694.74" r="1.2" fill="#ff7f0e"/><circle cx="145.98" cy="681.01" r="1.2" fill="#ff7f0e"/><circle cx="152.09" cy="694.74" r="1.2" fill="#ff7f0e"/><circle cx="158.21" cy="700.98" r="1.2" fill="#ff7f0e"/><circle cx="164.12" cy="684.75" r="1.2" fill="#ff7f0e"/><circle cx="170.24" cy="698.98" r="1.2" fill="#ff7f0e"/><circle cx="176.15" cy="705.97" r="1.2" fill="#ff7f0e"/><circle cx="182.26" cy="698.48" r="1.2" fill="#ff7f0e"/><circle cx="188.38" cy="689.75" r="1.2" fill="#ff7f0e"/><circle cx="194.1" cy="721.7" r="1.2" fill="#ff7f0e"/><circle cx="200.21" cy="675.52" r="1.2" fill="#ff7f0e"/><circle cx="206.12" cy="692.74" r="1.2" fill="#ff7f0e"/><circle cx="212.24" cy="684.75" r="1.2" fill="#ff7f0e"/><circle cx="218.15" cy="689.75" r="1.2" fill="#ff7f0e"/><circle cx="224.27" cy="700.98" r="1.2" fill="#ff7f0e"/><circle cx="230.38" cy="650.3" r="1.2" fill="#ff7f0e"/><circle cx="236.3" cy="689.25" r="1.2" fill="#ff7f0e"/><circle cx="242.41" cy="702.23" r="1.2" fill="#ff7f0e"/><circle cx="248.32" cy="713.46" r="1.2" fill="#ff7f0e"/><circle cx="254.44" cy="707.22" r="1.2" fill="#ff7f0e"/><circle cx="260.55" cy="678.51" r="1.2" fill="#ff7f0e"/><circle cx="266.07" cy="667.28" r="1.2" fill="#ff7f0e"/><circle cx="272.18" cy="706.72" r="1.2" fill="#ff7f0e"/><circle cx="278.1" cy="681.76" r="1.2" fill="#ff7f0e"/><circle cx="284.21" cy="697.73" r="1.2" fill="#ff7f0e"/><circle cx="290.13" cy="704.72" r="1.2" fill="#ff7f0e"/><circle cx="296.24" cy="705.97" r="1.2" fill="#ff7f0e"/><circle cx="302.36" cy="699.23" r="1.2" fill="#ff7f0e"/><circle cx="308.27" cy="691.24" r="1.2" fill="#ff7f0e"/><circle cx="314.38" cy="719.2" r="1.2" fill="#ff7f0e"/><circle cx="320.3" cy="685.25" r="1.2" fill="#ff7f0e"/><text x="34.3" y="690.64" font-size="6.5" fill="#ff7f0e" fill-opacity="0.78" stroke="#ff7f0e" stroke-width="0.1" stroke-opacity="0.5">4</text><text x="40.41" y="688.15" font-size="6.5" fill="#ff7f0e" fill-opacity="0.78" stroke="#ff7f0e" stroke-width="0.1" stroke-opacity="0.5">20</text><text x="46.53" y="679.41" font-size="6.5" fill="#ff7f0e" fill-opacity="0.78" stroke="#ff7f0e" stroke-width="0.1" stroke-opacity="0.5">56</text><text x="52.05" y="675.16" font-size="6.5" fill="#ff7f0e" fill-opacity="0.78" stroke="#ff7f0e" stroke-width="0.1" stroke-opacity="0.5">20</text><text x="58.16" y="693.14" font-size="6.5" fill="#ff7f0e" fill-opacity="0.78" stroke="#ff7f0e" stroke-width="0.1" stroke-opacity="0.5">17</text><text x="64.08" y="718.1" font-size="6.5" fill="#ff7f0e" fill-opacity="0.78" stroke="#ff7f0e" stroke-width="0.1" stroke-opacity="0.5">55</text><text x="70.19" y="696.13" font-size="6.5" fill="#ff7f0e" fill-opacity="0.78" stroke="#ff7f0e" stroke-width="0.1" stroke-opacity="0.5">34</text><text x="76.11" y="698.13" font-size="6.5" fill="#ff7f0e" fill-opacity="0.78" stroke="#ff7f0e" stroke-width="0.1" stroke-opacity="0.5">24</text><text x="82.22" y="683.9" font-size="6.5" fill="#ff7f0e" fill-opacity="0.78" stroke="#ff7f0e" stroke-width="0.1" stroke-opacity="0.5">24</text><text x="88.33" y="680.66" font-size="6.5" fill="#ff7f0e" fill-opacity="0.78" stroke="#ff7f0e" stroke-width="0.1" stroke-opacity="0.5">37</text><text x="94.25" y="688.15" font-size="6.5" fill="#ff7f0e" fill-opacity="0.78" stroke="#ff7f0e" stroke-width="0.1" stroke-opacity="0.5">35</text><text x="100.36" y="664.43" font-size="6.5" fill="#ff7f0e" fill-opacity="0.78" stroke="#ff7f0e" stroke-width="0.1" stroke-opacity="0.5">9</text><text x="106.28" y="697.63" font-size="6.5" fill="#ff7f0e" fill-opacity="0.78" stroke="#ff7f0e" stroke-width="0.1" stroke-opacity="0.5">4</text><text x="112.39" y="656.44" font-size="6.5" fill="#ff7f0e" fill-opacity="0.78" stroke="#ff7f0e" stroke-width="0.1" stroke-opacity="0.5">59</text><text x="118.5" y="711.36" font-size="6.5" fill="#ff7f0e" fill-opacity="0.78" stroke="#ff7f0e" stroke-width="0.1" stroke-opacity="0.5">4</text><text x="124.02" y="722.59" font-size="6.5" fill="#ff7f0e" fill-opacity="0.78" stroke="#ff7f0e" stroke-width="0.1" stroke-opacity="0.5">31</text><text x="130.14" y="696.13" font-size="6.5" fill="#ff7f0e" fill-opacity="0.78" stroke="#ff7f0e" stroke-width="0.1" stroke-opacity="0.5">4</text><text x="136.05" y="686.9" font-size="6.5" fill="#ff7f0e" fill-opacity="0.78" stroke="#ff7f0e" stroke-width="0.1" stroke-opacity="0.5">32</text><text x="142.16" y="693.14" font-size="6.5" fill="#ff7f0e" fill-opacity="0.78" stroke="#ff7f0e" stroke-width="0.1" stroke-opacity="0.5">62</text><text x="148.08" y="679.41" font-size="6.5" fill="#ff7f0e" fill-opacity="0.78" stroke="#ff7f0e" stroke-width="0.1" stroke-opacity="0.5">31</text><text x="154.19" y="693.14" font-size="6.5" fill="#ff7f0e" fill-opacity="0.78" stroke="#ff7f0e" stroke-width="0.1" stroke-opacity="0.5">15</text><text x="160.31" y="699.38" font-size="6.5" fill="#ff7f0e" fill-opacity="0.78" stroke="#ff7f0e" stroke-width="0.1" stroke-opacity="0.5">17</text><text x="166.22" y="683.15" font-size="6.5" fill="#ff7f0e" fill-opacity="0.78" stroke="#ff7f0e" stroke-width="0.1" stroke-opacity="0.5">31</text><text x="172.34" y="697.38" font-size="6.5" fill="#ff7f0e" fill-opacity="0.78" stroke="#ff7f0e" stroke-width="0.1" stroke-opacity="0.5">41</text><text x="178.25" y="704.37" font-size="6.5" fill="#ff7f0e" fill-opacity="0.78" stroke="#ff7f0e" stroke-width="0.1" stroke-opacity="0.5">2</text><text x="184.36" y="696.88" font-size="6.5" fill="#ff7f0e" fill-opacity="0.78" stroke="#ff7f0e" stroke-width="0.1" stroke-opacity="0.5">31</text><text x="190.48" y="688.15" font-size="6.5" fill="#ff7f0e" fill-opacity="0.78" stroke="#ff7f0e" stroke-width="0.1" stroke-opacity="0.5">29</text><text x="196.2" y="720.1" font-size="6.5" fill="#ff7f0e" fill-opacity="0.78" stroke="#ff7f0e" stroke-width="0.1" stroke-opacity="0.5">38</text><text x="202.31" y="673.92" font-size="6.5" fill="#ff7f0e" fill-opacity="0.78" stroke="#ff7f0e" stroke-width="0.1" stroke-opacity="0.5">30</text><text x="208.22" y="691.14" font-size="6.5" fill="#ff7f0e" fill-opacity="0.78" stroke="#ff7f0e" stroke-width="0.1" stroke-opacity="0.5">69</text><text x="214.34" y="683.15" font-size="6.5" fill="#ff7f0e" fill-opacity="0.78" stroke="#ff7f0e" stroke-width="0.1" stroke-opacity="0.5">2</text><text x="220.25" y="688.15" font-size="6.5" fill="#ff7f0e" fill-opacity="0.78" stroke="#ff7f0e" stroke-width="0.1" stroke-opacity="0.5">62</text><text x="226.37" y="699.38" font-size="6.5" fill="#ff7f0e" fill-opacity="0.78" stroke="#ff7f0e" stroke-width="0.1" stroke-opacity="0.5">81</text><text x="232.48" y="648.7" font-size="6.5" fill="#ff7f0e" fill-opacity="0.78" stroke="#ff7f0e" stroke-width="0.1" stroke-opacity="0.5">70</text><text x="238.4" y="687.65" font-size="6.5" fill="#ff7f0e" fill-opacity="0.78" stroke="#ff7f0e" stroke-width="0.1" stroke-opacity="0.5">29</text><text x="244.51" y="700.63" font-size="6.5" fill="#ff7f0e" fill-opacity="0.78" stroke="#ff7f0e" stroke-width="0.1" stroke-opacity="0.5">62</text><text x="250.42" y="711.86" font-size="6.5" fill="#ff7f0e" fill-opacity="0.78" stroke="#ff7f0e" stroke-width="0.1" stroke-opacity="0.5">7</text><text x="256.54" y="705.62" font-size="6.5" fill="#ff7f0e" fill-opacity="0.78" stroke="#ff7f0e" stroke-width="0.1" stroke-opacity="0.5">4</text><text x="262.65" y="676.91" font-size="6.5" fill="#ff7f0e" fill-opacity="0.78" stroke="#ff7f0e" stroke-width="0.1" stroke-opacity="0.5">7</text><text x="268.17" y="665.68" font-size="6.5" fill="#ff7f0e" fill-opacity="0.78" stroke="#ff7f0e" stroke-width="0.1" stroke-opacity="0.5">4</text><text x="274.28" y="705.12" font-size="6.5" fill="#ff7f0e" fill-opacity="0.78" stroke="#ff7f0e" stroke-width="0.1" stroke-opacity="0.5">61</text><text x="280.2" y="680.16" font-size="6.5" fill="#ff7f0e" fill-opacity="0.78" stroke="#ff7f0e" stroke-width="0.1" stroke-opacity="0.5">45</text><text x="286.31" y="696.13" font-size="6.5" fill="#ff7f0e" fill-opacity="0.78" stroke="#ff7f0e" stroke-width="0.1" stroke-opacity="0.5">48</text><text x="292.23" y="703.12" font-size="6.5" fill="#ff7f0e" fill-opacity="0.78" stroke="#ff7f0e" stroke-width="0.1" stroke-opacity="0.5">17</text><text x="298.34" y="704.37" font-size="6.5" fill="#ff7f0e" fill-opacity="0.78" stroke="#ff7f0e" stroke-width="0.1" stroke-opacity="0.5">1</text><text x="304.46" y="697.63" font-size="6.5" fill="#ff7f0e" fill-opacity="0.78" stroke="#ff7f0e" stroke-width="0.1" stroke-opacity="0.5">9</text><text x="310.37" y="689.64" font-size="6.5" fill="#ff7f0e" fill-opacity="0.78" stroke="#ff7f0e" stroke-width="0.1" stroke-opacity="0.5">27</text><text x="316.48" y="717.6" font-size="6.5" fill="#ff7f0e" fill-opacity="0.78" stroke="#ff7f0e" stroke-width="0.1" stroke-opacity="0.5">44</text><text x="322.4" y="683.65" font-size="6.5" fill="#ff7f0e" fill-opacity="0.78" stroke="#ff7f0e" stroke-width="0.1" stroke-opacity="0.5">30</text><polyline points="32.2,714.71 38.31,712.71 44.43,718.95 49.95,733.43 56.06,704.72 61.98,723.44 68.09,704.72 74.01,702.23 80.12,714.71 86.23,717.2 92.15,707.97 98.26,732.93 104.18,703.47 110.29,729.19 116.4,733.93 121.92,724.69 128.04,700.23 133.95,689.75 140.06,720.45 145.98,722.2 152.09,701.48 158.21,704.22 164.12,719.7 170.24,724.19 176.15,710.96 182.26,707.22 188.38,719.7 194.1,725.44 200.21,729.69 206.12,697.73 212.24,704.72 218.15,735.18 224.27,702.98 230.38,729.69 236.3,725.94 242.41,719.7 248.32,721.7 254.44,712.21 260.55,688.5 266.07,722.2 272.18,713.46 278.1,684.75 284.21,706.72 290.13,707.72 296.24,723.44 302.36,726.19 308.27,713.46 314.38,720.95 320.3,714.71" fill="none" stroke="#2ca02c" stroke-width="1.0" stroke-opacity="0.6" stroke-linejoin="round"/><circle cx="32.2" cy="714.71" r="1.2" fill="#2ca02c"/><circle cx="38.31" cy="712.71" r="1.2" fill="#2ca02c"/><circle cx="44.43" cy="718.95" r="1.2" fill="#2ca02c"/><circle cx="49.95" cy="733.43" r="1.2" fill="#2ca02c"/><circle cx="56.06" cy="704.72" r="1.2" fill="#2ca02c"/><circle cx="61.98" cy="723.44" r="1.2" fill="#2ca02c"/><circle cx="68.09" cy="704.72" r="1.2" fill="#2ca02c"/><circle cx="74.01" cy="702.23" r="1.2" fill="#2ca02c"/><circle cx="80.12" cy="714.71" r="1.2" fill="#2ca02c"/><circle cx="86.23" cy="717.2" r="1.2" fill="#2ca02c"/><circle cx="92.15" cy="707.97" r="1.2" fill="#2ca02c"/><circle cx="98.26" cy="732.93" r="1.2" fill="#2ca02c"/><circle cx="104.18" cy="703.47" r="1.2" fill="#2ca02c"/><circle cx="110.29" cy="729.19" r="1.2" fill="#2ca02c"/><circle cx="116.4" cy="733.93" r="1.2" fill="#2ca02c"/><circle cx="121.92" cy="724.69" r="1.2" fill="#2ca02c"/><circle cx="128.04" cy="700.23" r="1.2" fill="#2ca02c"/><circle cx="133.95" cy="689.75" r="1.2" fill="#2ca02c"/><circle cx="140.06" cy="720.45" r="1.2" fill="#2ca02c"/><circle cx="145.98" cy="722.2" r="1.2" fill="#2ca02c"/><circle cx="152.09" cy="701.48" r="1.2" fill="#2ca02c"/><circle cx="158.21" cy="704.22" r="1.2" fill="#2ca02c"/><circle cx="164.12" cy="719.7" r="1.2" fill="#2ca02c"/><circle cx="170.24" cy="724.19" r="1.2" fill="#2ca02c"/><circle cx="176.15" cy="710.96" r="1.2" fill="#2ca02c"/><circle cx="182.26" cy="707.22" r="1.2" fill="#2ca02c"/><circle cx="188.38" cy="719.7" r="1.2" fill="#2ca02c"/><circle cx="194.1" cy="725.44" r="1.2" fill="#2ca02c"/><circle cx="200.21" cy="729.69" r="1.2" fill="#2ca02c"/><circle cx="206.12" cy="697.73" r="1.2" fill="#2ca02c"/><circle cx="212.24" cy="704.72" r="1.2" fill="#2ca02c"/><circle cx="218.15" cy="735.18" r="1.2" fill="#2ca02c"/><circle cx="224.27" cy="702.98" r="1.2" fill="#2ca02c"/><circle cx="230.38" cy="729.69" r="1.2" fill="#2ca02c"/><circle cx="236.3" cy="725.94" r="1.2" fill="#2ca02c"/><circle cx="242.41" cy="719.7" r="1.2" fill="#2ca02c"/><circle cx="248.32" cy="721.7" r="1.2" fill="#2ca02c"/><circle cx="254.44" cy="712.21" r="1.2" fill="#2ca02c"/><circle cx="260.55" cy="688.5" r="1.2" fill="#2ca02c"/><circle cx="266.07" cy="722.2" r="1.2" fill="#2ca02c"/><circle cx="272.18" cy="713.46" r="1.2" fill="#2ca02c"/><circle cx="278.1" cy="684.75" r="1.2" fill="#2ca02c"/><circle cx="284.21" cy="706.72" r="1.2" fill="#2ca02c"/><circle cx="290.13" cy="707.72" r="1.2" fill="#2ca02c"/><circle cx="296.24" cy="723.44" r="1.2" fill="#2ca02c"/><circle cx="302.36" cy="726.19" r="1.2" fill="#2ca02c"/><circle cx="308.27" cy="713.46" r="1.2" fill="#2ca02c"/><circle cx="314.38" cy="720.95" r="1.2" fill="#2ca02c"/><circle cx="320.3" cy="714.71" r="1.2" fill="#2ca02c"/><text x="34.3" y="713.11" font-size="6.5" fill="#2ca02c" fill-opacity="0.78" stroke="#2ca02c" stroke-width="0.1" stroke-opacity="0.5">20</text><text x="40.41" y="711.11" font-size="6.5" fill="#2ca02c" fill-opacity="0.78" stroke="#2ca02c" stroke-width="0.1" stroke-opacity="0.5">4</text><text x="46.53" y="717.35" font-size="6.5" fill="#2ca02c" fill-opacity="0.78" stroke="#2ca02c" stroke-width="0.1" stroke-opacity="0.5">32</text><text x="52.05" y="731.83" font-size="6.5" fill="#2ca02c" fill-opacity="0.78" stroke="#2ca02c" stroke-width="0.1" stroke-opacity="0.5">11</text><text x="58.16" y="703.12" font-size="6.5" fill="#2ca02c" fill-opacity="0.78" stroke="#2ca02c" stroke-width="0.1" stroke-opacity="0.5">41</text><text x="64.08" y="721.84" font-size="6.5" fill="#2ca02c" fill-opacity="0.78" stroke="#2ca02c" stroke-width="0.1" stroke-opacity="0.5">34</text><text x="70.19" y="703.12" font-size="6.5" fill="#2ca02c" fill-opacity="0.78" stroke="#2ca02c" stroke-width="0.1" stroke-opacity="0.5">2</text><text x="76.11" y="700.63" font-size="6.5" fill="#2ca02c" fill-opacity="0.78" stroke="#2ca02c" stroke-width="0.1" stroke-opacity="0.5">24</text><text x="82.22" y="713.11" font-size="6.5" fill="#2ca02c" fill-opacity="0.78" stroke="#2ca02c" stroke-width="0.1" stroke-opacity="0.5">35</text><text x="88.33" y="715.6" font-size="6.5" fill="#2ca02c" fill-opacity="0.78" stroke="#2ca02c" stroke-width="0.1" stroke-opacity="0.5">58</text><text x="94.25" y="706.37" font-size="6.5" fill="#2ca02c" fill-opacity="0.78" stroke="#2ca02c" stroke-width="0.1" stroke-opacity="0.5">31</text><text x="100.36" y="731.33" font-size="6.5" fill="#2ca02c" fill-opacity="0.78" stroke="#2ca02c" stroke-width="0.1" stroke-opacity="0.5">35</text><text x="106.28" y="701.87" font-size="6.5" fill="#2ca02c" fill-opacity="0.78" stroke="#2ca02c" stroke-width="0.1" stroke-opacity="0.5">40</text><text x="112.39" y="727.59" font-size="6.5" fill="#2ca02c" fill-opacity="0.78" stroke="#2ca02c" stroke-width="0.1" stroke-opacity="0.5">35</text><text x="118.5" y="732.33" font-size="6.5" fill="#2ca02c" fill-opacity="0.78" stroke="#2ca02c" stroke-width="0.1" stroke-opacity="0.5">35</text><text x="124.02" y="723.09" font-size="6.5" fill="#2ca02c" fill-opacity="0.78" stroke="#2ca02c" stroke-width="0.1" stroke-opacity="0.5">31</text><text x="130.14" y="698.63" font-size="6.5" fill="#2ca02c" fill-opacity="0.78" stroke="#2ca02c" stroke-width="0.1" stroke-opacity="0.5">31</text><text x="136.05" y="688.15" font-size="6.5" fill="#2ca02c" fill-opacity="0.78" stroke="#2ca02c" stroke-width="0.1" stroke-opacity="0.5">32</text><text x="142.16" y="718.85" font-size="6.5" fill="#2ca02c" fill-opacity="0.78" stroke="#2ca02c" stroke-width="0.1" stroke-opacity="0.5">3</text><text x="148.08" y="720.6" font-size="6.5" fill="#2ca02c" fill-opacity="0.78" stroke="#2ca02c" stroke-width="0.1" stroke-opacity="0.5">62</text><text x="154.19" y="699.88" font-size="6.5" fill="#2ca02c" fill-opacity="0.78" stroke="#2ca02c" stroke-width="0.1" stroke-opacity="0.5">31</text><text x="160.31" y="702.62" font-size="6.5" fill="#2ca02c" fill-opacity="0.78" stroke="#2ca02c" stroke-width="0.1" stroke-opacity="0.5">12</text><text x="166.22" y="718.1" font-size="6.5" fill="#2ca02c" fill-opacity="0.78" stroke="#2ca02c" stroke-width="0.1" stroke-opacity="0.5">8</text><text x="172.34" y="722.59" font-size="6.5" fill="#2ca02c" fill-opacity="0.78" stroke="#2ca02c" stroke-width="0.1" stroke-opacity="0.5">59</text><text x="178.25" y="709.36" font-size="6.5" fill="#2ca02c" fill-opacity="0.78" stroke="#2ca02c" stroke-width="0.1" stroke-opacity="0.5">56</text><text x="184.36" y="705.62" font-size="6.5" fill="#2ca02c" fill-opacity="0.78" stroke="#2ca02c" stroke-width="0.1" stroke-opacity="0.5">8</text><text x="190.48" y="718.1" font-size="6.5" fill="#2ca02c" fill-opacity="0.78" stroke="#2ca02c" stroke-width="0.1" stroke-opacity="0.5">38</text><text x="196.2" y="723.84" font-size="6.5" fill="#2ca02c" fill-opacity="0.78" stroke="#2ca02c" stroke-width="0.1" stroke-opacity="0.5">30</text><text x="202.31" y="728.09" font-size="6.5" fill="#2ca02c" fill-opacity="0.78" stroke="#2ca02c" stroke-width="0.1" stroke-opacity="0.5">4</text><text x="208.22" y="696.13" font-size="6.5" fill="#2ca02c" fill-opacity="0.78" stroke="#2ca02c" stroke-width="0.1" stroke-opacity="0.5">44</text><text x="214.34" y="703.12" font-size="6.5" fill="#2ca02c" fill-opacity="0.78" stroke="#2ca02c" stroke-width="0.1" stroke-opacity="0.5">62</text><text x="220.25" y="733.58" font-size="6.5" fill="#2ca02c" fill-opacity="0.78" stroke="#2ca02c" stroke-width="0.1" stroke-opacity="0.5">3</text><text x="226.37" y="701.38" font-size="6.5" fill="#2ca02c" fill-opacity="0.78" stroke="#2ca02c" stroke-width="0.1" stroke-opacity="0.5">8</text><text x="232.48" y="728.09" font-size="6.5" fill="#2ca02c" fill-opacity="0.78" stroke="#2ca02c" stroke-width="0.1" stroke-opacity="0.5">11</text><text x="238.4" y="724.34" font-size="6.5" fill="#2ca02c" fill-opacity="0.78" stroke="#2ca02c" stroke-width="0.1" stroke-opacity="0.5">2</text><text x="244.51" y="718.1" font-size="6.5" fill="#2ca02c" fill-opacity="0.78" stroke="#2ca02c" stroke-width="0.1" stroke-opacity="0.5">6</text><text x="250.42" y="720.1" font-size="6.5" fill="#2ca02c" fill-opacity="0.78" stroke="#2ca02c" stroke-width="0.1" stroke-opacity="0.5">58</text><text x="256.54" y="710.61" font-size="6.5" fill="#2ca02c" fill-opacity="0.78" stroke="#2ca02c" stroke-width="0.1" stroke-opacity="0.5">4</text><text x="262.65" y="686.9" font-size="6.5" fill="#2ca02c" fill-opacity="0.78" stroke="#2ca02c" stroke-width="0.1" stroke-opacity="0.5">4</text><text x="268.17" y="720.6" font-size="6.5" fill="#2ca02c" fill-opacity="0.78" stroke="#2ca02c" stroke-width="0.1" stroke-opacity="0.5">7</text><text x="274.28" y="711.86" font-size="6.5" fill="#2ca02c" fill-opacity="0.78" stroke="#2ca02c" stroke-width="0.1" stroke-opacity="0.5">62</text><text x="280.2" y="683.15" font-size="6.5" fill="#2ca02c" fill-opacity="0.78" stroke="#2ca02c" stroke-width="0.1" stroke-opacity="0.5">3</text><text x="286.31" y="705.12" font-size="6.5" fill="#2ca02c" fill-opacity="0.78" stroke="#2ca02c" stroke-width="0.1" stroke-opacity="0.5">3</text><text x="292.23" y="706.12" font-size="6.5" fill="#2ca02c" fill-opacity="0.78" stroke="#2ca02c" stroke-width="0.1" stroke-opacity="0.5">17</text><text x="298.34" y="721.84" font-size="6.5" fill="#2ca02c" fill-opacity="0.78" stroke="#2ca02c" stroke-width="0.1" stroke-opacity="0.5">35</text><text x="304.46" y="724.59" font-size="6.5" fill="#2ca02c" fill-opacity="0.78" stroke="#2ca02c" stroke-width="0.1" stroke-opacity="0.5">35</text><text x="310.37" y="711.86" font-size="6.5" fill="#2ca02c" fill-opacity="0.78" stroke="#2ca02c" stroke-width="0.1" stroke-opacity="0.5">35</text><text x="316.48" y="719.35" font-size="6.5" fill="#2ca02c" fill-opacity="0.78" stroke="#2ca02c" stroke-width="0.1" stroke-opacity="0.5">44</text><text x="322.4" y="713.11" font-size="6.5" fill="#2ca02c" fill-opacity="0.78" stroke="#2ca02c" stroke-width="0.1" stroke-opacity="0.5">25</text><rect x="24.4" y="531.8" width="101.6" height="28.8" rx="1.2" fill="#fff" fill-opacity="0.8" stroke="#e2e2e2" stroke-width="0.7"/><line x1="26.4" y1="536.8" x2="39.2" y2="536.8" stroke="#1f77b4" stroke-width="1" stroke-opacity="0.6"/><circle cx="32.8" cy="536.8" r="1.35" fill="#1f77b4"/><text x="44.5" y="539.3" font-size="6.5" fill="#1a1a1a" class="t" textLength="78.6" lengthAdjust="spacing">Top 1 Feature Importance</text><line x1="26.4" y1="545.85" x2="39.2" y2="545.85" stroke="#ff7f0e" stroke-width="1" stroke-opacity="0.6"/><circle cx="32.8" cy="545.85" r="1.35" fill="#ff7f0e"/><text x="44.5" y="548.35" font-size="6.5" fill="#1a1a1a" class="t" textLength="78.6" lengthAdjust="spacing">Top 2 Feature Importance</text><line x1="26.4" y1="554.9" x2="39.2" y2="554.9" stroke="#2ca02c" stroke-width="1" stroke-opacity="0.6"/><circle cx="32.8" cy="554.9" r="1.35" fill="#2ca02c"/><text x="44.5" y="557.4" font-size="6.5" fill="#1a1a1a" class="t" textLength="78.6" lengthAdjust="spacing">Top 3 Feature Importance</text><text class="cap" x="121.9" y="785.4" font-size="15.6" fill="#111" stroke="#111" stroke-width="0.2" textLength="61.3" lengthAdjust="spacingAndGlyphs">(e) City 5</text></g>
<g><line x1="365.5" y1="527.5" x2="365.5" y2="745.2" stroke="#c8c8c8" stroke-width="1"/><line x1="682.7" y1="527.5" x2="682.7" y2="745.2" stroke="#d6d6d6" stroke-width="1"/><line x1="365.5" y1="745.2" x2="682.7" y2="745.2" stroke="#e6e6e6" stroke-width="1"/><line x1="365" y1="527.5" x2="683.2" y2="527.5" stroke="#bababa" stroke-width="1"/><line x1="363.7" y1="559.2" x2="365.5" y2="559.2" stroke="#b0b0b0" stroke-width="0.7"/><text x="362.5" y="561.25" font-size="5.7" fill="#1a1a1a" text-anchor="end" class="t" textLength="8.6" lengthAdjust="spacing">0.4</text><line x1="363.7" y1="606.6" x2="365.5" y2="606.6" stroke="#b0b0b0" stroke-width="0.7"/><text x="362.5" y="608.65" font-size="5.7" fill="#1a1a1a" text-anchor="end" class="t" textLength="8.6" lengthAdjust="spacing">0.3</text><line x1="363.7" y1="654" x2="365.5" y2="654" stroke="#b0b0b0" stroke-width="0.7"/><text x="362.5" y="656.05" font-size="5.7" fill="#1a1a1a" text-anchor="end" class="t" textLength="8.6" lengthAdjust="spacing">0.2</text><line x1="363.7" y1="701.5" x2="365.5" y2="701.5" stroke="#b0b0b0" stroke-width="0.7"/><text x="362.5" y="703.55" font-size="5.7" fill="#1a1a1a" text-anchor="end" class="t" textLength="8.6" lengthAdjust="spacing">0.1</text><line x1="386" y1="745.2" x2="386" y2="747" stroke="#b0b0b0" stroke-width="0.7"/><text x="386" y="751.3" font-size="5.7" fill="#1a1a1a" text-anchor="middle" class="t" textLength="21.9" lengthAdjust="spacing">2018-01</text><line x1="421.6" y1="745.2" x2="421.6" y2="747" stroke="#b0b0b0" stroke-width="0.7"/><text x="421.6" y="751.3" font-size="5.7" fill="#1a1a1a" text-anchor="middle" class="t" textLength="21.9" lengthAdjust="spacing">2018-07</text><line x1="457.8" y1="745.2" x2="457.8" y2="747" stroke="#b0b0b0" stroke-width="0.7"/><text x="457.8" y="751.3" font-size="5.7" fill="#1a1a1a" text-anchor="middle" class="t" textLength="21.9" lengthAdjust="spacing">2019-01</text><line x1="493.4" y1="745.2" x2="493.4" y2="747" stroke="#b0b0b0" stroke-width="0.7"/><text x="493.4" y="751.3" font-size="5.7" fill="#1a1a1a" text-anchor="middle" class="t" textLength="21.9" lengthAdjust="spacing">2019-07</text><line x1="529.6" y1="745.2" x2="529.6" y2="747" stroke="#b0b0b0" stroke-width="0.7"/><text x="529.6" y="751.3" font-size="5.7" fill="#1a1a1a" text-anchor="middle" class="t" textLength="21.9" lengthAdjust="spacing">2020-01</text><line x1="565.4" y1="745.2" x2="565.4" y2="747" stroke="#b0b0b0" stroke-width="0.7"/><text x="565.4" y="751.3" font-size="5.7" fill="#1a1a1a" text-anchor="middle" class="t" textLength="21.9" lengthAdjust="spacing">2020-07</text><line x1="601.6" y1="745.2" x2="601.6" y2="747" stroke="#b0b0b0" stroke-width="0.7"/><text x="601.6" y="751.3" font-size="5.7" fill="#1a1a1a" text-anchor="middle" class="t" textLength="21.9" lengthAdjust="spacing">2021-01</text><line x1="637.2" y1="745.2" x2="637.2" y2="747" stroke="#b0b0b0" stroke-width="0.7"/><text x="637.2" y="751.3" font-size="5.7" fill="#1a1a1a" text-anchor="middle" class="t" textLength="21.9" lengthAdjust="spacing">2021-07</text><line x1="673.4" y1="745.2" x2="673.4" y2="747" stroke="#b0b0b0" stroke-width="0.7"/><text x="673.4" y="751.3" font-size="5.7" fill="#1a1a1a" text-anchor="middle" class="t" textLength="21.9" lengthAdjust="spacing">2022-01</text><text x="524.1" y="758.3" font-size="6.0" fill="#1a1a1a" text-anchor="middle" class="t" textLength="14" lengthAdjust="spacingAndGlyphs">Date</text><text transform="translate(352.2 637.35) rotate(-90)" x="0" y="0" font-size="6.0" fill="#1a1a1a" class="t" text-anchor="middle" textLength="35" lengthAdjust="spacingAndGlyphs">Importance</text><polyline points="379.9,606.62 386,636.08 392.1,578.66 397.6,599.38 403.7,626.84 409.6,622.35 415.7,632.33 421.6,669.78 427.7,634.83 433.8,666.03 439.7,652.3 445.8,643.56 451.7,607.87 457.8,630.58 463.9,616.11 469.41,601.38 475.5,606.87 481.4,598.63 487.5,584.4 493.4,618.6 499.5,652.3 505.6,631.83 511.5,576.17 517.6,606.87 523.5,689 529.6,621.1 535.7,632.33 541.4,614.11 547.5,536.97 553.4,563.68 559.5,580.66 565.4,592.89 571.5,625.34 577.6,675.27 583.5,671.52 589.6,610.61 595.5,627.84 601.6,610.61 607.7,650.55 613.2,641.57 619.3,646.56 625.2,647.81 631.3,601.13 637.2,630.33 643.3,550.45 649.4,557.94 655.3,648.06 661.4,636.82 667.3,621.6" fill="none" stroke="#1f77b4" stroke-width="1.0" stroke-opacity="0.6" stroke-linejoin="round"/><circle cx="379.9" cy="606.62" r="1.2" fill="#1f77b4"/><circle cx="386" cy="636.08" r="1.2" fill="#1f77b4"/><circle cx="392.1" cy="578.66" r="1.2" fill="#1f77b4"/><circle cx="397.6" cy="599.38" r="1.2" fill="#1f77b4"/><circle cx="403.7" cy="626.84" r="1.2" fill="#1f77b4"/><circle cx="409.6" cy="622.35" r="1.2" fill="#1f77b4"/><circle cx="415.7" cy="632.33" r="1.2" fill="#1f77b4"/><circle cx="421.6" cy="669.78" r="1.2" fill="#1f77b4"/><circle cx="427.7" cy="634.83" r="1.2" fill="#1f77b4"/><circle cx="433.8" cy="666.03" r="1.2" fill="#1f77b4"/><circle cx="439.7" cy="652.3" r="1.2" fill="#1f77b4"/><circle cx="445.8" cy="643.56" r="1.2" fill="#1f77b4"/><circle cx="451.7" cy="607.87" r="1.2" fill="#1f77b4"/><circle cx="457.8" cy="630.58" r="1.2" fill="#1f77b4"/><circle cx="463.9" cy="616.11" r="1.2" fill="#1f77b4"/><circle cx="469.41" cy="601.38" r="1.2" fill="#1f77b4"/><circle cx="475.5" cy="606.87" r="1.2" fill="#1f77b4"/><circle cx="481.4" cy="598.63" r="1.2" fill="#1f77b4"/><circle cx="487.5" cy="584.4" r="1.2" fill="#1f77b4"/><circle cx="493.4" cy="618.6" r="1.2" fill="#1f77b4"/><circle cx="499.5" cy="652.3" r="1.2" fill="#1f77b4"/><circle cx="505.6" cy="631.83" r="1.2" fill="#1f77b4"/><circle cx="511.5" cy="576.17" r="1.2" fill="#1f77b4"/><circle cx="517.6" cy="606.87" r="1.2" fill="#1f77b4"/><circle cx="523.5" cy="689" r="1.2" fill="#1f77b4"/><circle cx="529.6" cy="621.1" r="1.2" fill="#1f77b4"/><circle cx="535.7" cy="632.33" r="1.2" fill="#1f77b4"/><circle cx="541.4" cy="614.11" r="1.2" fill="#1f77b4"/><circle cx="547.5" cy="536.97" r="1.2" fill="#1f77b4"/><circle cx="553.4" cy="563.68" r="1.2" fill="#1f77b4"/><circle cx="559.5" cy="580.66" r="1.2" fill="#1f77b4"/><circle cx="565.4" cy="592.89" r="1.2" fill="#1f77b4"/><circle cx="571.5" cy="625.34" r="1.2" fill="#1f77b4"/><circle cx="577.6" cy="675.27" r="1.2" fill="#1f77b4"/><circle cx="583.5" cy="671.52" r="1.2" fill="#1f77b4"/><circle cx="589.6" cy="610.61" r="1.2" fill="#1f77b4"/><circle cx="595.5" cy="627.84" r="1.2" fill="#1f77b4"/><circle cx="601.6" cy="610.61" r="1.2" fill="#1f77b4"/><circle cx="607.7" cy="650.55" r="1.2" fill="#1f77b4"/><circle cx="613.2" cy="641.57" r="1.2" fill="#1f77b4"/><circle cx="619.3" cy="646.56" r="1.2" fill="#1f77b4"/><circle cx="625.2" cy="647.81" r="1.2" fill="#1f77b4"/><circle cx="631.3" cy="601.13" r="1.2" fill="#1f77b4"/><circle cx="637.2" cy="630.33" r="1.2" fill="#1f77b4"/><circle cx="643.3" cy="550.45" r="1.2" fill="#1f77b4"/><circle cx="649.4" cy="557.94" r="1.2" fill="#1f77b4"/><circle cx="655.3" cy="648.06" r="1.2" fill="#1f77b4"/><circle cx="661.4" cy="636.82" r="1.2" fill="#1f77b4"/><circle cx="667.3" cy="621.6" r="1.2" fill="#1f77b4"/><text x="382" y="605.02" font-size="6.5" fill="#1f77b4" fill-opacity="0.78" stroke="#1f77b4" stroke-width="0.1" stroke-opacity="0.5">65</text><text x="388.1" y="634.48" font-size="6.5" fill="#1f77b4" fill-opacity="0.78" stroke="#1f77b4" stroke-width="0.1" stroke-opacity="0.5">27</text><text x="394.2" y="577.06" font-size="6.5" fill="#1f77b4" fill-opacity="0.78" stroke="#1f77b4" stroke-width="0.1" stroke-opacity="0.5">23</text><text x="399.7" y="597.78" font-size="6.5" fill="#1f77b4" fill-opacity="0.78" stroke="#1f77b4" stroke-width="0.1" stroke-opacity="0.5">27</text><text x="405.8" y="625.24" font-size="6.5" fill="#1f77b4" fill-opacity="0.78" stroke="#1f77b4" stroke-width="0.1" stroke-opacity="0.5">45</text><text x="411.7" y="620.75" font-size="6.5" fill="#1f77b4" fill-opacity="0.78" stroke="#1f77b4" stroke-width="0.1" stroke-opacity="0.5">45</text><text x="417.8" y="630.73" font-size="6.5" fill="#1f77b4" fill-opacity="0.78" stroke="#1f77b4" stroke-width="0.1" stroke-opacity="0.5">45</text><text x="423.7" y="668.18" font-size="6.5" fill="#1f77b4" fill-opacity="0.78" stroke="#1f77b4" stroke-width="0.1" stroke-opacity="0.5">56</text><text x="429.8" y="633.23" font-size="6.5" fill="#1f77b4" fill-opacity="0.78" stroke="#1f77b4" stroke-width="0.1" stroke-opacity="0.5">30</text><text x="435.9" y="664.43" font-size="6.5" fill="#1f77b4" fill-opacity="0.78" stroke="#1f77b4" stroke-width="0.1" stroke-opacity="0.5">4</text><text x="441.8" y="650.7" font-size="6.5" fill="#1f77b4" fill-opacity="0.78" stroke="#1f77b4" stroke-width="0.1" stroke-opacity="0.5">30</text><text x="447.9" y="641.96" font-size="6.5" fill="#1f77b4" fill-opacity="0.78" stroke="#1f77b4" stroke-width="0.1" stroke-opacity="0.5">10</text><text x="453.8" y="606.27" font-size="6.5" fill="#1f77b4" fill-opacity="0.78" stroke="#1f77b4" stroke-width="0.1" stroke-opacity="0.5">9</text><text x="459.9" y="628.98" font-size="6.5" fill="#1f77b4" fill-opacity="0.78" stroke="#1f77b4" stroke-width="0.1" stroke-opacity="0.5">9</text><text x="466" y="614.51" font-size="6.5" fill="#1f77b4" fill-opacity="0.78" stroke="#1f77b4" stroke-width="0.1" stroke-opacity="0.5">9</text><text x="471.51" y="599.78" font-size="6.5" fill="#1f77b4" fill-opacity="0.78" stroke="#1f77b4" stroke-width="0.1" stroke-opacity="0.5">59</text><text x="477.6" y="605.27" font-size="6.5" fill="#1f77b4" fill-opacity="0.78" stroke="#1f77b4" stroke-width="0.1" stroke-opacity="0.5">59</text><text x="483.5" y="597.03" font-size="6.5" fill="#1f77b4" fill-opacity="0.78" stroke="#1f77b4" stroke-width="0.1" stroke-opacity="0.5">7</text><text x="489.6" y="582.8" font-size="6.5" fill="#1f77b4" fill-opacity="0.78" stroke="#1f77b4" stroke-width="0.1" stroke-opacity="0.5">51</text><text x="495.5" y="617" font-size="6.5" fill="#1f77b4" fill-opacity="0.78" stroke="#1f77b4" stroke-width="0.1" stroke-opacity="0.5">51</text><text x="501.6" y="650.7" font-size="6.5" fill="#1f77b4" fill-opacity="0.78" stroke="#1f77b4" stroke-width="0.1" stroke-opacity="0.5">12</text><text x="507.7" y="630.23" font-size="6.5" fill="#1f77b4" fill-opacity="0.78" stroke="#1f77b4" stroke-width="0.1" stroke-opacity="0.5">12</text><text x="513.6" y="574.57" font-size="6.5" fill="#1f77b4" fill-opacity="0.78" stroke="#1f77b4" stroke-width="0.1" stroke-opacity="0.5">1</text><text x="519.7" y="605.27" font-size="6.5" fill="#1f77b4" fill-opacity="0.78" stroke="#1f77b4" stroke-width="0.1" stroke-opacity="0.5">17</text><text x="525.6" y="687.4" font-size="6.5" fill="#1f77b4" fill-opacity="0.78" stroke="#1f77b4" stroke-width="0.1" stroke-opacity="0.5">17</text><text x="531.7" y="619.5" font-size="6.5" fill="#1f77b4" fill-opacity="0.78" stroke="#1f77b4" stroke-width="0.1" stroke-opacity="0.5">59</text><text x="537.8" y="630.73" font-size="6.5" fill="#1f77b4" fill-opacity="0.78" stroke="#1f77b4" stroke-width="0.1" stroke-opacity="0.5">4</text><text x="543.5" y="612.51" font-size="6.5" fill="#1f77b4" fill-opacity="0.78" stroke="#1f77b4" stroke-width="0.1" stroke-opacity="0.5">17</text><text x="549.6" y="535.37" font-size="6.5" fill="#1f77b4" fill-opacity="0.78" stroke="#1f77b4" stroke-width="0.1" stroke-opacity="0.5">27</text><text x="555.5" y="562.08" font-size="6.5" fill="#1f77b4" fill-opacity="0.78" stroke="#1f77b4" stroke-width="0.1" stroke-opacity="0.5">54</text><text x="561.6" y="579.06" font-size="6.5" fill="#1f77b4" fill-opacity="0.78" stroke="#1f77b4" stroke-width="0.1" stroke-opacity="0.5">54</text><text x="567.5" y="591.29" font-size="6.5" fill="#1f77b4" fill-opacity="0.78" stroke="#1f77b4" stroke-width="0.1" stroke-opacity="0.5">54</text><text x="573.6" y="623.74" font-size="6.5" fill="#1f77b4" fill-opacity="0.78" stroke="#1f77b4" stroke-width="0.1" stroke-opacity="0.5">54</text><text x="579.7" y="673.67" font-size="6.5" fill="#1f77b4" fill-opacity="0.78" stroke="#1f77b4" stroke-width="0.1" stroke-opacity="0.5">19</text><text x="585.6" y="669.92" font-size="6.5" fill="#1f77b4" fill-opacity="0.78" stroke="#1f77b4" stroke-width="0.1" stroke-opacity="0.5">18</text><text x="591.7" y="609.01" font-size="6.5" fill="#1f77b4" fill-opacity="0.78" stroke="#1f77b4" stroke-width="0.1" stroke-opacity="0.5">63</text><text x="597.6" y="626.24" font-size="6.5" fill="#1f77b4" fill-opacity="0.78" stroke="#1f77b4" stroke-width="0.1" stroke-opacity="0.5">63</text><text x="603.7" y="609.01" font-size="6.5" fill="#1f77b4" fill-opacity="0.78" stroke="#1f77b4" stroke-width="0.1" stroke-opacity="0.5">53</text><text x="609.8" y="648.95" font-size="6.5" fill="#1f77b4" fill-opacity="0.78" stroke="#1f77b4" stroke-width="0.1" stroke-opacity="0.5">53</text><text x="615.3" y="639.97" font-size="6.5" fill="#1f77b4" fill-opacity="0.78" stroke="#1f77b4" stroke-width="0.1" stroke-opacity="0.5">53</text><text x="621.4" y="644.96" font-size="6.5" fill="#1f77b4" fill-opacity="0.78" stroke="#1f77b4" stroke-width="0.1" stroke-opacity="0.5">5</text><text x="627.3" y="646.21" font-size="6.5" fill="#1f77b4" fill-opacity="0.78" stroke="#1f77b4" stroke-width="0.1" stroke-opacity="0.5">6</text><text x="633.4" y="599.53" font-size="6.5" fill="#1f77b4" fill-opacity="0.78" stroke="#1f77b4" stroke-width="0.1" stroke-opacity="0.5">16</text><text x="639.3" y="628.73" font-size="6.5" fill="#1f77b4" fill-opacity="0.78" stroke="#1f77b4" stroke-width="0.1" stroke-opacity="0.5">16</text><text x="645.4" y="548.85" font-size="6.5" fill="#1f77b4" fill-opacity="0.78" stroke="#1f77b4" stroke-width="0.1" stroke-opacity="0.5">51</text><text x="651.5" y="556.34" font-size="6.5" fill="#1f77b4" fill-opacity="0.78" stroke="#1f77b4" stroke-width="0.1" stroke-opacity="0.5">51</text><text x="657.4" y="646.46" font-size="6.5" fill="#1f77b4" fill-opacity="0.78" stroke="#1f77b4" stroke-width="0.1" stroke-opacity="0.5">39</text><text x="663.5" y="635.22" font-size="6.5" fill="#1f77b4" fill-opacity="0.78" stroke="#1f77b4" stroke-width="0.1" stroke-opacity="0.5">15</text><text x="669.4" y="620" font-size="6.5" fill="#1f77b4" fill-opacity="0.78" stroke="#1f77b4" stroke-width="0.1" stroke-opacity="0.5">45</text><polyline points="379.9,696.73 386,644.31 392.1,652.8 397.6,661.79 403.7,654.8 409.6,642.32 415.7,644.81 421.6,677.26 427.7,664.78 433.8,672.27 439.7,691.74 445.8,686 451.7,677.76 457.8,657.79 463.9,679.76 469.41,650.55 475.5,658.04 481.4,664.78 487.5,648.06 493.4,650.3 499.5,685.5 505.6,633.58 511.5,705.97 517.6,667.28 523.5,694.74 529.6,656.79 535.7,673.52 541.4,661.04 547.5,712.71 553.4,642.32 559.5,663.53 565.4,668.53 571.5,673.52 577.6,679.76 583.5,688 589.6,695.99 595.5,676.02 601.6,704.72 607.7,692.24 613.2,661.54 619.3,699.23 625.2,659.79 631.3,639.07 637.2,635.33 643.3,714.71 649.4,679.01 655.3,653.55 661.4,679.26 667.3,678.01" fill="none" stroke="#ff7f0e" stroke-width="1.0" stroke-opacity="0.6" stroke-linejoin="round"/><circle cx="379.9" cy="696.73" r="1.2" fill="#ff7f0e"/><circle cx="386" cy="644.31" r="1.2" fill="#ff7f0e"/><circle cx="392.1" cy="652.8" r="1.2" fill="#ff7f0e"/><circle cx="397.6" cy="661.79" r="1.2" fill="#ff7f0e"/><circle cx="403.7" cy="654.8" r="1.2" fill="#ff7f0e"/><circle cx="409.6" cy="642.32" r="1.2" fill="#ff7f0e"/><circle cx="415.7" cy="644.81" r="1.2" fill="#ff7f0e"/><circle cx="421.6" cy="677.26" r="1.2" fill="#ff7f0e"/><circle cx="427.7" cy="664.78" r="1.2" fill="#ff7f0e"/><circle cx="433.8" cy="672.27" r="1.2" fill="#ff7f0e"/><circle cx="439.7" cy="691.74" r="1.2" fill="#ff7f0e"/><circle cx="445.8" cy="686" r="1.2" fill="#ff7f0e"/><circle cx="451.7" cy="677.76" r="1.2" fill="#ff7f0e"/><circle cx="457.8" cy="657.79" r="1.2" fill="#ff7f0e"/><circle cx="463.9" cy="679.76" r="1.2" fill="#ff7f0e"/><circle cx="469.41" cy="650.55" r="1.2" fill="#ff7f0e"/><circle cx="475.5" cy="658.04" r="1.2" fill="#ff7f0e"/><circle cx="481.4" cy="664.78" r="1.2" fill="#ff7f0e"/><circle cx="487.5" cy="648.06" r="1.2" fill="#ff7f0e"/><circle cx="493.4" cy="650.3" r="1.2" fill="#ff7f0e"/><circle cx="499.5" cy="685.5" r="1.2" fill="#ff7f0e"/><circle cx="505.6" cy="633.58" r="1.2" fill="#ff7f0e"/><circle cx="511.5" cy="705.97" r="1.2" fill="#ff7f0e"/><circle cx="517.6" cy="667.28" r="1.2" fill="#ff7f0e"/><circle cx="523.5" cy="694.74" r="1.2" fill="#ff7f0e"/><circle cx="529.6" cy="656.79" r="1.2" fill="#ff7f0e"/><circle cx="535.7" cy="673.52" r="1.2" fill="#ff7f0e"/><circle cx="541.4" cy="661.04" r="1.2" fill="#ff7f0e"/><circle cx="547.5" cy="712.71" r="1.2" fill="#ff7f0e"/><circle cx="553.4" cy="642.32" r="1.2" fill="#ff7f0e"/><circle cx="559.5" cy="663.53" r="1.2" fill="#ff7f0e"/><circle cx="565.4" cy="668.53" r="1.2" fill="#ff7f0e"/><circle cx="571.5" cy="673.52" r="1.2" fill="#ff7f0e"/><circle cx="577.6" cy="679.76" r="1.2" fill="#ff7f0e"/><circle cx="583.5" cy="688" r="1.2" fill="#ff7f0e"/><circle cx="589.6" cy="695.99" r="1.2" fill="#ff7f0e"/><circle cx="595.5" cy="676.02" r="1.2" fill="#ff7f0e"/><circle cx="601.6" cy="704.72" r="1.2" fill="#ff7f0e"/><circle cx="607.7" cy="692.24" r="1.2" fill="#ff7f0e"/><circle cx="613.2" cy="661.54" r="1.2" fill="#ff7f0e"/><circle cx="619.3" cy="699.23" r="1.2" fill="#ff7f0e"/><circle cx="625.2" cy="659.79" r="1.2" fill="#ff7f0e"/><circle cx="631.3" cy="639.07" r="1.2" fill="#ff7f0e"/><circle cx="637.2" cy="635.33" r="1.2" fill="#ff7f0e"/><circle cx="643.3" cy="714.71" r="1.2" fill="#ff7f0e"/><circle cx="649.4" cy="679.01" r="1.2" fill="#ff7f0e"/><circle cx="655.3" cy="653.55" r="1.2" fill="#ff7f0e"/><circle cx="661.4" cy="679.26" r="1.2" fill="#ff7f0e"/><circle cx="667.3" cy="678.01" r="1.2" fill="#ff7f0e"/><text x="382" y="695.13" font-size="6.5" fill="#ff7f0e" fill-opacity="0.78" stroke="#ff7f0e" stroke-width="0.1" stroke-opacity="0.5">4</text><text x="388.1" y="642.71" font-size="6.5" fill="#ff7f0e" fill-opacity="0.78" stroke="#ff7f0e" stroke-width="0.1" stroke-opacity="0.5">23</text><text x="394.2" y="651.2" font-size="6.5" fill="#ff7f0e" fill-opacity="0.78" stroke="#ff7f0e" stroke-width="0.1" stroke-opacity="0.5">27</text><text x="399.7" y="660.19" font-size="6.5" fill="#ff7f0e" fill-opacity="0.78" stroke="#ff7f0e" stroke-width="0.1" stroke-opacity="0.5">19</text><text x="405.8" y="653.2" font-size="6.5" fill="#ff7f0e" fill-opacity="0.78" stroke="#ff7f0e" stroke-width="0.1" stroke-opacity="0.5">47</text><text x="411.7" y="640.72" font-size="6.5" fill="#ff7f0e" fill-opacity="0.78" stroke="#ff7f0e" stroke-width="0.1" stroke-opacity="0.5">60</text><text x="417.8" y="643.21" font-size="6.5" fill="#ff7f0e" fill-opacity="0.78" stroke="#ff7f0e" stroke-width="0.1" stroke-opacity="0.5">60</text><text x="423.7" y="675.66" font-size="6.5" fill="#ff7f0e" fill-opacity="0.78" stroke="#ff7f0e" stroke-width="0.1" stroke-opacity="0.5">29</text><text x="429.8" y="663.18" font-size="6.5" fill="#ff7f0e" fill-opacity="0.78" stroke="#ff7f0e" stroke-width="0.1" stroke-opacity="0.5">56</text><text x="435.9" y="670.67" font-size="6.5" fill="#ff7f0e" fill-opacity="0.78" stroke="#ff7f0e" stroke-width="0.1" stroke-opacity="0.5">56</text><text x="441.8" y="690.14" font-size="6.5" fill="#ff7f0e" fill-opacity="0.78" stroke="#ff7f0e" stroke-width="0.1" stroke-opacity="0.5">4</text><text x="447.9" y="684.4" font-size="6.5" fill="#ff7f0e" fill-opacity="0.78" stroke="#ff7f0e" stroke-width="0.1" stroke-opacity="0.5">30</text><text x="453.8" y="676.16" font-size="6.5" fill="#ff7f0e" fill-opacity="0.78" stroke="#ff7f0e" stroke-width="0.1" stroke-opacity="0.5">62</text><text x="459.9" y="656.19" font-size="6.5" fill="#ff7f0e" fill-opacity="0.78" stroke="#ff7f0e" stroke-width="0.1" stroke-opacity="0.5">59</text><text x="466" y="678.16" font-size="6.5" fill="#ff7f0e" fill-opacity="0.78" stroke="#ff7f0e" stroke-width="0.1" stroke-opacity="0.5">59</text><text x="471.51" y="648.95" font-size="6.5" fill="#ff7f0e" fill-opacity="0.78" stroke="#ff7f0e" stroke-width="0.1" stroke-opacity="0.5">9</text><text x="477.6" y="656.44" font-size="6.5" fill="#ff7f0e" fill-opacity="0.78" stroke="#ff7f0e" stroke-width="0.1" stroke-opacity="0.5">9</text><text x="483.5" y="663.18" font-size="6.5" fill="#ff7f0e" fill-opacity="0.78" stroke="#ff7f0e" stroke-width="0.1" stroke-opacity="0.5">34</text><text x="489.6" y="646.46" font-size="6.5" fill="#ff7f0e" fill-opacity="0.78" stroke="#ff7f0e" stroke-width="0.1" stroke-opacity="0.5">7</text><text x="495.5" y="648.7" font-size="6.5" fill="#ff7f0e" fill-opacity="0.78" stroke="#ff7f0e" stroke-width="0.1" stroke-opacity="0.5">7</text><text x="501.6" y="683.9" font-size="6.5" fill="#ff7f0e" fill-opacity="0.78" stroke="#ff7f0e" stroke-width="0.1" stroke-opacity="0.5">54</text><text x="507.7" y="631.98" font-size="6.5" fill="#ff7f0e" fill-opacity="0.78" stroke="#ff7f0e" stroke-width="0.1" stroke-opacity="0.5">54</text><text x="513.6" y="704.37" font-size="6.5" fill="#ff7f0e" fill-opacity="0.78" stroke="#ff7f0e" stroke-width="0.1" stroke-opacity="0.5">27</text><text x="519.7" y="665.68" font-size="6.5" fill="#ff7f0e" fill-opacity="0.78" stroke="#ff7f0e" stroke-width="0.1" stroke-opacity="0.5">12</text><text x="525.6" y="693.14" font-size="6.5" fill="#ff7f0e" fill-opacity="0.78" stroke="#ff7f0e" stroke-width="0.1" stroke-opacity="0.5">27</text><text x="531.7" y="655.19" font-size="6.5" fill="#ff7f0e" fill-opacity="0.78" stroke="#ff7f0e" stroke-width="0.1" stroke-opacity="0.5">4</text><text x="537.8" y="671.92" font-size="6.5" fill="#ff7f0e" fill-opacity="0.78" stroke="#ff7f0e" stroke-width="0.1" stroke-opacity="0.5">15</text><text x="543.5" y="659.44" font-size="6.5" fill="#ff7f0e" fill-opacity="0.78" stroke="#ff7f0e" stroke-width="0.1" stroke-opacity="0.5">4</text><text x="549.6" y="711.11" font-size="6.5" fill="#ff7f0e" fill-opacity="0.78" stroke="#ff7f0e" stroke-width="0.1" stroke-opacity="0.5">17</text><text x="555.5" y="640.72" font-size="6.5" fill="#ff7f0e" fill-opacity="0.78" stroke="#ff7f0e" stroke-width="0.1" stroke-opacity="0.5">7</text><text x="561.6" y="661.93" font-size="6.5" fill="#ff7f0e" fill-opacity="0.78" stroke="#ff7f0e" stroke-width="0.1" stroke-opacity="0.5">7</text><text x="567.5" y="666.93" font-size="6.5" fill="#ff7f0e" fill-opacity="0.78" stroke="#ff7f0e" stroke-width="0.1" stroke-opacity="0.5">19</text><text x="573.6" y="671.92" font-size="6.5" fill="#ff7f0e" fill-opacity="0.78" stroke="#ff7f0e" stroke-width="0.1" stroke-opacity="0.5">19</text><text x="579.7" y="678.16" font-size="6.5" fill="#ff7f0e" fill-opacity="0.78" stroke="#ff7f0e" stroke-width="0.1" stroke-opacity="0.5">26</text><text x="585.6" y="686.4" font-size="6.5" fill="#ff7f0e" fill-opacity="0.78" stroke="#ff7f0e" stroke-width="0.1" stroke-opacity="0.5">15</text><text x="591.7" y="694.39" font-size="6.5" fill="#ff7f0e" fill-opacity="0.78" stroke="#ff7f0e" stroke-width="0.1" stroke-opacity="0.5">15</text><text x="597.6" y="674.42" font-size="6.5" fill="#ff7f0e" fill-opacity="0.78" stroke="#ff7f0e" stroke-width="0.1" stroke-opacity="0.5">15</text><text x="603.7" y="703.12" font-size="6.5" fill="#ff7f0e" fill-opacity="0.78" stroke="#ff7f0e" stroke-width="0.1" stroke-opacity="0.5">15</text><text x="609.8" y="690.64" font-size="6.5" fill="#ff7f0e" fill-opacity="0.78" stroke="#ff7f0e" stroke-width="0.1" stroke-opacity="0.5">3</text><text x="615.3" y="659.94" font-size="6.5" fill="#ff7f0e" fill-opacity="0.78" stroke="#ff7f0e" stroke-width="0.1" stroke-opacity="0.5">38</text><text x="621.4" y="697.63" font-size="6.5" fill="#ff7f0e" fill-opacity="0.78" stroke="#ff7f0e" stroke-width="0.1" stroke-opacity="0.5">6</text><text x="627.3" y="658.19" font-size="6.5" fill="#ff7f0e" fill-opacity="0.78" stroke="#ff7f0e" stroke-width="0.1" stroke-opacity="0.5">11</text><text x="633.4" y="637.47" font-size="6.5" fill="#ff7f0e" fill-opacity="0.78" stroke="#ff7f0e" stroke-width="0.1" stroke-opacity="0.5">8</text><text x="639.3" y="633.73" font-size="6.5" fill="#ff7f0e" fill-opacity="0.78" stroke="#ff7f0e" stroke-width="0.1" stroke-opacity="0.5">8</text><text x="645.4" y="713.11" font-size="6.5" fill="#ff7f0e" fill-opacity="0.78" stroke="#ff7f0e" stroke-width="0.1" stroke-opacity="0.5">25</text><text x="651.5" y="677.41" font-size="6.5" fill="#ff7f0e" fill-opacity="0.78" stroke="#ff7f0e" stroke-width="0.1" stroke-opacity="0.5">24</text><text x="657.4" y="651.95" font-size="6.5" fill="#ff7f0e" fill-opacity="0.78" stroke="#ff7f0e" stroke-width="0.1" stroke-opacity="0.5">49</text><text x="663.5" y="677.66" font-size="6.5" fill="#ff7f0e" fill-opacity="0.78" stroke="#ff7f0e" stroke-width="0.1" stroke-opacity="0.5">30</text><text x="669.4" y="676.41" font-size="6.5" fill="#ff7f0e" fill-opacity="0.78" stroke="#ff7f0e" stroke-width="0.1" stroke-opacity="0.5">8</text><polyline points="379.9,714.71 386,690.99 392.1,712.96 397.6,707.72 403.7,720.45 409.6,686 415.7,690.99 421.6,704.72 427.7,718.95 433.8,674.02 439.7,712.71 445.8,717.7 451.7,686 457.8,716.46 463.9,695.99 469.41,717.7 475.5,720.95 481.4,711.71 487.5,733.93 493.4,722.2 499.5,703.47 505.6,718.45 511.5,714.71 517.6,725.94 523.5,696.73 529.6,699.23 535.7,694.74 541.4,707.22 547.5,722.7 553.4,735.18 559.5,726.69 565.4,719.7 571.5,715.96 577.6,686.75 583.5,713.96 589.6,717.95 595.5,713.46 601.6,705.97 607.7,689.75 613.2,715.96 619.3,707.22 625.2,702.98 631.3,707.72 637.2,712.96 643.3,717.95 649.4,712.21 655.3,666.03 661.4,683.5 667.3,712.21" fill="none" stroke="#2ca02c" stroke-width="1.0" stroke-opacity="0.6" stroke-linejoin="round"/><circle cx="379.9" cy="714.71" r="1.2" fill="#2ca02c"/><circle cx="386" cy="690.99" r="1.2" fill="#2ca02c"/><circle cx="392.1" cy="712.96" r="1.2" fill="#2ca02c"/><circle cx="397.6" cy="707.72" r="1.2" fill="#2ca02c"/><circle cx="403.7" cy="720.45" r="1.2" fill="#2ca02c"/><circle cx="409.6" cy="686" r="1.2" fill="#2ca02c"/><circle cx="415.7" cy="690.99" r="1.2" fill="#2ca02c"/><circle cx="421.6" cy="704.72" r="1.2" fill="#2ca02c"/><circle cx="427.7" cy="718.95" r="1.2" fill="#2ca02c"/><circle cx="433.8" cy="674.02" r="1.2" fill="#2ca02c"/><circle cx="439.7" cy="712.71" r="1.2" fill="#2ca02c"/><circle cx="445.8" cy="717.7" r="1.2" fill="#2ca02c"/><circle cx="451.7" cy="686" r="1.2" fill="#2ca02c"/><circle cx="457.8" cy="716.46" r="1.2" fill="#2ca02c"/><circle cx="463.9" cy="695.99" r="1.2" fill="#2ca02c"/><circle cx="469.41" cy="717.7" r="1.2" fill="#2ca02c"/><circle cx="475.5" cy="720.95" r="1.2" fill="#2ca02c"/><circle cx="481.4" cy="711.71" r="1.2" fill="#2ca02c"/><circle cx="487.5" cy="733.93" r="1.2" fill="#2ca02c"/><circle cx="493.4" cy="722.2" r="1.2" fill="#2ca02c"/><circle cx="499.5" cy="703.47" r="1.2" fill="#2ca02c"/><circle cx="505.6" cy="718.45" r="1.2" fill="#2ca02c"/><circle cx="511.5" cy="714.71" r="1.2" fill="#2ca02c"/><circle cx="517.6" cy="725.94" r="1.2" fill="#2ca02c"/><circle cx="523.5" cy="696.73" r="1.2" fill="#2ca02c"/><circle cx="529.6" cy="699.23" r="1.2" fill="#2ca02c"/><circle cx="535.7" cy="694.74" r="1.2" fill="#2ca02c"/><circle cx="541.4" cy="707.22" r="1.2" fill="#2ca02c"/><circle cx="547.5" cy="722.7" r="1.2" fill="#2ca02c"/><circle cx="553.4" cy="735.18" r="1.2" fill="#2ca02c"/><circle cx="559.5" cy="726.69" r="1.2" fill="#2ca02c"/><circle cx="565.4" cy="719.7" r="1.2" fill="#2ca02c"/><circle cx="571.5" cy="715.96" r="1.2" fill="#2ca02c"/><circle cx="577.6" cy="686.75" r="1.2" fill="#2ca02c"/><circle cx="583.5" cy="713.96" r="1.2" fill="#2ca02c"/><circle cx="589.6" cy="717.95" r="1.2" fill="#2ca02c"/><circle cx="595.5" cy="713.46" r="1.2" fill="#2ca02c"/><circle cx="601.6" cy="705.97" r="1.2" fill="#2ca02c"/><circle cx="607.7" cy="689.75" r="1.2" fill="#2ca02c"/><circle cx="613.2" cy="715.96" r="1.2" fill="#2ca02c"/><circle cx="619.3" cy="707.22" r="1.2" fill="#2ca02c"/><circle cx="625.2" cy="702.98" r="1.2" fill="#2ca02c"/><circle cx="631.3" cy="707.72" r="1.2" fill="#2ca02c"/><circle cx="637.2" cy="712.96" r="1.2" fill="#2ca02c"/><circle cx="643.3" cy="717.95" r="1.2" fill="#2ca02c"/><circle cx="649.4" cy="712.21" r="1.2" fill="#2ca02c"/><circle cx="655.3" cy="666.03" r="1.2" fill="#2ca02c"/><circle cx="661.4" cy="683.5" r="1.2" fill="#2ca02c"/><circle cx="667.3" cy="712.21" r="1.2" fill="#2ca02c"/><text x="382" y="713.11" font-size="6.5" fill="#2ca02c" fill-opacity="0.78" stroke="#2ca02c" stroke-width="0.1" stroke-opacity="0.5">27</text><text x="388.1" y="689.39" font-size="6.5" fill="#2ca02c" fill-opacity="0.78" stroke="#2ca02c" stroke-width="0.1" stroke-opacity="0.5">44</text><text x="394.2" y="711.36" font-size="6.5" fill="#2ca02c" fill-opacity="0.78" stroke="#2ca02c" stroke-width="0.1" stroke-opacity="0.5">4</text><text x="399.7" y="706.12" font-size="6.5" fill="#2ca02c" fill-opacity="0.78" stroke="#2ca02c" stroke-width="0.1" stroke-opacity="0.5">15</text><text x="405.8" y="718.85" font-size="6.5" fill="#2ca02c" fill-opacity="0.78" stroke="#2ca02c" stroke-width="0.1" stroke-opacity="0.5">50</text><text x="411.7" y="684.4" font-size="6.5" fill="#2ca02c" fill-opacity="0.78" stroke="#2ca02c" stroke-width="0.1" stroke-opacity="0.5">50</text><text x="417.8" y="689.39" font-size="6.5" fill="#2ca02c" fill-opacity="0.78" stroke="#2ca02c" stroke-width="0.1" stroke-opacity="0.5">50</text><text x="423.7" y="703.12" font-size="6.5" fill="#2ca02c" fill-opacity="0.78" stroke="#2ca02c" stroke-width="0.1" stroke-opacity="0.5">6</text><text x="429.8" y="717.35" font-size="6.5" fill="#2ca02c" fill-opacity="0.78" stroke="#2ca02c" stroke-width="0.1" stroke-opacity="0.5">58</text><text x="435.9" y="672.42" font-size="6.5" fill="#2ca02c" fill-opacity="0.78" stroke="#2ca02c" stroke-width="0.1" stroke-opacity="0.5">36</text><text x="441.8" y="711.11" font-size="6.5" fill="#2ca02c" fill-opacity="0.78" stroke="#2ca02c" stroke-width="0.1" stroke-opacity="0.5">24</text><text x="447.9" y="716.1" font-size="6.5" fill="#2ca02c" fill-opacity="0.78" stroke="#2ca02c" stroke-width="0.1" stroke-opacity="0.5">23</text><text x="453.8" y="684.4" font-size="6.5" fill="#2ca02c" fill-opacity="0.78" stroke="#2ca02c" stroke-width="0.1" stroke-opacity="0.5">59</text><text x="459.9" y="714.86" font-size="6.5" fill="#2ca02c" fill-opacity="0.78" stroke="#2ca02c" stroke-width="0.1" stroke-opacity="0.5">27</text><text x="466" y="694.39" font-size="6.5" fill="#2ca02c" fill-opacity="0.78" stroke="#2ca02c" stroke-width="0.1" stroke-opacity="0.5">1</text><text x="471.51" y="716.1" font-size="6.5" fill="#2ca02c" fill-opacity="0.78" stroke="#2ca02c" stroke-width="0.1" stroke-opacity="0.5">27</text><text x="477.6" y="719.35" font-size="6.5" fill="#2ca02c" fill-opacity="0.78" stroke="#2ca02c" stroke-width="0.1" stroke-opacity="0.5">7</text><text x="483.5" y="710.11" font-size="6.5" fill="#2ca02c" fill-opacity="0.78" stroke="#2ca02c" stroke-width="0.1" stroke-opacity="0.5">51</text><text x="489.6" y="732.33" font-size="6.5" fill="#2ca02c" fill-opacity="0.78" stroke="#2ca02c" stroke-width="0.1" stroke-opacity="0.5">21</text><text x="495.5" y="720.6" font-size="6.5" fill="#2ca02c" fill-opacity="0.78" stroke="#2ca02c" stroke-width="0.1" stroke-opacity="0.5">12</text><text x="501.6" y="701.87" font-size="6.5" fill="#2ca02c" fill-opacity="0.78" stroke="#2ca02c" stroke-width="0.1" stroke-opacity="0.5">19</text><text x="507.7" y="716.85" font-size="6.5" fill="#2ca02c" fill-opacity="0.78" stroke="#2ca02c" stroke-width="0.1" stroke-opacity="0.5">20</text><text x="513.6" y="713.11" font-size="6.5" fill="#2ca02c" fill-opacity="0.78" stroke="#2ca02c" stroke-width="0.1" stroke-opacity="0.5">47</text><text x="519.7" y="724.34" font-size="6.5" fill="#2ca02c" fill-opacity="0.78" stroke="#2ca02c" stroke-width="0.1" stroke-opacity="0.5">46</text><text x="525.6" y="695.13" font-size="6.5" fill="#2ca02c" fill-opacity="0.78" stroke="#2ca02c" stroke-width="0.1" stroke-opacity="0.5">27</text><text x="531.7" y="697.63" font-size="6.5" fill="#2ca02c" fill-opacity="0.78" stroke="#2ca02c" stroke-width="0.1" stroke-opacity="0.5">2</text><text x="537.8" y="693.14" font-size="6.5" fill="#2ca02c" fill-opacity="0.78" stroke="#2ca02c" stroke-width="0.1" stroke-opacity="0.5">27</text><text x="543.5" y="705.62" font-size="6.5" fill="#2ca02c" fill-opacity="0.78" stroke="#2ca02c" stroke-width="0.1" stroke-opacity="0.5">27</text><text x="549.6" y="721.1" font-size="6.5" fill="#2ca02c" fill-opacity="0.78" stroke="#2ca02c" stroke-width="0.1" stroke-opacity="0.5">54</text><text x="555.5" y="733.58" font-size="6.5" fill="#2ca02c" fill-opacity="0.78" stroke="#2ca02c" stroke-width="0.1" stroke-opacity="0.5">17</text><text x="561.6" y="725.09" font-size="6.5" fill="#2ca02c" fill-opacity="0.78" stroke="#2ca02c" stroke-width="0.1" stroke-opacity="0.5">4</text><text x="567.5" y="718.1" font-size="6.5" fill="#2ca02c" fill-opacity="0.78" stroke="#2ca02c" stroke-width="0.1" stroke-opacity="0.5">7</text><text x="573.6" y="714.36" font-size="6.5" fill="#2ca02c" fill-opacity="0.78" stroke="#2ca02c" stroke-width="0.1" stroke-opacity="0.5">18</text><text x="579.7" y="685.15" font-size="6.5" fill="#2ca02c" fill-opacity="0.78" stroke="#2ca02c" stroke-width="0.1" stroke-opacity="0.5">15</text><text x="585.6" y="712.36" font-size="6.5" fill="#2ca02c" fill-opacity="0.78" stroke="#2ca02c" stroke-width="0.1" stroke-opacity="0.5">45</text><text x="591.7" y="716.35" font-size="6.5" fill="#2ca02c" fill-opacity="0.78" stroke="#2ca02c" stroke-width="0.1" stroke-opacity="0.5">12</text><text x="597.6" y="711.86" font-size="6.5" fill="#2ca02c" fill-opacity="0.78" stroke="#2ca02c" stroke-width="0.1" stroke-opacity="0.5">53</text><text x="603.7" y="704.37" font-size="6.5" fill="#2ca02c" fill-opacity="0.78" stroke="#2ca02c" stroke-width="0.1" stroke-opacity="0.5">15</text><text x="609.8" y="688.15" font-size="6.5" fill="#2ca02c" fill-opacity="0.78" stroke="#2ca02c" stroke-width="0.1" stroke-opacity="0.5">34</text><text x="615.3" y="714.36" font-size="6.5" fill="#2ca02c" fill-opacity="0.78" stroke="#2ca02c" stroke-width="0.1" stroke-opacity="0.5">61</text><text x="621.4" y="705.62" font-size="6.5" fill="#2ca02c" fill-opacity="0.78" stroke="#2ca02c" stroke-width="0.1" stroke-opacity="0.5">8</text><text x="627.3" y="701.38" font-size="6.5" fill="#2ca02c" fill-opacity="0.78" stroke="#2ca02c" stroke-width="0.1" stroke-opacity="0.5">8</text><text x="633.4" y="706.12" font-size="6.5" fill="#2ca02c" fill-opacity="0.78" stroke="#2ca02c" stroke-width="0.1" stroke-opacity="0.5">11</text><text x="639.3" y="711.36" font-size="6.5" fill="#2ca02c" fill-opacity="0.78" stroke="#2ca02c" stroke-width="0.1" stroke-opacity="0.5">25</text><text x="645.4" y="716.35" font-size="6.5" fill="#2ca02c" fill-opacity="0.78" stroke="#2ca02c" stroke-width="0.1" stroke-opacity="0.5">1</text><text x="651.5" y="710.61" font-size="6.5" fill="#2ca02c" fill-opacity="0.78" stroke="#2ca02c" stroke-width="0.1" stroke-opacity="0.5">6</text><text x="657.4" y="664.43" font-size="6.5" fill="#2ca02c" fill-opacity="0.78" stroke="#2ca02c" stroke-width="0.1" stroke-opacity="0.5">15</text><text x="663.5" y="681.9" font-size="6.5" fill="#2ca02c" fill-opacity="0.78" stroke="#2ca02c" stroke-width="0.1" stroke-opacity="0.5">49</text><text x="669.4" y="710.61" font-size="6.5" fill="#2ca02c" fill-opacity="0.78" stroke="#2ca02c" stroke-width="0.1" stroke-opacity="0.5">4</text><rect x="371.7" y="531.8" width="101.6" height="28.8" rx="1.2" fill="#fff" fill-opacity="0.8" stroke="#e2e2e2" stroke-width="0.7"/><line x1="373.7" y1="536.8" x2="386.5" y2="536.8" stroke="#1f77b4" stroke-width="1" stroke-opacity="0.6"/><circle cx="380.1" cy="536.8" r="1.35" fill="#1f77b4"/><text x="391.8" y="539.3" font-size="6.5" fill="#1a1a1a" class="t" textLength="78.6" lengthAdjust="spacing">Top 1 Feature Importance</text><line x1="373.7" y1="545.85" x2="386.5" y2="545.85" stroke="#ff7f0e" stroke-width="1" stroke-opacity="0.6"/><circle cx="380.1" cy="545.85" r="1.35" fill="#ff7f0e"/><text x="391.8" y="548.35" font-size="6.5" fill="#1a1a1a" class="t" textLength="78.6" lengthAdjust="spacing">Top 2 Feature Importance</text><line x1="373.7" y1="554.9" x2="386.5" y2="554.9" stroke="#2ca02c" stroke-width="1" stroke-opacity="0.6"/><circle cx="380.1" cy="554.9" r="1.35" fill="#2ca02c"/><text x="391.8" y="557.4" font-size="6.5" fill="#1a1a1a" class="t" textLength="78.6" lengthAdjust="spacing">Top 3 Feature Importance</text><text class="cap" x="486.2" y="785.4" font-size="15.6" fill="#111" stroke="#111" stroke-width="0.2" textLength="62.5" lengthAdjust="spacingAndGlyphs">(f) City 6</text></g>
<g><line x1="21.7" y1="791.2" x2="21.7" y2="1009" stroke="#e8e8e8" stroke-width="1"/><line x1="334.5" y1="791.2" x2="334.5" y2="1009" stroke="#d6d6d6" stroke-width="1"/><line x1="21.7" y1="1009" x2="334.5" y2="1009" stroke="#e6e6e6" stroke-width="1"/><line x1="21.2" y1="791.2" x2="335" y2="791.2" stroke="#bababa" stroke-width="1"/><line x1="19.9" y1="803" x2="21.7" y2="803" stroke="#b0b0b0" stroke-width="0.7"/><text x="18.7" y="805.05" font-size="5.7" fill="#1a1a1a" text-anchor="end" class="t" textLength="11.9" lengthAdjust="spacing">0.35</text><line x1="19.9" y1="834.7" x2="21.7" y2="834.7" stroke="#b0b0b0" stroke-width="0.7"/><text x="18.7" y="836.75" font-size="5.7" fill="#1a1a1a" text-anchor="end" class="t" textLength="11.9" lengthAdjust="spacing">0.30</text><line x1="19.9" y1="866.6" x2="21.7" y2="866.6" stroke="#b0b0b0" stroke-width="0.7"/><text x="18.7" y="868.65" font-size="5.7" fill="#1a1a1a" text-anchor="end" class="t" textLength="11.9" lengthAdjust="spacing">0.25</text><line x1="19.9" y1="898.3" x2="21.7" y2="898.3" stroke="#b0b0b0" stroke-width="0.7"/><text x="18.7" y="900.35" font-size="5.7" fill="#1a1a1a" text-anchor="end" class="t" textLength="11.9" lengthAdjust="spacing">0.20</text><line x1="19.9" y1="930" x2="21.7" y2="930" stroke="#b0b0b0" stroke-width="0.7"/><text x="18.7" y="932.05" font-size="5.7" fill="#1a1a1a" text-anchor="end" class="t" textLength="11.9" lengthAdjust="spacing">0.15</text><line x1="19.9" y1="962" x2="21.7" y2="962" stroke="#b0b0b0" stroke-width="0.7"/><text x="18.7" y="964.05" font-size="5.7" fill="#1a1a1a" text-anchor="end" class="t" textLength="11.9" lengthAdjust="spacing">0.10</text><line x1="19.9" y1="993.7" x2="21.7" y2="993.7" stroke="#b0b0b0" stroke-width="0.7"/><text x="18.7" y="995.75" font-size="5.7" fill="#1a1a1a" text-anchor="end" class="t" textLength="11.9" lengthAdjust="spacing">0.05</text><line x1="41.78" y1="1009" x2="41.78" y2="1010.8" stroke="#b0b0b0" stroke-width="0.7"/><text x="41.78" y="1015.1" font-size="5.7" fill="#1a1a1a" text-anchor="middle" class="t" textLength="21.9" lengthAdjust="spacing">2018-01</text><line x1="77" y1="1009" x2="77" y2="1010.8" stroke="#b0b0b0" stroke-width="0.7"/><text x="77" y="1015.1" font-size="5.7" fill="#1a1a1a" text-anchor="middle" class="t" textLength="21.9" lengthAdjust="spacing">2018-07</text><line x1="112.8" y1="1009" x2="112.8" y2="1010.8" stroke="#b0b0b0" stroke-width="0.7"/><text x="112.8" y="1015.1" font-size="5.7" fill="#1a1a1a" text-anchor="middle" class="t" textLength="21.9" lengthAdjust="spacing">2019-01</text><line x1="148.01" y1="1009" x2="148.01" y2="1010.8" stroke="#b0b0b0" stroke-width="0.7"/><text x="148.01" y="1015.1" font-size="5.7" fill="#1a1a1a" text-anchor="middle" class="t" textLength="21.9" lengthAdjust="spacing">2019-07</text><line x1="183.81" y1="1009" x2="183.81" y2="1010.8" stroke="#b0b0b0" stroke-width="0.7"/><text x="183.81" y="1015.1" font-size="5.7" fill="#1a1a1a" text-anchor="middle" class="t" textLength="21.9" lengthAdjust="spacing">2020-01</text><line x1="219.22" y1="1009" x2="219.22" y2="1010.8" stroke="#b0b0b0" stroke-width="0.7"/><text x="219.22" y="1015.1" font-size="5.7" fill="#1a1a1a" text-anchor="middle" class="t" textLength="21.9" lengthAdjust="spacing">2020-07</text><line x1="255.02" y1="1009" x2="255.02" y2="1010.8" stroke="#b0b0b0" stroke-width="0.7"/><text x="255.02" y="1015.1" font-size="5.7" fill="#1a1a1a" text-anchor="middle" class="t" textLength="21.9" lengthAdjust="spacing">2021-01</text><line x1="290.23" y1="1009" x2="290.23" y2="1010.8" stroke="#b0b0b0" stroke-width="0.7"/><text x="290.23" y="1015.1" font-size="5.7" fill="#1a1a1a" text-anchor="middle" class="t" textLength="21.9" lengthAdjust="spacing">2021-07</text><line x1="326.03" y1="1009" x2="326.03" y2="1010.8" stroke="#b0b0b0" stroke-width="0.7"/><text x="326.03" y="1015.1" font-size="5.7" fill="#1a1a1a" text-anchor="middle" class="t" textLength="21.9" lengthAdjust="spacing">2022-01</text><text x="178.1" y="1022.1" font-size="6.0" fill="#1a1a1a" text-anchor="middle" class="t" textLength="14" lengthAdjust="spacingAndGlyphs">Date</text><text transform="translate(5 901.1) rotate(-90)" x="0" y="0" font-size="6.0" fill="#1a1a1a" class="t" text-anchor="middle" textLength="35" lengthAdjust="spacingAndGlyphs">Importance</text><polyline points="35.75,885.35 41.78,903.32 47.81,899.83 53.26,874.37 59.29,871.12 65.13,880.86 71.16,957.24 77,882.6 83.03,899.08 89.06,840.42 94.9,862.38 100.93,888.84 106.76,906.82 112.8,923.79 118.83,851.9 124.27,854.9 130.31,867.88 136.14,852.9 142.17,878.61 148.01,934.78 154.04,900.33 160.07,856.14 165.91,882.35 171.94,921.79 177.78,939.77 183.81,902.32 189.84,844.91 195.48,899.83 201.51,869.37 207.35,801.23 213.38,870.62 219.22,879.11 225.25,900.58 231.28,879.36 237.12,898.58 243.15,938.02 248.99,929.28 255.02,840.92 261.05,868.62 266.5,882.85 272.53,914.81 278.36,815.7 284.4,888.59 290.23,869.37 296.26,881.11 302.3,829.93 308.13,853.65 314.16,896.83 320,941.02" fill="none" stroke="#1f77b4" stroke-width="1.0" stroke-opacity="0.6" stroke-linejoin="round"/><circle cx="35.75" cy="885.35" r="1.2" fill="#1f77b4"/><circle cx="41.78" cy="903.32" r="1.2" fill="#1f77b4"/><circle cx="47.81" cy="899.83" r="1.2" fill="#1f77b4"/><circle cx="53.26" cy="874.37" r="1.2" fill="#1f77b4"/><circle cx="59.29" cy="871.12" r="1.2" fill="#1f77b4"/><circle cx="65.13" cy="880.86" r="1.2" fill="#1f77b4"/><circle cx="71.16" cy="957.24" r="1.2" fill="#1f77b4"/><circle cx="77" cy="882.6" r="1.2" fill="#1f77b4"/><circle cx="83.03" cy="899.08" r="1.2" fill="#1f77b4"/><circle cx="89.06" cy="840.42" r="1.2" fill="#1f77b4"/><circle cx="94.9" cy="862.38" r="1.2" fill="#1f77b4"/><circle cx="100.93" cy="888.84" r="1.2" fill="#1f77b4"/><circle cx="106.76" cy="906.82" r="1.2" fill="#1f77b4"/><circle cx="112.8" cy="923.79" r="1.2" fill="#1f77b4"/><circle cx="118.83" cy="851.9" r="1.2" fill="#1f77b4"/><circle cx="124.27" cy="854.9" r="1.2" fill="#1f77b4"/><circle cx="130.31" cy="867.88" r="1.2" fill="#1f77b4"/><circle cx="136.14" cy="852.9" r="1.2" fill="#1f77b4"/><circle cx="142.17" cy="878.61" r="1.2" fill="#1f77b4"/><circle cx="148.01" cy="934.78" r="1.2" fill="#1f77b4"/><circle cx="154.04" cy="900.33" r="1.2" fill="#1f77b4"/><circle cx="160.07" cy="856.14" r="1.2" fill="#1f77b4"/><circle cx="165.91" cy="882.35" r="1.2" fill="#1f77b4"/><circle cx="171.94" cy="921.79" r="1.2" fill="#1f77b4"/><circle cx="177.78" cy="939.77" r="1.2" fill="#1f77b4"/><circle cx="183.81" cy="902.32" r="1.2" fill="#1f77b4"/><circle cx="189.84" cy="844.91" r="1.2" fill="#1f77b4"/><circle cx="195.48" cy="899.83" r="1.2" fill="#1f77b4"/><circle cx="201.51" cy="869.37" r="1.2" fill="#1f77b4"/><circle cx="207.35" cy="801.23" r="1.2" fill="#1f77b4"/><circle cx="213.38" cy="870.62" r="1.2" fill="#1f77b4"/><circle cx="219.22" cy="879.11" r="1.2" fill="#1f77b4"/><circle cx="225.25" cy="900.58" r="1.2" fill="#1f77b4"/><circle cx="231.28" cy="879.36" r="1.2" fill="#1f77b4"/><circle cx="237.12" cy="898.58" r="1.2" fill="#1f77b4"/><circle cx="243.15" cy="938.02" r="1.2" fill="#1f77b4"/><circle cx="248.99" cy="929.28" r="1.2" fill="#1f77b4"/><circle cx="255.02" cy="840.92" r="1.2" fill="#1f77b4"/><circle cx="261.05" cy="868.62" r="1.2" fill="#1f77b4"/><circle cx="266.5" cy="882.85" r="1.2" fill="#1f77b4"/><circle cx="272.53" cy="914.81" r="1.2" fill="#1f77b4"/><circle cx="278.36" cy="815.7" r="1.2" fill="#1f77b4"/><circle cx="284.4" cy="888.59" r="1.2" fill="#1f77b4"/><circle cx="290.23" cy="869.37" r="1.2" fill="#1f77b4"/><circle cx="296.26" cy="881.11" r="1.2" fill="#1f77b4"/><circle cx="302.3" cy="829.93" r="1.2" fill="#1f77b4"/><circle cx="308.13" cy="853.65" r="1.2" fill="#1f77b4"/><circle cx="314.16" cy="896.83" r="1.2" fill="#1f77b4"/><circle cx="320" cy="941.02" r="1.2" fill="#1f77b4"/><text x="37.85" y="883.75" font-size="6.5" fill="#1f77b4" fill-opacity="0.78" stroke="#1f77b4" stroke-width="0.1" stroke-opacity="0.5">58</text><text x="43.88" y="901.72" font-size="6.5" fill="#1f77b4" fill-opacity="0.78" stroke="#1f77b4" stroke-width="0.1" stroke-opacity="0.5">54</text><text x="49.91" y="898.23" font-size="6.5" fill="#1f77b4" fill-opacity="0.78" stroke="#1f77b4" stroke-width="0.1" stroke-opacity="0.5">54</text><text x="55.36" y="872.77" font-size="6.5" fill="#1f77b4" fill-opacity="0.78" stroke="#1f77b4" stroke-width="0.1" stroke-opacity="0.5">56</text><text x="61.39" y="869.52" font-size="6.5" fill="#1f77b4" fill-opacity="0.78" stroke="#1f77b4" stroke-width="0.1" stroke-opacity="0.5">44</text><text x="67.23" y="879.26" font-size="6.5" fill="#1f77b4" fill-opacity="0.78" stroke="#1f77b4" stroke-width="0.1" stroke-opacity="0.5">31</text><text x="73.26" y="955.64" font-size="6.5" fill="#1f77b4" fill-opacity="0.78" stroke="#1f77b4" stroke-width="0.1" stroke-opacity="0.5">3</text><text x="79.1" y="881" font-size="6.5" fill="#1f77b4" fill-opacity="0.78" stroke="#1f77b4" stroke-width="0.1" stroke-opacity="0.5">24</text><text x="85.13" y="897.48" font-size="6.5" fill="#1f77b4" fill-opacity="0.78" stroke="#1f77b4" stroke-width="0.1" stroke-opacity="0.5">33</text><text x="91.16" y="838.82" font-size="6.5" fill="#1f77b4" fill-opacity="0.78" stroke="#1f77b4" stroke-width="0.1" stroke-opacity="0.5">54</text><text x="97" y="860.78" font-size="6.5" fill="#1f77b4" fill-opacity="0.78" stroke="#1f77b4" stroke-width="0.1" stroke-opacity="0.5">12</text><text x="103.03" y="887.24" font-size="6.5" fill="#1f77b4" fill-opacity="0.78" stroke="#1f77b4" stroke-width="0.1" stroke-opacity="0.5">44</text><text x="108.86" y="905.22" font-size="6.5" fill="#1f77b4" fill-opacity="0.78" stroke="#1f77b4" stroke-width="0.1" stroke-opacity="0.5">30</text><text x="114.9" y="922.19" font-size="6.5" fill="#1f77b4" fill-opacity="0.78" stroke="#1f77b4" stroke-width="0.1" stroke-opacity="0.5">44</text><text x="120.93" y="850.3" font-size="6.5" fill="#1f77b4" fill-opacity="0.78" stroke="#1f77b4" stroke-width="0.1" stroke-opacity="0.5">31</text><text x="126.37" y="853.3" font-size="6.5" fill="#1f77b4" fill-opacity="0.78" stroke="#1f77b4" stroke-width="0.1" stroke-opacity="0.5">31</text><text x="132.41" y="866.28" font-size="6.5" fill="#1f77b4" fill-opacity="0.78" stroke="#1f77b4" stroke-width="0.1" stroke-opacity="0.5">58</text><text x="138.24" y="851.3" font-size="6.5" fill="#1f77b4" fill-opacity="0.78" stroke="#1f77b4" stroke-width="0.1" stroke-opacity="0.5">3</text><text x="144.27" y="877.01" font-size="6.5" fill="#1f77b4" fill-opacity="0.78" stroke="#1f77b4" stroke-width="0.1" stroke-opacity="0.5">3</text><text x="150.11" y="933.18" font-size="6.5" fill="#1f77b4" fill-opacity="0.78" stroke="#1f77b4" stroke-width="0.1" stroke-opacity="0.5">34</text><text x="156.14" y="898.73" font-size="6.5" fill="#1f77b4" fill-opacity="0.78" stroke="#1f77b4" stroke-width="0.1" stroke-opacity="0.5">43</text><text x="162.17" y="854.54" font-size="6.5" fill="#1f77b4" fill-opacity="0.78" stroke="#1f77b4" stroke-width="0.1" stroke-opacity="0.5">35</text><text x="168.01" y="880.75" font-size="6.5" fill="#1f77b4" fill-opacity="0.78" stroke="#1f77b4" stroke-width="0.1" stroke-opacity="0.5">35</text><text x="174.04" y="920.19" font-size="6.5" fill="#1f77b4" fill-opacity="0.78" stroke="#1f77b4" stroke-width="0.1" stroke-opacity="0.5">42</text><text x="179.88" y="938.17" font-size="6.5" fill="#1f77b4" fill-opacity="0.78" stroke="#1f77b4" stroke-width="0.1" stroke-opacity="0.5">42</text><text x="185.91" y="900.72" font-size="6.5" fill="#1f77b4" fill-opacity="0.78" stroke="#1f77b4" stroke-width="0.1" stroke-opacity="0.5">13</text><text x="191.94" y="843.31" font-size="6.5" fill="#1f77b4" fill-opacity="0.78" stroke="#1f77b4" stroke-width="0.1" stroke-opacity="0.5">43</text><text x="197.58" y="898.23" font-size="6.5" fill="#1f77b4" fill-opacity="0.78" stroke="#1f77b4" stroke-width="0.1" stroke-opacity="0.5">13</text><text x="203.61" y="867.77" font-size="6.5" fill="#1f77b4" fill-opacity="0.78" stroke="#1f77b4" stroke-width="0.1" stroke-opacity="0.5">43</text><text x="209.45" y="799.63" font-size="6.5" fill="#1f77b4" fill-opacity="0.78" stroke="#1f77b4" stroke-width="0.1" stroke-opacity="0.5">43</text><text x="215.48" y="869.02" font-size="6.5" fill="#1f77b4" fill-opacity="0.78" stroke="#1f77b4" stroke-width="0.1" stroke-opacity="0.5">43</text><text x="221.32" y="877.51" font-size="6.5" fill="#1f77b4" fill-opacity="0.78" stroke="#1f77b4" stroke-width="0.1" stroke-opacity="0.5">43</text><text x="227.35" y="898.98" font-size="6.5" fill="#1f77b4" fill-opacity="0.78" stroke="#1f77b4" stroke-width="0.1" stroke-opacity="0.5">43</text><text x="233.38" y="877.76" font-size="6.5" fill="#1f77b4" fill-opacity="0.78" stroke="#1f77b4" stroke-width="0.1" stroke-opacity="0.5">43</text><text x="239.22" y="896.98" font-size="6.5" fill="#1f77b4" fill-opacity="0.78" stroke="#1f77b4" stroke-width="0.1" stroke-opacity="0.5">37</text><text x="245.25" y="936.42" font-size="6.5" fill="#1f77b4" fill-opacity="0.78" stroke="#1f77b4" stroke-width="0.1" stroke-opacity="0.5">28</text><text x="251.09" y="927.68" font-size="6.5" fill="#1f77b4" fill-opacity="0.78" stroke="#1f77b4" stroke-width="0.1" stroke-opacity="0.5">43</text><text x="257.12" y="839.32" font-size="6.5" fill="#1f77b4" fill-opacity="0.78" stroke="#1f77b4" stroke-width="0.1" stroke-opacity="0.5">54</text><text x="263.15" y="867.02" font-size="6.5" fill="#1f77b4" fill-opacity="0.78" stroke="#1f77b4" stroke-width="0.1" stroke-opacity="0.5">43</text><text x="268.6" y="881.25" font-size="6.5" fill="#1f77b4" fill-opacity="0.78" stroke="#1f77b4" stroke-width="0.1" stroke-opacity="0.5">43</text><text x="274.63" y="913.21" font-size="6.5" fill="#1f77b4" fill-opacity="0.78" stroke="#1f77b4" stroke-width="0.1" stroke-opacity="0.5">43</text><text x="280.46" y="814.1" font-size="6.5" fill="#1f77b4" fill-opacity="0.78" stroke="#1f77b4" stroke-width="0.1" stroke-opacity="0.5">35</text><text x="286.5" y="886.99" font-size="6.5" fill="#1f77b4" fill-opacity="0.78" stroke="#1f77b4" stroke-width="0.1" stroke-opacity="0.5">35</text><text x="292.33" y="867.77" font-size="6.5" fill="#1f77b4" fill-opacity="0.78" stroke="#1f77b4" stroke-width="0.1" stroke-opacity="0.5">30</text><text x="298.36" y="879.51" font-size="6.5" fill="#1f77b4" fill-opacity="0.78" stroke="#1f77b4" stroke-width="0.1" stroke-opacity="0.5">43</text><text x="304.4" y="828.33" font-size="6.5" fill="#1f77b4" fill-opacity="0.78" stroke="#1f77b4" stroke-width="0.1" stroke-opacity="0.5">58</text><text x="310.23" y="852.05" font-size="6.5" fill="#1f77b4" fill-opacity="0.78" stroke="#1f77b4" stroke-width="0.1" stroke-opacity="0.5">43</text><text x="316.26" y="895.23" font-size="6.5" fill="#1f77b4" fill-opacity="0.78" stroke="#1f77b4" stroke-width="0.1" stroke-opacity="0.5">28</text><text x="322.1" y="939.42" font-size="6.5" fill="#1f77b4" fill-opacity="0.78" stroke="#1f77b4" stroke-width="0.1" stroke-opacity="0.5">12</text><polyline points="35.75,946.76 41.78,939.02 47.81,930.78 53.26,944.76 59.29,920.55 65.13,928.78 71.16,962.23 77,924.79 83.03,966.48 89.06,969.97 94.9,946.51 100.93,974.72 106.76,946.51 112.8,977.21 118.83,982.95 124.27,973.72 130.31,961.49 136.14,954.75 142.17,929.78 148.01,937.27 154.04,972.72 160.07,977.21 165.91,934.78 171.94,929.78 177.78,942.26 183.81,907.32 189.84,919.8 195.48,913.56 201.51,936.52 207.35,928.53 213.38,930.53 219.22,960.99 225.25,920.55 231.28,919.8 237.12,927.29 243.15,945.51 248.99,951 255.02,918.55 261.05,898.58 266.5,927.79 272.53,946.76 278.36,949.75 284.4,919.8 290.23,914.81 296.26,963.48 302.3,926.54 308.13,957.99 314.16,939.77 320,942.76" fill="none" stroke="#ff7f0e" stroke-width="1.0" stroke-opacity="0.6" stroke-linejoin="round"/><circle cx="35.75" cy="946.76" r="1.2" fill="#ff7f0e"/><circle cx="41.78" cy="939.02" r="1.2" fill="#ff7f0e"/><circle cx="47.81" cy="930.78" r="1.2" fill="#ff7f0e"/><circle cx="53.26" cy="944.76" r="1.2" fill="#ff7f0e"/><circle cx="59.29" cy="920.55" r="1.2" fill="#ff7f0e"/><circle cx="65.13" cy="928.78" r="1.2" fill="#ff7f0e"/><circle cx="71.16" cy="962.23" r="1.2" fill="#ff7f0e"/><circle cx="77" cy="924.79" r="1.2" fill="#ff7f0e"/><circle cx="83.03" cy="966.48" r="1.2" fill="#ff7f0e"/><circle cx="89.06" cy="969.97" r="1.2" fill="#ff7f0e"/><circle cx="94.9" cy="946.51" r="1.2" fill="#ff7f0e"/><circle cx="100.93" cy="974.72" r="1.2" fill="#ff7f0e"/><circle cx="106.76" cy="946.51" r="1.2" fill="#ff7f0e"/><circle cx="112.8" cy="977.21" r="1.2" fill="#ff7f0e"/><circle cx="118.83" cy="982.95" r="1.2" fill="#ff7f0e"/><circle cx="124.27" cy="973.72" r="1.2" fill="#ff7f0e"/><circle cx="130.31" cy="961.49" r="1.2" fill="#ff7f0e"/><circle cx="136.14" cy="954.75" r="1.2" fill="#ff7f0e"/><circle cx="142.17" cy="929.78" r="1.2" fill="#ff7f0e"/><circle cx="148.01" cy="937.27" r="1.2" fill="#ff7f0e"/><circle cx="154.04" cy="972.72" r="1.2" fill="#ff7f0e"/><circle cx="160.07" cy="977.21" r="1.2" fill="#ff7f0e"/><circle cx="165.91" cy="934.78" r="1.2" fill="#ff7f0e"/><circle cx="171.94" cy="929.78" r="1.2" fill="#ff7f0e"/><circle cx="177.78" cy="942.26" r="1.2" fill="#ff7f0e"/><circle cx="183.81" cy="907.32" r="1.2" fill="#ff7f0e"/><circle cx="189.84" cy="919.8" r="1.2" fill="#ff7f0e"/><circle cx="195.48" cy="913.56" r="1.2" fill="#ff7f0e"/><circle cx="201.51" cy="936.52" r="1.2" fill="#ff7f0e"/><circle cx="207.35" cy="928.53" r="1.2" fill="#ff7f0e"/><circle cx="213.38" cy="930.53" r="1.2" fill="#ff7f0e"/><circle cx="219.22" cy="960.99" r="1.2" fill="#ff7f0e"/><circle cx="225.25" cy="920.55" r="1.2" fill="#ff7f0e"/><circle cx="231.28" cy="919.8" r="1.2" fill="#ff7f0e"/><circle cx="237.12" cy="927.29" r="1.2" fill="#ff7f0e"/><circle cx="243.15" cy="945.51" r="1.2" fill="#ff7f0e"/><circle cx="248.99" cy="951" r="1.2" fill="#ff7f0e"/><circle cx="255.02" cy="918.55" r="1.2" fill="#ff7f0e"/><circle cx="261.05" cy="898.58" r="1.2" fill="#ff7f0e"/><circle cx="266.5" cy="927.79" r="1.2" fill="#ff7f0e"/><circle cx="272.53" cy="946.76" r="1.2" fill="#ff7f0e"/><circle cx="278.36" cy="949.75" r="1.2" fill="#ff7f0e"/><circle cx="284.4" cy="919.8" r="1.2" fill="#ff7f0e"/><circle cx="290.23" cy="914.81" r="1.2" fill="#ff7f0e"/><circle cx="296.26" cy="963.48" r="1.2" fill="#ff7f0e"/><circle cx="302.3" cy="926.54" r="1.2" fill="#ff7f0e"/><circle cx="308.13" cy="957.99" r="1.2" fill="#ff7f0e"/><circle cx="314.16" cy="939.77" r="1.2" fill="#ff7f0e"/><circle cx="320" cy="942.76" r="1.2" fill="#ff7f0e"/><text x="37.85" y="945.16" font-size="6.5" fill="#ff7f0e" fill-opacity="0.78" stroke="#ff7f0e" stroke-width="0.1" stroke-opacity="0.5">58</text><text x="43.88" y="937.42" font-size="6.5" fill="#ff7f0e" fill-opacity="0.78" stroke="#ff7f0e" stroke-width="0.1" stroke-opacity="0.5">5</text><text x="49.91" y="929.18" font-size="6.5" fill="#ff7f0e" fill-opacity="0.78" stroke="#ff7f0e" stroke-width="0.1" stroke-opacity="0.5">58</text><text x="55.36" y="943.16" font-size="6.5" fill="#ff7f0e" fill-opacity="0.78" stroke="#ff7f0e" stroke-width="0.1" stroke-opacity="0.5">54</text><text x="61.39" y="918.95" font-size="6.5" fill="#ff7f0e" fill-opacity="0.78" stroke="#ff7f0e" stroke-width="0.1" stroke-opacity="0.5">58</text><text x="67.23" y="927.18" font-size="6.5" fill="#ff7f0e" fill-opacity="0.78" stroke="#ff7f0e" stroke-width="0.1" stroke-opacity="0.5">44</text><text x="73.26" y="960.63" font-size="6.5" fill="#ff7f0e" fill-opacity="0.78" stroke="#ff7f0e" stroke-width="0.1" stroke-opacity="0.5">4</text><text x="79.1" y="923.19" font-size="6.5" fill="#ff7f0e" fill-opacity="0.78" stroke="#ff7f0e" stroke-width="0.1" stroke-opacity="0.5">3</text><text x="85.13" y="964.88" font-size="6.5" fill="#ff7f0e" fill-opacity="0.78" stroke="#ff7f0e" stroke-width="0.1" stroke-opacity="0.5">3</text><text x="91.16" y="968.37" font-size="6.5" fill="#ff7f0e" fill-opacity="0.78" stroke="#ff7f0e" stroke-width="0.1" stroke-opacity="0.5">30</text><text x="97" y="944.91" font-size="6.5" fill="#ff7f0e" fill-opacity="0.78" stroke="#ff7f0e" stroke-width="0.1" stroke-opacity="0.5">25</text><text x="103.03" y="973.12" font-size="6.5" fill="#ff7f0e" fill-opacity="0.78" stroke="#ff7f0e" stroke-width="0.1" stroke-opacity="0.5">30</text><text x="108.86" y="944.91" font-size="6.5" fill="#ff7f0e" fill-opacity="0.78" stroke="#ff7f0e" stroke-width="0.1" stroke-opacity="0.5">58</text><text x="114.9" y="975.61" font-size="6.5" fill="#ff7f0e" fill-opacity="0.78" stroke="#ff7f0e" stroke-width="0.1" stroke-opacity="0.5">25</text><text x="120.93" y="981.35" font-size="6.5" fill="#ff7f0e" fill-opacity="0.78" stroke="#ff7f0e" stroke-width="0.1" stroke-opacity="0.5">30</text><text x="126.37" y="972.12" font-size="6.5" fill="#ff7f0e" fill-opacity="0.78" stroke="#ff7f0e" stroke-width="0.1" stroke-opacity="0.5">4</text><text x="132.41" y="959.89" font-size="6.5" fill="#ff7f0e" fill-opacity="0.78" stroke="#ff7f0e" stroke-width="0.1" stroke-opacity="0.5">3</text><text x="138.24" y="953.15" font-size="6.5" fill="#ff7f0e" fill-opacity="0.78" stroke="#ff7f0e" stroke-width="0.1" stroke-opacity="0.5">8</text><text x="144.27" y="928.18" font-size="6.5" fill="#ff7f0e" fill-opacity="0.78" stroke="#ff7f0e" stroke-width="0.1" stroke-opacity="0.5">34</text><text x="150.11" y="935.67" font-size="6.5" fill="#ff7f0e" fill-opacity="0.78" stroke="#ff7f0e" stroke-width="0.1" stroke-opacity="0.5">31</text><text x="156.14" y="971.12" font-size="6.5" fill="#ff7f0e" fill-opacity="0.78" stroke="#ff7f0e" stroke-width="0.1" stroke-opacity="0.5">54</text><text x="162.17" y="975.61" font-size="6.5" fill="#ff7f0e" fill-opacity="0.78" stroke="#ff7f0e" stroke-width="0.1" stroke-opacity="0.5">54</text><text x="168.01" y="933.18" font-size="6.5" fill="#ff7f0e" fill-opacity="0.78" stroke="#ff7f0e" stroke-width="0.1" stroke-opacity="0.5">43</text><text x="174.04" y="928.18" font-size="6.5" fill="#ff7f0e" fill-opacity="0.78" stroke="#ff7f0e" stroke-width="0.1" stroke-opacity="0.5">35</text><text x="179.88" y="940.66" font-size="6.5" fill="#ff7f0e" fill-opacity="0.78" stroke="#ff7f0e" stroke-width="0.1" stroke-opacity="0.5">42</text><text x="185.91" y="905.72" font-size="6.5" fill="#ff7f0e" fill-opacity="0.78" stroke="#ff7f0e" stroke-width="0.1" stroke-opacity="0.5">13</text><text x="191.94" y="918.2" font-size="6.5" fill="#ff7f0e" fill-opacity="0.78" stroke="#ff7f0e" stroke-width="0.1" stroke-opacity="0.5">4</text><text x="197.58" y="911.96" font-size="6.5" fill="#ff7f0e" fill-opacity="0.78" stroke="#ff7f0e" stroke-width="0.1" stroke-opacity="0.5">4</text><text x="203.61" y="934.92" font-size="6.5" fill="#ff7f0e" fill-opacity="0.78" stroke="#ff7f0e" stroke-width="0.1" stroke-opacity="0.5">4</text><text x="209.45" y="926.93" font-size="6.5" fill="#ff7f0e" fill-opacity="0.78" stroke="#ff7f0e" stroke-width="0.1" stroke-opacity="0.5">54</text><text x="215.48" y="928.93" font-size="6.5" fill="#ff7f0e" fill-opacity="0.78" stroke="#ff7f0e" stroke-width="0.1" stroke-opacity="0.5">54</text><text x="221.32" y="959.39" font-size="6.5" fill="#ff7f0e" fill-opacity="0.78" stroke="#ff7f0e" stroke-width="0.1" stroke-opacity="0.5">54</text><text x="227.35" y="918.95" font-size="6.5" fill="#ff7f0e" fill-opacity="0.78" stroke="#ff7f0e" stroke-width="0.1" stroke-opacity="0.5">46</text><text x="233.38" y="918.2" font-size="6.5" fill="#ff7f0e" fill-opacity="0.78" stroke="#ff7f0e" stroke-width="0.1" stroke-opacity="0.5">41</text><text x="239.22" y="925.69" font-size="6.5" fill="#ff7f0e" fill-opacity="0.78" stroke="#ff7f0e" stroke-width="0.1" stroke-opacity="0.5">43</text><text x="245.25" y="943.91" font-size="6.5" fill="#ff7f0e" fill-opacity="0.78" stroke="#ff7f0e" stroke-width="0.1" stroke-opacity="0.5">12</text><text x="251.09" y="949.4" font-size="6.5" fill="#ff7f0e" fill-opacity="0.78" stroke="#ff7f0e" stroke-width="0.1" stroke-opacity="0.5">37</text><text x="257.12" y="916.95" font-size="6.5" fill="#ff7f0e" fill-opacity="0.78" stroke="#ff7f0e" stroke-width="0.1" stroke-opacity="0.5">43</text><text x="263.15" y="896.98" font-size="6.5" fill="#ff7f0e" fill-opacity="0.78" stroke="#ff7f0e" stroke-width="0.1" stroke-opacity="0.5">54</text><text x="268.6" y="926.19" font-size="6.5" fill="#ff7f0e" fill-opacity="0.78" stroke="#ff7f0e" stroke-width="0.1" stroke-opacity="0.5">49</text><text x="274.63" y="945.16" font-size="6.5" fill="#ff7f0e" fill-opacity="0.78" stroke="#ff7f0e" stroke-width="0.1" stroke-opacity="0.5">26</text><text x="280.46" y="948.15" font-size="6.5" fill="#ff7f0e" fill-opacity="0.78" stroke="#ff7f0e" stroke-width="0.1" stroke-opacity="0.5">43</text><text x="286.5" y="918.2" font-size="6.5" fill="#ff7f0e" fill-opacity="0.78" stroke="#ff7f0e" stroke-width="0.1" stroke-opacity="0.5">30</text><text x="292.33" y="913.21" font-size="6.5" fill="#ff7f0e" fill-opacity="0.78" stroke="#ff7f0e" stroke-width="0.1" stroke-opacity="0.5">24</text><text x="298.36" y="961.88" font-size="6.5" fill="#ff7f0e" fill-opacity="0.78" stroke="#ff7f0e" stroke-width="0.1" stroke-opacity="0.5">44</text><text x="304.4" y="924.94" font-size="6.5" fill="#ff7f0e" fill-opacity="0.78" stroke="#ff7f0e" stroke-width="0.1" stroke-opacity="0.5">43</text><text x="310.23" y="956.39" font-size="6.5" fill="#ff7f0e" fill-opacity="0.78" stroke="#ff7f0e" stroke-width="0.1" stroke-opacity="0.5">44</text><text x="316.26" y="938.17" font-size="6.5" fill="#ff7f0e" fill-opacity="0.78" stroke="#ff7f0e" stroke-width="0.1" stroke-opacity="0.5">33</text><text x="322.1" y="941.16" font-size="6.5" fill="#ff7f0e" fill-opacity="0.78" stroke="#ff7f0e" stroke-width="0.1" stroke-opacity="0.5">12</text><polyline points="35.75,960.99 41.78,942.26 47.81,971.72 53.26,969.72 59.29,979.71 65.13,961.49 71.16,965.23 77,982.2 83.03,978.46 89.06,975.96 94.9,957.24 100.93,975.96 106.76,961.49 112.8,980.96 118.83,995.93 124.27,977.21 130.31,967.23 136.14,971.22 142.17,951.5 148.01,962.23 154.04,975.21 160.07,979.71 165.91,974.72 171.94,965.23 177.78,950.25 183.81,955.24 189.84,971.72 195.48,952.25 201.51,957.24 207.35,999.18 213.38,953 219.22,963.48 225.25,926.54 231.28,951.75 237.12,980.46 243.15,977.21 248.99,965.98 255.02,994.19 261.05,952.25 266.5,957.24 272.53,955.24 278.36,974.22 284.4,963.98 290.23,991.69 296.26,969.72 302.3,976.71 308.13,967.23 314.16,982.7 320,962.23" fill="none" stroke="#2ca02c" stroke-width="1.0" stroke-opacity="0.6" stroke-linejoin="round"/><circle cx="35.75" cy="960.99" r="1.2" fill="#2ca02c"/><circle cx="41.78" cy="942.26" r="1.2" fill="#2ca02c"/><circle cx="47.81" cy="971.72" r="1.2" fill="#2ca02c"/><circle cx="53.26" cy="969.72" r="1.2" fill="#2ca02c"/><circle cx="59.29" cy="979.71" r="1.2" fill="#2ca02c"/><circle cx="65.13" cy="961.49" r="1.2" fill="#2ca02c"/><circle cx="71.16" cy="965.23" r="1.2" fill="#2ca02c"/><circle cx="77" cy="982.2" r="1.2" fill="#2ca02c"/><circle cx="83.03" cy="978.46" r="1.2" fill="#2ca02c"/><circle cx="89.06" cy="975.96" r="1.2" fill="#2ca02c"/><circle cx="94.9" cy="957.24" r="1.2" fill="#2ca02c"/><circle cx="100.93" cy="975.96" r="1.2" fill="#2ca02c"/><circle cx="106.76" cy="961.49" r="1.2" fill="#2ca02c"/><circle cx="112.8" cy="980.96" r="1.2" fill="#2ca02c"/><circle cx="118.83" cy="995.93" r="1.2" fill="#2ca02c"/><circle cx="124.27" cy="977.21" r="1.2" fill="#2ca02c"/><circle cx="130.31" cy="967.23" r="1.2" fill="#2ca02c"/><circle cx="136.14" cy="971.22" r="1.2" fill="#2ca02c"/><circle cx="142.17" cy="951.5" r="1.2" fill="#2ca02c"/><circle cx="148.01" cy="962.23" r="1.2" fill="#2ca02c"/><circle cx="154.04" cy="975.21" r="1.2" fill="#2ca02c"/><circle cx="160.07" cy="979.71" r="1.2" fill="#2ca02c"/><circle cx="165.91" cy="974.72" r="1.2" fill="#2ca02c"/><circle cx="171.94" cy="965.23" r="1.2" fill="#2ca02c"/><circle cx="177.78" cy="950.25" r="1.2" fill="#2ca02c"/><circle cx="183.81" cy="955.24" r="1.2" fill="#2ca02c"/><circle cx="189.84" cy="971.72" r="1.2" fill="#2ca02c"/><circle cx="195.48" cy="952.25" r="1.2" fill="#2ca02c"/><circle cx="201.51" cy="957.24" r="1.2" fill="#2ca02c"/><circle cx="207.35" cy="999.18" r="1.2" fill="#2ca02c"/><circle cx="213.38" cy="953" r="1.2" fill="#2ca02c"/><circle cx="219.22" cy="963.48" r="1.2" fill="#2ca02c"/><circle cx="225.25" cy="926.54" r="1.2" fill="#2ca02c"/><circle cx="231.28" cy="951.75" r="1.2" fill="#2ca02c"/><circle cx="237.12" cy="980.46" r="1.2" fill="#2ca02c"/><circle cx="243.15" cy="977.21" r="1.2" fill="#2ca02c"/><circle cx="248.99" cy="965.98" r="1.2" fill="#2ca02c"/><circle cx="255.02" cy="994.19" r="1.2" fill="#2ca02c"/><circle cx="261.05" cy="952.25" r="1.2" fill="#2ca02c"/><circle cx="266.5" cy="957.24" r="1.2" fill="#2ca02c"/><circle cx="272.53" cy="955.24" r="1.2" fill="#2ca02c"/><circle cx="278.36" cy="974.22" r="1.2" fill="#2ca02c"/><circle cx="284.4" cy="963.98" r="1.2" fill="#2ca02c"/><circle cx="290.23" cy="991.69" r="1.2" fill="#2ca02c"/><circle cx="296.26" cy="969.72" r="1.2" fill="#2ca02c"/><circle cx="302.3" cy="976.71" r="1.2" fill="#2ca02c"/><circle cx="308.13" cy="967.23" r="1.2" fill="#2ca02c"/><circle cx="314.16" cy="982.7" r="1.2" fill="#2ca02c"/><circle cx="320" cy="962.23" r="1.2" fill="#2ca02c"/><text x="37.85" y="959.39" font-size="6.5" fill="#2ca02c" fill-opacity="0.78" stroke="#2ca02c" stroke-width="0.1" stroke-opacity="0.5">44</text><text x="43.88" y="940.66" font-size="6.5" fill="#2ca02c" fill-opacity="0.78" stroke="#2ca02c" stroke-width="0.1" stroke-opacity="0.5">23</text><text x="49.91" y="970.12" font-size="6.5" fill="#2ca02c" fill-opacity="0.78" stroke="#2ca02c" stroke-width="0.1" stroke-opacity="0.5">5</text><text x="55.36" y="968.12" font-size="6.5" fill="#2ca02c" fill-opacity="0.78" stroke="#2ca02c" stroke-width="0.1" stroke-opacity="0.5">20</text><text x="61.39" y="978.11" font-size="6.5" fill="#2ca02c" fill-opacity="0.78" stroke="#2ca02c" stroke-width="0.1" stroke-opacity="0.5">31</text><text x="67.23" y="959.89" font-size="6.5" fill="#2ca02c" fill-opacity="0.78" stroke="#2ca02c" stroke-width="0.1" stroke-opacity="0.5">3</text><text x="73.26" y="963.63" font-size="6.5" fill="#2ca02c" fill-opacity="0.78" stroke="#2ca02c" stroke-width="0.1" stroke-opacity="0.5">35</text><text x="79.1" y="980.6" font-size="6.5" fill="#2ca02c" fill-opacity="0.78" stroke="#2ca02c" stroke-width="0.1" stroke-opacity="0.5">36</text><text x="85.13" y="976.86" font-size="6.5" fill="#2ca02c" fill-opacity="0.78" stroke="#2ca02c" stroke-width="0.1" stroke-opacity="0.5">58</text><text x="91.16" y="974.36" font-size="6.5" fill="#2ca02c" fill-opacity="0.78" stroke="#2ca02c" stroke-width="0.1" stroke-opacity="0.5">25</text><text x="97" y="955.64" font-size="6.5" fill="#2ca02c" fill-opacity="0.78" stroke="#2ca02c" stroke-width="0.1" stroke-opacity="0.5">45</text><text x="103.03" y="974.36" font-size="6.5" fill="#2ca02c" fill-opacity="0.78" stroke="#2ca02c" stroke-width="0.1" stroke-opacity="0.5">58</text><text x="108.86" y="959.89" font-size="6.5" fill="#2ca02c" fill-opacity="0.78" stroke="#2ca02c" stroke-width="0.1" stroke-opacity="0.5">44</text><text x="114.9" y="979.36" font-size="6.5" fill="#2ca02c" fill-opacity="0.78" stroke="#2ca02c" stroke-width="0.1" stroke-opacity="0.5">31</text><text x="120.93" y="994.33" font-size="6.5" fill="#2ca02c" fill-opacity="0.78" stroke="#2ca02c" stroke-width="0.1" stroke-opacity="0.5">7</text><text x="126.37" y="975.61" font-size="6.5" fill="#2ca02c" fill-opacity="0.78" stroke="#2ca02c" stroke-width="0.1" stroke-opacity="0.5">12</text><text x="132.41" y="965.63" font-size="6.5" fill="#2ca02c" fill-opacity="0.78" stroke="#2ca02c" stroke-width="0.1" stroke-opacity="0.5">15</text><text x="138.24" y="969.62" font-size="6.5" fill="#2ca02c" fill-opacity="0.78" stroke="#2ca02c" stroke-width="0.1" stroke-opacity="0.5">15</text><text x="144.27" y="949.9" font-size="6.5" fill="#2ca02c" fill-opacity="0.78" stroke="#2ca02c" stroke-width="0.1" stroke-opacity="0.5">52</text><text x="150.11" y="960.63" font-size="6.5" fill="#2ca02c" fill-opacity="0.78" stroke="#2ca02c" stroke-width="0.1" stroke-opacity="0.5">15</text><text x="156.14" y="973.61" font-size="6.5" fill="#2ca02c" fill-opacity="0.78" stroke="#2ca02c" stroke-width="0.1" stroke-opacity="0.5">54</text><text x="162.17" y="978.11" font-size="6.5" fill="#2ca02c" fill-opacity="0.78" stroke="#2ca02c" stroke-width="0.1" stroke-opacity="0.5">21</text><text x="168.01" y="973.12" font-size="6.5" fill="#2ca02c" fill-opacity="0.78" stroke="#2ca02c" stroke-width="0.1" stroke-opacity="0.5">8</text><text x="174.04" y="963.63" font-size="6.5" fill="#2ca02c" fill-opacity="0.78" stroke="#2ca02c" stroke-width="0.1" stroke-opacity="0.5">54</text><text x="179.88" y="948.65" font-size="6.5" fill="#2ca02c" fill-opacity="0.78" stroke="#2ca02c" stroke-width="0.1" stroke-opacity="0.5">13</text><text x="185.91" y="953.64" font-size="6.5" fill="#2ca02c" fill-opacity="0.78" stroke="#2ca02c" stroke-width="0.1" stroke-opacity="0.5">41</text><text x="191.94" y="970.12" font-size="6.5" fill="#2ca02c" fill-opacity="0.78" stroke="#2ca02c" stroke-width="0.1" stroke-opacity="0.5">54</text><text x="197.58" y="950.65" font-size="6.5" fill="#2ca02c" fill-opacity="0.78" stroke="#2ca02c" stroke-width="0.1" stroke-opacity="0.5">58</text><text x="203.61" y="955.64" font-size="6.5" fill="#2ca02c" fill-opacity="0.78" stroke="#2ca02c" stroke-width="0.1" stroke-opacity="0.5">13</text><text x="209.45" y="997.58" font-size="6.5" fill="#2ca02c" fill-opacity="0.78" stroke="#2ca02c" stroke-width="0.1" stroke-opacity="0.5">13</text><text x="215.48" y="951.4" font-size="6.5" fill="#2ca02c" fill-opacity="0.78" stroke="#2ca02c" stroke-width="0.1" stroke-opacity="0.5">30</text><text x="221.32" y="961.88" font-size="6.5" fill="#2ca02c" fill-opacity="0.78" stroke="#2ca02c" stroke-width="0.1" stroke-opacity="0.5">17</text><text x="227.35" y="924.94" font-size="6.5" fill="#2ca02c" fill-opacity="0.78" stroke="#2ca02c" stroke-width="0.1" stroke-opacity="0.5">37</text><text x="233.38" y="950.15" font-size="6.5" fill="#2ca02c" fill-opacity="0.78" stroke="#2ca02c" stroke-width="0.1" stroke-opacity="0.5">37</text><text x="239.22" y="978.86" font-size="6.5" fill="#2ca02c" fill-opacity="0.78" stroke="#2ca02c" stroke-width="0.1" stroke-opacity="0.5">21</text><text x="245.25" y="975.61" font-size="6.5" fill="#2ca02c" fill-opacity="0.78" stroke="#2ca02c" stroke-width="0.1" stroke-opacity="0.5">43</text><text x="251.09" y="964.38" font-size="6.5" fill="#2ca02c" fill-opacity="0.78" stroke="#2ca02c" stroke-width="0.1" stroke-opacity="0.5">54</text><text x="257.12" y="992.59" font-size="6.5" fill="#2ca02c" fill-opacity="0.78" stroke="#2ca02c" stroke-width="0.1" stroke-opacity="0.5">13</text><text x="263.15" y="950.65" font-size="6.5" fill="#2ca02c" fill-opacity="0.78" stroke="#2ca02c" stroke-width="0.1" stroke-opacity="0.5">24</text><text x="268.6" y="955.64" font-size="6.5" fill="#2ca02c" fill-opacity="0.78" stroke="#2ca02c" stroke-width="0.1" stroke-opacity="0.5">3</text><text x="274.63" y="953.64" font-size="6.5" fill="#2ca02c" fill-opacity="0.78" stroke="#2ca02c" stroke-width="0.1" stroke-opacity="0.5">24</text><text x="280.46" y="972.62" font-size="6.5" fill="#2ca02c" fill-opacity="0.78" stroke="#2ca02c" stroke-width="0.1" stroke-opacity="0.5">3</text><text x="286.5" y="962.38" font-size="6.5" fill="#2ca02c" fill-opacity="0.78" stroke="#2ca02c" stroke-width="0.1" stroke-opacity="0.5">43</text><text x="292.33" y="990.09" font-size="6.5" fill="#2ca02c" fill-opacity="0.78" stroke="#2ca02c" stroke-width="0.1" stroke-opacity="0.5">3</text><text x="298.36" y="968.12" font-size="6.5" fill="#2ca02c" fill-opacity="0.78" stroke="#2ca02c" stroke-width="0.1" stroke-opacity="0.5">54</text><text x="304.4" y="975.11" font-size="6.5" fill="#2ca02c" fill-opacity="0.78" stroke="#2ca02c" stroke-width="0.1" stroke-opacity="0.5">44</text><text x="310.23" y="965.63" font-size="6.5" fill="#2ca02c" fill-opacity="0.78" stroke="#2ca02c" stroke-width="0.1" stroke-opacity="0.5">47</text><text x="316.26" y="981.1" font-size="6.5" fill="#2ca02c" fill-opacity="0.78" stroke="#2ca02c" stroke-width="0.1" stroke-opacity="0.5">39</text><text x="322.1" y="960.63" font-size="6.5" fill="#2ca02c" fill-opacity="0.78" stroke="#2ca02c" stroke-width="0.1" stroke-opacity="0.5">44</text><rect x="27.9" y="795.5" width="101.6" height="28.8" rx="1.2" fill="#fff" fill-opacity="0.8" stroke="#e2e2e2" stroke-width="0.7"/><line x1="29.9" y1="800.5" x2="42.7" y2="800.5" stroke="#1f77b4" stroke-width="1" stroke-opacity="0.6"/><circle cx="36.3" cy="800.5" r="1.35" fill="#1f77b4"/><text x="48" y="803" font-size="6.5" fill="#1a1a1a" class="t" textLength="78.6" lengthAdjust="spacing">Top 1 Feature Importance</text><line x1="29.9" y1="809.55" x2="42.7" y2="809.55" stroke="#ff7f0e" stroke-width="1" stroke-opacity="0.6"/><circle cx="36.3" cy="809.55" r="1.35" fill="#ff7f0e"/><text x="48" y="812.05" font-size="6.5" fill="#1a1a1a" class="t" textLength="78.6" lengthAdjust="spacing">Top 2 Feature Importance</text><line x1="29.9" y1="818.6" x2="42.7" y2="818.6" stroke="#2ca02c" stroke-width="1" stroke-opacity="0.6"/><circle cx="36.3" cy="818.6" r="1.35" fill="#2ca02c"/><text x="48" y="821.1" font-size="6.5" fill="#1a1a1a" class="t" textLength="78.6" lengthAdjust="spacing">Top 3 Feature Importance</text><text class="cap" x="121.9" y="1049.1" font-size="15.6" fill="#111" stroke="#111" stroke-width="0.2" textLength="62.7" lengthAdjust="spacingAndGlyphs">(g) City 7</text></g>
<g><line x1="369.2" y1="791.2" x2="369.2" y2="1008.4" stroke="#e8e8e8" stroke-width="1"/><line x1="682.7" y1="791.2" x2="682.7" y2="1008.4" stroke="#d6d6d6" stroke-width="1"/><line x1="369.2" y1="1008.4" x2="682.7" y2="1008.4" stroke="#e6e6e6" stroke-width="1"/><line x1="368.7" y1="791.2" x2="683.2" y2="791.2" stroke="#bababa" stroke-width="1"/><line x1="367.4" y1="804.2" x2="369.2" y2="804.2" stroke="#b0b0b0" stroke-width="0.7"/><text x="366.2" y="806.25" font-size="5.7" fill="#1a1a1a" text-anchor="end" class="t" textLength="11.9" lengthAdjust="spacing">0.30</text><line x1="367.4" y1="844.4" x2="369.2" y2="844.4" stroke="#b0b0b0" stroke-width="0.7"/><text x="366.2" y="846.45" font-size="5.7" fill="#1a1a1a" text-anchor="end" class="t" textLength="11.9" lengthAdjust="spacing">0.25</text><line x1="367.4" y1="884.9" x2="369.2" y2="884.9" stroke="#b0b0b0" stroke-width="0.7"/><text x="366.2" y="886.95" font-size="5.7" fill="#1a1a1a" text-anchor="end" class="t" textLength="11.9" lengthAdjust="spacing">0.20</text><line x1="367.4" y1="925" x2="369.2" y2="925" stroke="#b0b0b0" stroke-width="0.7"/><text x="366.2" y="927.05" font-size="5.7" fill="#1a1a1a" text-anchor="end" class="t" textLength="11.9" lengthAdjust="spacing">0.15</text><line x1="367.4" y1="965.2" x2="369.2" y2="965.2" stroke="#b0b0b0" stroke-width="0.7"/><text x="366.2" y="967.25" font-size="5.7" fill="#1a1a1a" text-anchor="end" class="t" textLength="11.9" lengthAdjust="spacing">0.10</text><line x1="367.4" y1="1005.4" x2="369.2" y2="1005.4" stroke="#b0b0b0" stroke-width="0.7"/><text x="366.2" y="1007.45" font-size="5.7" fill="#1a1a1a" text-anchor="end" class="t" textLength="11.9" lengthAdjust="spacing">0.05</text><line x1="388.93" y1="1008.4" x2="388.93" y2="1010.2" stroke="#b0b0b0" stroke-width="0.7"/><text x="388.93" y="1014.5" font-size="5.7" fill="#1a1a1a" text-anchor="middle" class="t" textLength="21.9" lengthAdjust="spacing">2018-01</text><line x1="424.17" y1="1008.4" x2="424.17" y2="1010.2" stroke="#b0b0b0" stroke-width="0.7"/><text x="424.17" y="1014.5" font-size="5.7" fill="#1a1a1a" text-anchor="middle" class="t" textLength="21.9" lengthAdjust="spacing">2018-07</text><line x1="459.99" y1="1008.4" x2="459.99" y2="1010.2" stroke="#b0b0b0" stroke-width="0.7"/><text x="459.99" y="1014.5" font-size="5.7" fill="#1a1a1a" text-anchor="middle" class="t" textLength="21.9" lengthAdjust="spacing">2019-01</text><line x1="495.22" y1="1008.4" x2="495.22" y2="1010.2" stroke="#b0b0b0" stroke-width="0.7"/><text x="495.22" y="1014.5" font-size="5.7" fill="#1a1a1a" text-anchor="middle" class="t" textLength="21.9" lengthAdjust="spacing">2019-07</text><line x1="531.04" y1="1008.4" x2="531.04" y2="1010.2" stroke="#b0b0b0" stroke-width="0.7"/><text x="531.04" y="1014.5" font-size="5.7" fill="#1a1a1a" text-anchor="middle" class="t" textLength="21.9" lengthAdjust="spacing">2020-01</text><line x1="566.47" y1="1008.4" x2="566.47" y2="1010.2" stroke="#b0b0b0" stroke-width="0.7"/><text x="566.47" y="1014.5" font-size="5.7" fill="#1a1a1a" text-anchor="middle" class="t" textLength="21.9" lengthAdjust="spacing">2020-07</text><line x1="602.28" y1="1008.4" x2="602.28" y2="1010.2" stroke="#b0b0b0" stroke-width="0.7"/><text x="602.28" y="1014.5" font-size="5.7" fill="#1a1a1a" text-anchor="middle" class="t" textLength="21.9" lengthAdjust="spacing">2021-01</text><line x1="637.52" y1="1008.4" x2="637.52" y2="1010.2" stroke="#b0b0b0" stroke-width="0.7"/><text x="637.52" y="1014.5" font-size="5.7" fill="#1a1a1a" text-anchor="middle" class="t" textLength="21.9" lengthAdjust="spacing">2021-07</text><line x1="673.33" y1="1008.4" x2="673.33" y2="1010.2" stroke="#b0b0b0" stroke-width="0.7"/><text x="673.33" y="1014.5" font-size="5.7" fill="#1a1a1a" text-anchor="middle" class="t" textLength="21.9" lengthAdjust="spacing">2022-01</text><text x="525.95" y="1021.5" font-size="6.0" fill="#1a1a1a" text-anchor="middle" class="t" textLength="14" lengthAdjust="spacingAndGlyphs">Date</text><text transform="translate(351.7 900.8) rotate(-90)" x="0" y="0" font-size="6.0" fill="#1a1a1a" class="t" text-anchor="middle" textLength="35" lengthAdjust="spacingAndGlyphs">Importance</text><polyline points="382.9,926.04 388.93,970.97 394.97,952.75 400.42,960.49 406.45,966.73 412.29,952.25 418.33,959.74 424.17,977.21 430.2,970.97 436.24,968.47 442.08,898.58 448.11,938.02 453.95,964.73 459.99,965.23 466.02,967.23 471.47,919.3 477.51,949 483.35,930.28 489.38,943.01 495.22,954.25 501.25,973.97 507.29,931.53 513.13,964.73 519.16,939.02 525,881.61 531.04,861.14 537.07,840.42 542.72,800.73 548.75,944.76 554.59,915.3 560.63,921.55 566.47,957.24 572.5,977.21 578.53,972.72 584.37,957.24 590.41,947.76 596.25,951.75 602.28,914.06 608.32,924.04 613.77,937.77 619.8,925.29 625.64,940.52 631.68,924.04 637.52,928.53 643.55,932.28 649.59,913.56 655.43,927.79 661.46,932.78 667.3,912.31" fill="none" stroke="#1f77b4" stroke-width="1.0" stroke-opacity="0.6" stroke-linejoin="round"/><circle cx="382.9" cy="926.04" r="1.2" fill="#1f77b4"/><circle cx="388.93" cy="970.97" r="1.2" fill="#1f77b4"/><circle cx="394.97" cy="952.75" r="1.2" fill="#1f77b4"/><circle cx="400.42" cy="960.49" r="1.2" fill="#1f77b4"/><circle cx="406.45" cy="966.73" r="1.2" fill="#1f77b4"/><circle cx="412.29" cy="952.25" r="1.2" fill="#1f77b4"/><circle cx="418.33" cy="959.74" r="1.2" fill="#1f77b4"/><circle cx="424.17" cy="977.21" r="1.2" fill="#1f77b4"/><circle cx="430.2" cy="970.97" r="1.2" fill="#1f77b4"/><circle cx="436.24" cy="968.47" r="1.2" fill="#1f77b4"/><circle cx="442.08" cy="898.58" r="1.2" fill="#1f77b4"/><circle cx="448.11" cy="938.02" r="1.2" fill="#1f77b4"/><circle cx="453.95" cy="964.73" r="1.2" fill="#1f77b4"/><circle cx="459.99" cy="965.23" r="1.2" fill="#1f77b4"/><circle cx="466.02" cy="967.23" r="1.2" fill="#1f77b4"/><circle cx="471.47" cy="919.3" r="1.2" fill="#1f77b4"/><circle cx="477.51" cy="949" r="1.2" fill="#1f77b4"/><circle cx="483.35" cy="930.28" r="1.2" fill="#1f77b4"/><circle cx="489.38" cy="943.01" r="1.2" fill="#1f77b4"/><circle cx="495.22" cy="954.25" r="1.2" fill="#1f77b4"/><circle cx="501.25" cy="973.97" r="1.2" fill="#1f77b4"/><circle cx="507.29" cy="931.53" r="1.2" fill="#1f77b4"/><circle cx="513.13" cy="964.73" r="1.2" fill="#1f77b4"/><circle cx="519.16" cy="939.02" r="1.2" fill="#1f77b4"/><circle cx="525" cy="881.61" r="1.2" fill="#1f77b4"/><circle cx="531.04" cy="861.14" r="1.2" fill="#1f77b4"/><circle cx="537.07" cy="840.42" r="1.2" fill="#1f77b4"/><circle cx="542.72" cy="800.73" r="1.2" fill="#1f77b4"/><circle cx="548.75" cy="944.76" r="1.2" fill="#1f77b4"/><circle cx="554.59" cy="915.3" r="1.2" fill="#1f77b4"/><circle cx="560.63" cy="921.55" r="1.2" fill="#1f77b4"/><circle cx="566.47" cy="957.24" r="1.2" fill="#1f77b4"/><circle cx="572.5" cy="977.21" r="1.2" fill="#1f77b4"/><circle cx="578.53" cy="972.72" r="1.2" fill="#1f77b4"/><circle cx="584.37" cy="957.24" r="1.2" fill="#1f77b4"/><circle cx="590.41" cy="947.76" r="1.2" fill="#1f77b4"/><circle cx="596.25" cy="951.75" r="1.2" fill="#1f77b4"/><circle cx="602.28" cy="914.06" r="1.2" fill="#1f77b4"/><circle cx="608.32" cy="924.04" r="1.2" fill="#1f77b4"/><circle cx="613.77" cy="937.77" r="1.2" fill="#1f77b4"/><circle cx="619.8" cy="925.29" r="1.2" fill="#1f77b4"/><circle cx="625.64" cy="940.52" r="1.2" fill="#1f77b4"/><circle cx="631.68" cy="924.04" r="1.2" fill="#1f77b4"/><circle cx="637.52" cy="928.53" r="1.2" fill="#1f77b4"/><circle cx="643.55" cy="932.28" r="1.2" fill="#1f77b4"/><circle cx="649.59" cy="913.56" r="1.2" fill="#1f77b4"/><circle cx="655.43" cy="927.79" r="1.2" fill="#1f77b4"/><circle cx="661.46" cy="932.78" r="1.2" fill="#1f77b4"/><circle cx="667.3" cy="912.31" r="1.2" fill="#1f77b4"/><text x="385" y="924.44" font-size="6.5" fill="#1f77b4" fill-opacity="0.78" stroke="#1f77b4" stroke-width="0.1" stroke-opacity="0.5">4</text><text x="391.03" y="969.37" font-size="6.5" fill="#1f77b4" fill-opacity="0.78" stroke="#1f77b4" stroke-width="0.1" stroke-opacity="0.5">48</text><text x="397.07" y="951.15" font-size="6.5" fill="#1f77b4" fill-opacity="0.78" stroke="#1f77b4" stroke-width="0.1" stroke-opacity="0.5">48</text><text x="402.52" y="958.89" font-size="6.5" fill="#1f77b4" fill-opacity="0.78" stroke="#1f77b4" stroke-width="0.1" stroke-opacity="0.5">43</text><text x="408.55" y="965.13" font-size="6.5" fill="#1f77b4" fill-opacity="0.78" stroke="#1f77b4" stroke-width="0.1" stroke-opacity="0.5">23</text><text x="414.39" y="950.65" font-size="6.5" fill="#1f77b4" fill-opacity="0.78" stroke="#1f77b4" stroke-width="0.1" stroke-opacity="0.5">18</text><text x="420.43" y="958.14" font-size="6.5" fill="#1f77b4" fill-opacity="0.78" stroke="#1f77b4" stroke-width="0.1" stroke-opacity="0.5">8</text><text x="426.27" y="975.61" font-size="6.5" fill="#1f77b4" fill-opacity="0.78" stroke="#1f77b4" stroke-width="0.1" stroke-opacity="0.5">9</text><text x="432.3" y="969.37" font-size="6.5" fill="#1f77b4" fill-opacity="0.78" stroke="#1f77b4" stroke-width="0.1" stroke-opacity="0.5">9</text><text x="438.34" y="966.87" font-size="6.5" fill="#1f77b4" fill-opacity="0.78" stroke="#1f77b4" stroke-width="0.1" stroke-opacity="0.5">48</text><text x="444.18" y="896.98" font-size="6.5" fill="#1f77b4" fill-opacity="0.78" stroke="#1f77b4" stroke-width="0.1" stroke-opacity="0.5">27</text><text x="450.21" y="936.42" font-size="6.5" fill="#1f77b4" fill-opacity="0.78" stroke="#1f77b4" stroke-width="0.1" stroke-opacity="0.5">27</text><text x="456.05" y="963.13" font-size="6.5" fill="#1f77b4" fill-opacity="0.78" stroke="#1f77b4" stroke-width="0.1" stroke-opacity="0.5">2</text><text x="462.09" y="963.63" font-size="6.5" fill="#1f77b4" fill-opacity="0.78" stroke="#1f77b4" stroke-width="0.1" stroke-opacity="0.5">6</text><text x="468.12" y="965.63" font-size="6.5" fill="#1f77b4" fill-opacity="0.78" stroke="#1f77b4" stroke-width="0.1" stroke-opacity="0.5">6</text><text x="473.57" y="917.7" font-size="6.5" fill="#1f77b4" fill-opacity="0.78" stroke="#1f77b4" stroke-width="0.1" stroke-opacity="0.5">10</text><text x="479.61" y="947.4" font-size="6.5" fill="#1f77b4" fill-opacity="0.78" stroke="#1f77b4" stroke-width="0.1" stroke-opacity="0.5">10</text><text x="485.45" y="928.68" font-size="6.5" fill="#1f77b4" fill-opacity="0.78" stroke="#1f77b4" stroke-width="0.1" stroke-opacity="0.5">31</text><text x="491.48" y="941.41" font-size="6.5" fill="#1f77b4" fill-opacity="0.78" stroke="#1f77b4" stroke-width="0.1" stroke-opacity="0.5">31</text><text x="497.32" y="952.65" font-size="6.5" fill="#1f77b4" fill-opacity="0.78" stroke="#1f77b4" stroke-width="0.1" stroke-opacity="0.5">31</text><text x="503.35" y="972.37" font-size="6.5" fill="#1f77b4" fill-opacity="0.78" stroke="#1f77b4" stroke-width="0.1" stroke-opacity="0.5">40</text><text x="509.39" y="929.93" font-size="6.5" fill="#1f77b4" fill-opacity="0.78" stroke="#1f77b4" stroke-width="0.1" stroke-opacity="0.5">32</text><text x="515.23" y="963.13" font-size="6.5" fill="#1f77b4" fill-opacity="0.78" stroke="#1f77b4" stroke-width="0.1" stroke-opacity="0.5">2</text><text x="521.26" y="937.42" font-size="6.5" fill="#1f77b4" fill-opacity="0.78" stroke="#1f77b4" stroke-width="0.1" stroke-opacity="0.5">32</text><text x="527.1" y="880.01" font-size="6.5" fill="#1f77b4" fill-opacity="0.78" stroke="#1f77b4" stroke-width="0.1" stroke-opacity="0.5">4</text><text x="533.14" y="859.54" font-size="6.5" fill="#1f77b4" fill-opacity="0.78" stroke="#1f77b4" stroke-width="0.1" stroke-opacity="0.5">4</text><text x="539.17" y="838.82" font-size="6.5" fill="#1f77b4" fill-opacity="0.78" stroke="#1f77b4" stroke-width="0.1" stroke-opacity="0.5">4</text><text x="544.82" y="799.13" font-size="6.5" fill="#1f77b4" fill-opacity="0.78" stroke="#1f77b4" stroke-width="0.1" stroke-opacity="0.5">4</text><text x="550.85" y="943.16" font-size="6.5" fill="#1f77b4" fill-opacity="0.78" stroke="#1f77b4" stroke-width="0.1" stroke-opacity="0.5">11</text><text x="556.69" y="913.7" font-size="6.5" fill="#1f77b4" fill-opacity="0.78" stroke="#1f77b4" stroke-width="0.1" stroke-opacity="0.5">31</text><text x="562.73" y="919.95" font-size="6.5" fill="#1f77b4" fill-opacity="0.78" stroke="#1f77b4" stroke-width="0.1" stroke-opacity="0.5">31</text><text x="568.57" y="955.64" font-size="6.5" fill="#1f77b4" fill-opacity="0.78" stroke="#1f77b4" stroke-width="0.1" stroke-opacity="0.5">31</text><text x="574.6" y="975.61" font-size="6.5" fill="#1f77b4" fill-opacity="0.78" stroke="#1f77b4" stroke-width="0.1" stroke-opacity="0.5">4</text><text x="580.63" y="971.12" font-size="6.5" fill="#1f77b4" fill-opacity="0.78" stroke="#1f77b4" stroke-width="0.1" stroke-opacity="0.5">18</text><text x="586.47" y="955.64" font-size="6.5" fill="#1f77b4" fill-opacity="0.78" stroke="#1f77b4" stroke-width="0.1" stroke-opacity="0.5">50</text><text x="592.51" y="946.16" font-size="6.5" fill="#1f77b4" fill-opacity="0.78" stroke="#1f77b4" stroke-width="0.1" stroke-opacity="0.5">55</text><text x="598.35" y="950.15" font-size="6.5" fill="#1f77b4" fill-opacity="0.78" stroke="#1f77b4" stroke-width="0.1" stroke-opacity="0.5">54</text><text x="604.38" y="912.46" font-size="6.5" fill="#1f77b4" fill-opacity="0.78" stroke="#1f77b4" stroke-width="0.1" stroke-opacity="0.5">11</text><text x="610.42" y="922.44" font-size="6.5" fill="#1f77b4" fill-opacity="0.78" stroke="#1f77b4" stroke-width="0.1" stroke-opacity="0.5">4</text><text x="615.87" y="936.17" font-size="6.5" fill="#1f77b4" fill-opacity="0.78" stroke="#1f77b4" stroke-width="0.1" stroke-opacity="0.5">1</text><text x="621.9" y="923.69" font-size="6.5" fill="#1f77b4" fill-opacity="0.78" stroke="#1f77b4" stroke-width="0.1" stroke-opacity="0.5">43</text><text x="627.74" y="938.92" font-size="6.5" fill="#1f77b4" fill-opacity="0.78" stroke="#1f77b4" stroke-width="0.1" stroke-opacity="0.5">50</text><text x="633.78" y="922.44" font-size="6.5" fill="#1f77b4" fill-opacity="0.78" stroke="#1f77b4" stroke-width="0.1" stroke-opacity="0.5">2</text><text x="639.62" y="926.93" font-size="6.5" fill="#1f77b4" fill-opacity="0.78" stroke="#1f77b4" stroke-width="0.1" stroke-opacity="0.5">43</text><text x="645.65" y="930.68" font-size="6.5" fill="#1f77b4" fill-opacity="0.78" stroke="#1f77b4" stroke-width="0.1" stroke-opacity="0.5">43</text><text x="651.69" y="911.96" font-size="6.5" fill="#1f77b4" fill-opacity="0.78" stroke="#1f77b4" stroke-width="0.1" stroke-opacity="0.5">30</text><text x="657.53" y="926.19" font-size="6.5" fill="#1f77b4" fill-opacity="0.78" stroke="#1f77b4" stroke-width="0.1" stroke-opacity="0.5">62</text><text x="663.56" y="931.18" font-size="6.5" fill="#1f77b4" fill-opacity="0.78" stroke="#1f77b4" stroke-width="0.1" stroke-opacity="0.5">34</text><text x="669.4" y="910.71" font-size="6.5" fill="#1f77b4" fill-opacity="0.78" stroke="#1f77b4" stroke-width="0.1" stroke-opacity="0.5">15</text><polyline points="382.9,947.76 388.93,974.72 394.97,964.23 400.42,990.19 406.45,969.72 412.29,964.23 418.33,975.96 424.17,977.96 430.2,985.45 436.24,970.97 442.08,961.49 448.11,956.74 453.95,979.21 459.99,972.22 466.02,969.22 471.47,970.97 477.51,963.48 483.35,990.94 489.38,975.96 495.22,995.93 501.25,976.71 507.29,943.01 513.13,972.22 519.16,967.23 525,952.25 531.04,949.75 537.07,980.46 542.72,969.72 548.75,954 554.59,973.47 560.63,956.74 566.47,984.7 572.5,975.96 578.53,977.21 584.37,980.21 590.41,978.71 596.25,959.24 602.28,942.76 608.32,934.28 613.77,952.25 619.8,957.74 625.64,995.93 631.68,967.98 637.52,962.23 643.55,958.49 649.59,939.77 655.43,952.25 661.46,961.49 667.3,949" fill="none" stroke="#ff7f0e" stroke-width="1.0" stroke-opacity="0.6" stroke-linejoin="round"/><circle cx="382.9" cy="947.76" r="1.2" fill="#ff7f0e"/><circle cx="388.93" cy="974.72" r="1.2" fill="#ff7f0e"/><circle cx="394.97" cy="964.23" r="1.2" fill="#ff7f0e"/><circle cx="400.42" cy="990.19" r="1.2" fill="#ff7f0e"/><circle cx="406.45" cy="969.72" r="1.2" fill="#ff7f0e"/><circle cx="412.29" cy="964.23" r="1.2" fill="#ff7f0e"/><circle cx="418.33" cy="975.96" r="1.2" fill="#ff7f0e"/><circle cx="424.17" cy="977.96" r="1.2" fill="#ff7f0e"/><circle cx="430.2" cy="985.45" r="1.2" fill="#ff7f0e"/><circle cx="436.24" cy="970.97" r="1.2" fill="#ff7f0e"/><circle cx="442.08" cy="961.49" r="1.2" fill="#ff7f0e"/><circle cx="448.11" cy="956.74" r="1.2" fill="#ff7f0e"/><circle cx="453.95" cy="979.21" r="1.2" fill="#ff7f0e"/><circle cx="459.99" cy="972.22" r="1.2" fill="#ff7f0e"/><circle cx="466.02" cy="969.22" r="1.2" fill="#ff7f0e"/><circle cx="471.47" cy="970.97" r="1.2" fill="#ff7f0e"/><circle cx="477.51" cy="963.48" r="1.2" fill="#ff7f0e"/><circle cx="483.35" cy="990.94" r="1.2" fill="#ff7f0e"/><circle cx="489.38" cy="975.96" r="1.2" fill="#ff7f0e"/><circle cx="495.22" cy="995.93" r="1.2" fill="#ff7f0e"/><circle cx="501.25" cy="976.71" r="1.2" fill="#ff7f0e"/><circle cx="507.29" cy="943.01" r="1.2" fill="#ff7f0e"/><circle cx="513.13" cy="972.22" r="1.2" fill="#ff7f0e"/><circle cx="519.16" cy="967.23" r="1.2" fill="#ff7f0e"/><circle cx="525" cy="952.25" r="1.2" fill="#ff7f0e"/><circle cx="531.04" cy="949.75" r="1.2" fill="#ff7f0e"/><circle cx="537.07" cy="980.46" r="1.2" fill="#ff7f0e"/><circle cx="542.72" cy="969.72" r="1.2" fill="#ff7f0e"/><circle cx="548.75" cy="954" r="1.2" fill="#ff7f0e"/><circle cx="554.59" cy="973.47" r="1.2" fill="#ff7f0e"/><circle cx="560.63" cy="956.74" r="1.2" fill="#ff7f0e"/><circle cx="566.47" cy="984.7" r="1.2" fill="#ff7f0e"/><circle cx="572.5" cy="975.96" r="1.2" fill="#ff7f0e"/><circle cx="578.53" cy="977.21" r="1.2" fill="#ff7f0e"/><circle cx="584.37" cy="980.21" r="1.2" fill="#ff7f0e"/><circle cx="590.41" cy="978.71" r="1.2" fill="#ff7f0e"/><circle cx="596.25" cy="959.24" r="1.2" fill="#ff7f0e"/><circle cx="602.28" cy="942.76" r="1.2" fill="#ff7f0e"/><circle cx="608.32" cy="934.28" r="1.2" fill="#ff7f0e"/><circle cx="613.77" cy="952.25" r="1.2" fill="#ff7f0e"/><circle cx="619.8" cy="957.74" r="1.2" fill="#ff7f0e"/><circle cx="625.64" cy="995.93" r="1.2" fill="#ff7f0e"/><circle cx="631.68" cy="967.98" r="1.2" fill="#ff7f0e"/><circle cx="637.52" cy="962.23" r="1.2" fill="#ff7f0e"/><circle cx="643.55" cy="958.49" r="1.2" fill="#ff7f0e"/><circle cx="649.59" cy="939.77" r="1.2" fill="#ff7f0e"/><circle cx="655.43" cy="952.25" r="1.2" fill="#ff7f0e"/><circle cx="661.46" cy="961.49" r="1.2" fill="#ff7f0e"/><circle cx="667.3" cy="949" r="1.2" fill="#ff7f0e"/><text x="385" y="946.16" font-size="6.5" fill="#ff7f0e" fill-opacity="0.78" stroke="#ff7f0e" stroke-width="0.1" stroke-opacity="0.5">12</text><text x="391.03" y="973.12" font-size="6.5" fill="#ff7f0e" fill-opacity="0.78" stroke="#ff7f0e" stroke-width="0.1" stroke-opacity="0.5">23</text><text x="397.07" y="962.63" font-size="6.5" fill="#ff7f0e" fill-opacity="0.78" stroke="#ff7f0e" stroke-width="0.1" stroke-opacity="0.5">43</text><text x="402.52" y="988.59" font-size="6.5" fill="#ff7f0e" fill-opacity="0.78" stroke="#ff7f0e" stroke-width="0.1" stroke-opacity="0.5">9</text><text x="408.55" y="968.12" font-size="6.5" fill="#ff7f0e" fill-opacity="0.78" stroke="#ff7f0e" stroke-width="0.1" stroke-opacity="0.5">40</text><text x="414.39" y="962.63" font-size="6.5" fill="#ff7f0e" fill-opacity="0.78" stroke="#ff7f0e" stroke-width="0.1" stroke-opacity="0.5">3</text><text x="420.43" y="974.36" font-size="6.5" fill="#ff7f0e" fill-opacity="0.78" stroke="#ff7f0e" stroke-width="0.1" stroke-opacity="0.5">1</text><text x="426.27" y="976.36" font-size="6.5" fill="#ff7f0e" fill-opacity="0.78" stroke="#ff7f0e" stroke-width="0.1" stroke-opacity="0.5">5</text><text x="432.3" y="983.85" font-size="6.5" fill="#ff7f0e" fill-opacity="0.78" stroke="#ff7f0e" stroke-width="0.1" stroke-opacity="0.5">19</text><text x="438.34" y="969.37" font-size="6.5" fill="#ff7f0e" fill-opacity="0.78" stroke="#ff7f0e" stroke-width="0.1" stroke-opacity="0.5">4</text><text x="444.18" y="959.89" font-size="6.5" fill="#ff7f0e" fill-opacity="0.78" stroke="#ff7f0e" stroke-width="0.1" stroke-opacity="0.5">16</text><text x="450.21" y="955.14" font-size="6.5" fill="#ff7f0e" fill-opacity="0.78" stroke="#ff7f0e" stroke-width="0.1" stroke-opacity="0.5">15</text><text x="456.05" y="977.61" font-size="6.5" fill="#ff7f0e" fill-opacity="0.78" stroke="#ff7f0e" stroke-width="0.1" stroke-opacity="0.5">27</text><text x="462.09" y="970.62" font-size="6.5" fill="#ff7f0e" fill-opacity="0.78" stroke="#ff7f0e" stroke-width="0.1" stroke-opacity="0.5">40</text><text x="468.12" y="967.62" font-size="6.5" fill="#ff7f0e" fill-opacity="0.78" stroke="#ff7f0e" stroke-width="0.1" stroke-opacity="0.5">30</text><text x="473.57" y="969.37" font-size="6.5" fill="#ff7f0e" fill-opacity="0.78" stroke="#ff7f0e" stroke-width="0.1" stroke-opacity="0.5">3</text><text x="479.61" y="961.88" font-size="6.5" fill="#ff7f0e" fill-opacity="0.78" stroke="#ff7f0e" stroke-width="0.1" stroke-opacity="0.5">43</text><text x="485.45" y="989.34" font-size="6.5" fill="#ff7f0e" fill-opacity="0.78" stroke="#ff7f0e" stroke-width="0.1" stroke-opacity="0.5">7</text><text x="491.48" y="974.36" font-size="6.5" fill="#ff7f0e" fill-opacity="0.78" stroke="#ff7f0e" stroke-width="0.1" stroke-opacity="0.5">7</text><text x="497.32" y="994.33" font-size="6.5" fill="#ff7f0e" fill-opacity="0.78" stroke="#ff7f0e" stroke-width="0.1" stroke-opacity="0.5">32</text><text x="503.35" y="975.11" font-size="6.5" fill="#ff7f0e" fill-opacity="0.78" stroke="#ff7f0e" stroke-width="0.1" stroke-opacity="0.5">31</text><text x="509.39" y="941.41" font-size="6.5" fill="#ff7f0e" fill-opacity="0.78" stroke="#ff7f0e" stroke-width="0.1" stroke-opacity="0.5">52</text><text x="515.23" y="970.62" font-size="6.5" fill="#ff7f0e" fill-opacity="0.78" stroke="#ff7f0e" stroke-width="0.1" stroke-opacity="0.5">2</text><text x="521.26" y="965.63" font-size="6.5" fill="#ff7f0e" fill-opacity="0.78" stroke="#ff7f0e" stroke-width="0.1" stroke-opacity="0.5">36</text><text x="527.1" y="950.65" font-size="6.5" fill="#ff7f0e" fill-opacity="0.78" stroke="#ff7f0e" stroke-width="0.1" stroke-opacity="0.5">48</text><text x="533.14" y="948.15" font-size="6.5" fill="#ff7f0e" fill-opacity="0.78" stroke="#ff7f0e" stroke-width="0.1" stroke-opacity="0.5">48</text><text x="539.17" y="978.86" font-size="6.5" fill="#ff7f0e" fill-opacity="0.78" stroke="#ff7f0e" stroke-width="0.1" stroke-opacity="0.5">3</text><text x="544.82" y="968.12" font-size="6.5" fill="#ff7f0e" fill-opacity="0.78" stroke="#ff7f0e" stroke-width="0.1" stroke-opacity="0.5">3</text><text x="550.85" y="952.4" font-size="6.5" fill="#ff7f0e" fill-opacity="0.78" stroke="#ff7f0e" stroke-width="0.1" stroke-opacity="0.5">4</text><text x="556.69" y="971.87" font-size="6.5" fill="#ff7f0e" fill-opacity="0.78" stroke="#ff7f0e" stroke-width="0.1" stroke-opacity="0.5">8</text><text x="562.73" y="955.14" font-size="6.5" fill="#ff7f0e" fill-opacity="0.78" stroke="#ff7f0e" stroke-width="0.1" stroke-opacity="0.5">5</text><text x="568.57" y="983.1" font-size="6.5" fill="#ff7f0e" fill-opacity="0.78" stroke="#ff7f0e" stroke-width="0.1" stroke-opacity="0.5">8</text><text x="574.6" y="974.36" font-size="6.5" fill="#ff7f0e" fill-opacity="0.78" stroke="#ff7f0e" stroke-width="0.1" stroke-opacity="0.5">1</text><text x="580.63" y="975.61" font-size="6.5" fill="#ff7f0e" fill-opacity="0.78" stroke="#ff7f0e" stroke-width="0.1" stroke-opacity="0.5">1</text><text x="586.47" y="978.61" font-size="6.5" fill="#ff7f0e" fill-opacity="0.78" stroke="#ff7f0e" stroke-width="0.1" stroke-opacity="0.5">4</text><text x="592.51" y="977.11" font-size="6.5" fill="#ff7f0e" fill-opacity="0.78" stroke="#ff7f0e" stroke-width="0.1" stroke-opacity="0.5">54</text><text x="598.35" y="957.64" font-size="6.5" fill="#ff7f0e" fill-opacity="0.78" stroke="#ff7f0e" stroke-width="0.1" stroke-opacity="0.5">50</text><text x="604.38" y="941.16" font-size="6.5" fill="#ff7f0e" fill-opacity="0.78" stroke="#ff7f0e" stroke-width="0.1" stroke-opacity="0.5">4</text><text x="610.42" y="932.68" font-size="6.5" fill="#ff7f0e" fill-opacity="0.78" stroke="#ff7f0e" stroke-width="0.1" stroke-opacity="0.5">11</text><text x="615.87" y="950.65" font-size="6.5" fill="#ff7f0e" fill-opacity="0.78" stroke="#ff7f0e" stroke-width="0.1" stroke-opacity="0.5">21</text><text x="621.9" y="956.14" font-size="6.5" fill="#ff7f0e" fill-opacity="0.78" stroke="#ff7f0e" stroke-width="0.1" stroke-opacity="0.5">4</text><text x="627.74" y="994.33" font-size="6.5" fill="#ff7f0e" fill-opacity="0.78" stroke="#ff7f0e" stroke-width="0.1" stroke-opacity="0.5">17</text><text x="633.78" y="966.38" font-size="6.5" fill="#ff7f0e" fill-opacity="0.78" stroke="#ff7f0e" stroke-width="0.1" stroke-opacity="0.5">1</text><text x="639.62" y="960.63" font-size="6.5" fill="#ff7f0e" fill-opacity="0.78" stroke="#ff7f0e" stroke-width="0.1" stroke-opacity="0.5">2</text><text x="645.65" y="956.89" font-size="6.5" fill="#ff7f0e" fill-opacity="0.78" stroke="#ff7f0e" stroke-width="0.1" stroke-opacity="0.5">2</text><text x="651.69" y="938.17" font-size="6.5" fill="#ff7f0e" fill-opacity="0.78" stroke="#ff7f0e" stroke-width="0.1" stroke-opacity="0.5">43</text><text x="657.53" y="950.65" font-size="6.5" fill="#ff7f0e" fill-opacity="0.78" stroke="#ff7f0e" stroke-width="0.1" stroke-opacity="0.5">21</text><text x="663.56" y="959.89" font-size="6.5" fill="#ff7f0e" fill-opacity="0.78" stroke="#ff7f0e" stroke-width="0.1" stroke-opacity="0.5">60</text><text x="669.4" y="947.4" font-size="6.5" fill="#ff7f0e" fill-opacity="0.78" stroke="#ff7f0e" stroke-width="0.1" stroke-opacity="0.5">3</text><polyline points="382.9,985.2 388.93,980.96 394.97,989.19 400.42,993.44 406.45,978.96 412.29,976.71 418.33,997.18 424.17,981.7 430.2,994.19 436.24,968.97 442.08,975.21 448.11,991.69 453.95,983.95 459.99,989.19 466.02,980.96 471.47,970.97 477.51,967.23 483.35,995.18 489.38,985.95 495.22,995.93 501.25,981.7 507.29,948.5 513.13,979.71 519.16,984.7 525,980.96 531.04,969.72 537.07,999.18 542.72,992.19 548.75,962.73 554.59,986.2 560.63,957.24 566.47,985.45 572.5,983.45 578.53,982.2 584.37,985.2 590.41,997.68 596.25,973.47 602.28,969.22 608.32,948.5 613.77,975.21 619.8,966.73 625.64,996.68 631.68,975.96 637.52,984.7 643.55,962.23 649.59,957.24 655.43,956.74 661.46,974.72 667.3,965.23" fill="none" stroke="#2ca02c" stroke-width="1.0" stroke-opacity="0.6" stroke-linejoin="round"/><circle cx="382.9" cy="985.2" r="1.2" fill="#2ca02c"/><circle cx="388.93" cy="980.96" r="1.2" fill="#2ca02c"/><circle cx="394.97" cy="989.19" r="1.2" fill="#2ca02c"/><circle cx="400.42" cy="993.44" r="1.2" fill="#2ca02c"/><circle cx="406.45" cy="978.96" r="1.2" fill="#2ca02c"/><circle cx="412.29" cy="976.71" r="1.2" fill="#2ca02c"/><circle cx="418.33" cy="997.18" r="1.2" fill="#2ca02c"/><circle cx="424.17" cy="981.7" r="1.2" fill="#2ca02c"/><circle cx="430.2" cy="994.19" r="1.2" fill="#2ca02c"/><circle cx="436.24" cy="968.97" r="1.2" fill="#2ca02c"/><circle cx="442.08" cy="975.21" r="1.2" fill="#2ca02c"/><circle cx="448.11" cy="991.69" r="1.2" fill="#2ca02c"/><circle cx="453.95" cy="983.95" r="1.2" fill="#2ca02c"/><circle cx="459.99" cy="989.19" r="1.2" fill="#2ca02c"/><circle cx="466.02" cy="980.96" r="1.2" fill="#2ca02c"/><circle cx="471.47" cy="970.97" r="1.2" fill="#2ca02c"/><circle cx="477.51" cy="967.23" r="1.2" fill="#2ca02c"/><circle cx="483.35" cy="995.18" r="1.2" fill="#2ca02c"/><circle cx="489.38" cy="985.95" r="1.2" fill="#2ca02c"/><circle cx="495.22" cy="995.93" r="1.2" fill="#2ca02c"/><circle cx="501.25" cy="981.7" r="1.2" fill="#2ca02c"/><circle cx="507.29" cy="948.5" r="1.2" fill="#2ca02c"/><circle cx="513.13" cy="979.71" r="1.2" fill="#2ca02c"/><circle cx="519.16" cy="984.7" r="1.2" fill="#2ca02c"/><circle cx="525" cy="980.96" r="1.2" fill="#2ca02c"/><circle cx="531.04" cy="969.72" r="1.2" fill="#2ca02c"/><circle cx="537.07" cy="999.18" r="1.2" fill="#2ca02c"/><circle cx="542.72" cy="992.19" r="1.2" fill="#2ca02c"/><circle cx="548.75" cy="962.73" r="1.2" fill="#2ca02c"/><circle cx="554.59" cy="986.2" r="1.2" fill="#2ca02c"/><circle cx="560.63" cy="957.24" r="1.2" fill="#2ca02c"/><circle cx="566.47" cy="985.45" r="1.2" fill="#2ca02c"/><circle cx="572.5" cy="983.45" r="1.2" fill="#2ca02c"/><circle cx="578.53" cy="982.2" r="1.2" fill="#2ca02c"/><circle cx="584.37" cy="985.2" r="1.2" fill="#2ca02c"/><circle cx="590.41" cy="997.68" r="1.2" fill="#2ca02c"/><circle cx="596.25" cy="973.47" r="1.2" fill="#2ca02c"/><circle cx="602.28" cy="969.22" r="1.2" fill="#2ca02c"/><circle cx="608.32" cy="948.5" r="1.2" fill="#2ca02c"/><circle cx="613.77" cy="975.21" r="1.2" fill="#2ca02c"/><circle cx="619.8" cy="966.73" r="1.2" fill="#2ca02c"/><circle cx="625.64" cy="996.68" r="1.2" fill="#2ca02c"/><circle cx="631.68" cy="975.96" r="1.2" fill="#2ca02c"/><circle cx="637.52" cy="984.7" r="1.2" fill="#2ca02c"/><circle cx="643.55" cy="962.23" r="1.2" fill="#2ca02c"/><circle cx="649.59" cy="957.24" r="1.2" fill="#2ca02c"/><circle cx="655.43" cy="956.74" r="1.2" fill="#2ca02c"/><circle cx="661.46" cy="974.72" r="1.2" fill="#2ca02c"/><circle cx="667.3" cy="965.23" r="1.2" fill="#2ca02c"/><text x="385" y="983.6" font-size="6.5" fill="#2ca02c" fill-opacity="0.78" stroke="#2ca02c" stroke-width="0.1" stroke-opacity="0.5">36</text><text x="391.03" y="979.36" font-size="6.5" fill="#2ca02c" fill-opacity="0.78" stroke="#2ca02c" stroke-width="0.1" stroke-opacity="0.5">52</text><text x="397.07" y="987.59" font-size="6.5" fill="#2ca02c" fill-opacity="0.78" stroke="#2ca02c" stroke-width="0.1" stroke-opacity="0.5">37</text><text x="402.52" y="991.84" font-size="6.5" fill="#2ca02c" fill-opacity="0.78" stroke="#2ca02c" stroke-width="0.1" stroke-opacity="0.5">24</text><text x="408.55" y="977.36" font-size="6.5" fill="#2ca02c" fill-opacity="0.78" stroke="#2ca02c" stroke-width="0.1" stroke-opacity="0.5">45</text><text x="414.39" y="975.11" font-size="6.5" fill="#2ca02c" fill-opacity="0.78" stroke="#2ca02c" stroke-width="0.1" stroke-opacity="0.5">10</text><text x="420.43" y="995.58" font-size="6.5" fill="#2ca02c" fill-opacity="0.78" stroke="#2ca02c" stroke-width="0.1" stroke-opacity="0.5">31</text><text x="426.27" y="980.1" font-size="6.5" fill="#2ca02c" fill-opacity="0.78" stroke="#2ca02c" stroke-width="0.1" stroke-opacity="0.5">11</text><text x="432.3" y="992.59" font-size="6.5" fill="#2ca02c" fill-opacity="0.78" stroke="#2ca02c" stroke-width="0.1" stroke-opacity="0.5">32</text><text x="438.34" y="967.37" font-size="6.5" fill="#2ca02c" fill-opacity="0.78" stroke="#2ca02c" stroke-width="0.1" stroke-opacity="0.5">19</text><text x="444.18" y="973.61" font-size="6.5" fill="#2ca02c" fill-opacity="0.78" stroke="#2ca02c" stroke-width="0.1" stroke-opacity="0.5">40</text><text x="450.21" y="990.09" font-size="6.5" fill="#2ca02c" fill-opacity="0.78" stroke="#2ca02c" stroke-width="0.1" stroke-opacity="0.5">43</text><text x="456.05" y="982.35" font-size="6.5" fill="#2ca02c" fill-opacity="0.78" stroke="#2ca02c" stroke-width="0.1" stroke-opacity="0.5">10</text><text x="462.09" y="987.59" font-size="6.5" fill="#2ca02c" fill-opacity="0.78" stroke="#2ca02c" stroke-width="0.1" stroke-opacity="0.5">14</text><text x="468.12" y="979.36" font-size="6.5" fill="#2ca02c" fill-opacity="0.78" stroke="#2ca02c" stroke-width="0.1" stroke-opacity="0.5">43</text><text x="473.57" y="969.37" font-size="6.5" fill="#2ca02c" fill-opacity="0.78" stroke="#2ca02c" stroke-width="0.1" stroke-opacity="0.5">52</text><text x="479.61" y="965.63" font-size="6.5" fill="#2ca02c" fill-opacity="0.78" stroke="#2ca02c" stroke-width="0.1" stroke-opacity="0.5">9</text><text x="485.45" y="993.58" font-size="6.5" fill="#2ca02c" fill-opacity="0.78" stroke="#2ca02c" stroke-width="0.1" stroke-opacity="0.5">6</text><text x="491.48" y="984.35" font-size="6.5" fill="#2ca02c" fill-opacity="0.78" stroke="#2ca02c" stroke-width="0.1" stroke-opacity="0.5">6</text><text x="497.32" y="994.33" font-size="6.5" fill="#2ca02c" fill-opacity="0.78" stroke="#2ca02c" stroke-width="0.1" stroke-opacity="0.5">32</text><text x="503.35" y="980.1" font-size="6.5" fill="#2ca02c" fill-opacity="0.78" stroke="#2ca02c" stroke-width="0.1" stroke-opacity="0.5">32</text><text x="509.39" y="946.9" font-size="6.5" fill="#2ca02c" fill-opacity="0.78" stroke="#2ca02c" stroke-width="0.1" stroke-opacity="0.5">59</text><text x="515.23" y="978.11" font-size="6.5" fill="#2ca02c" fill-opacity="0.78" stroke="#2ca02c" stroke-width="0.1" stroke-opacity="0.5">9</text><text x="521.26" y="983.1" font-size="6.5" fill="#2ca02c" fill-opacity="0.78" stroke="#2ca02c" stroke-width="0.1" stroke-opacity="0.5">3</text><text x="527.1" y="979.36" font-size="6.5" fill="#2ca02c" fill-opacity="0.78" stroke="#2ca02c" stroke-width="0.1" stroke-opacity="0.5">42</text><text x="533.14" y="968.12" font-size="6.5" fill="#2ca02c" fill-opacity="0.78" stroke="#2ca02c" stroke-width="0.1" stroke-opacity="0.5">42</text><text x="539.17" y="997.58" font-size="6.5" fill="#2ca02c" fill-opacity="0.78" stroke="#2ca02c" stroke-width="0.1" stroke-opacity="0.5">52</text><text x="544.82" y="990.59" font-size="6.5" fill="#2ca02c" fill-opacity="0.78" stroke="#2ca02c" stroke-width="0.1" stroke-opacity="0.5">52</text><text x="550.85" y="961.13" font-size="6.5" fill="#2ca02c" fill-opacity="0.78" stroke="#2ca02c" stroke-width="0.1" stroke-opacity="0.5">52</text><text x="556.69" y="984.6" font-size="6.5" fill="#2ca02c" fill-opacity="0.78" stroke="#2ca02c" stroke-width="0.1" stroke-opacity="0.5">11</text><text x="562.73" y="955.64" font-size="6.5" fill="#2ca02c" fill-opacity="0.78" stroke="#2ca02c" stroke-width="0.1" stroke-opacity="0.5">8</text><text x="568.57" y="983.85" font-size="6.5" fill="#2ca02c" fill-opacity="0.78" stroke="#2ca02c" stroke-width="0.1" stroke-opacity="0.5">8</text><text x="574.6" y="981.85" font-size="6.5" fill="#2ca02c" fill-opacity="0.78" stroke="#2ca02c" stroke-width="0.1" stroke-opacity="0.5">9</text><text x="580.63" y="980.6" font-size="6.5" fill="#2ca02c" fill-opacity="0.78" stroke="#2ca02c" stroke-width="0.1" stroke-opacity="0.5">4</text><text x="586.47" y="983.6" font-size="6.5" fill="#2ca02c" fill-opacity="0.78" stroke="#2ca02c" stroke-width="0.1" stroke-opacity="0.5">18</text><text x="592.51" y="996.08" font-size="6.5" fill="#2ca02c" fill-opacity="0.78" stroke="#2ca02c" stroke-width="0.1" stroke-opacity="0.5">28</text><text x="598.35" y="971.87" font-size="6.5" fill="#2ca02c" fill-opacity="0.78" stroke="#2ca02c" stroke-width="0.1" stroke-opacity="0.5">3</text><text x="604.38" y="967.62" font-size="6.5" fill="#2ca02c" fill-opacity="0.78" stroke="#2ca02c" stroke-width="0.1" stroke-opacity="0.5">3</text><text x="610.42" y="946.9" font-size="6.5" fill="#2ca02c" fill-opacity="0.78" stroke="#2ca02c" stroke-width="0.1" stroke-opacity="0.5">6</text><text x="615.87" y="973.61" font-size="6.5" fill="#2ca02c" fill-opacity="0.78" stroke="#2ca02c" stroke-width="0.1" stroke-opacity="0.5">46</text><text x="621.9" y="965.13" font-size="6.5" fill="#2ca02c" fill-opacity="0.78" stroke="#2ca02c" stroke-width="0.1" stroke-opacity="0.5">24</text><text x="627.74" y="995.08" font-size="6.5" fill="#2ca02c" fill-opacity="0.78" stroke="#2ca02c" stroke-width="0.1" stroke-opacity="0.5">24</text><text x="633.78" y="974.36" font-size="6.5" fill="#2ca02c" fill-opacity="0.78" stroke="#2ca02c" stroke-width="0.1" stroke-opacity="0.5">15</text><text x="639.62" y="983.1" font-size="6.5" fill="#2ca02c" fill-opacity="0.78" stroke="#2ca02c" stroke-width="0.1" stroke-opacity="0.5">33</text><text x="645.65" y="960.63" font-size="6.5" fill="#2ca02c" fill-opacity="0.78" stroke="#2ca02c" stroke-width="0.1" stroke-opacity="0.5">29</text><text x="651.69" y="955.64" font-size="6.5" fill="#2ca02c" fill-opacity="0.78" stroke="#2ca02c" stroke-width="0.1" stroke-opacity="0.5">3</text><text x="657.53" y="955.14" font-size="6.5" fill="#2ca02c" fill-opacity="0.78" stroke="#2ca02c" stroke-width="0.1" stroke-opacity="0.5">10</text><text x="663.56" y="973.12" font-size="6.5" fill="#2ca02c" fill-opacity="0.78" stroke="#2ca02c" stroke-width="0.1" stroke-opacity="0.5">10</text><text x="669.4" y="963.63" font-size="6.5" fill="#2ca02c" fill-opacity="0.78" stroke="#2ca02c" stroke-width="0.1" stroke-opacity="0.5">4</text><rect x="375.4" y="795.5" width="101.6" height="28.8" rx="1.2" fill="#fff" fill-opacity="0.8" stroke="#e2e2e2" stroke-width="0.7"/><line x1="377.4" y1="800.5" x2="390.2" y2="800.5" stroke="#1f77b4" stroke-width="1" stroke-opacity="0.6"/><circle cx="383.8" cy="800.5" r="1.35" fill="#1f77b4"/><text x="395.5" y="803" font-size="6.5" fill="#1a1a1a" class="t" textLength="78.6" lengthAdjust="spacing">Top 1 Feature Importance</text><line x1="377.4" y1="809.55" x2="390.2" y2="809.55" stroke="#ff7f0e" stroke-width="1" stroke-opacity="0.6"/><circle cx="383.8" cy="809.55" r="1.35" fill="#ff7f0e"/><text x="395.5" y="812.05" font-size="6.5" fill="#1a1a1a" class="t" textLength="78.6" lengthAdjust="spacing">Top 2 Feature Importance</text><line x1="377.4" y1="818.6" x2="390.2" y2="818.6" stroke="#2ca02c" stroke-width="1" stroke-opacity="0.6"/><circle cx="383.8" cy="818.6" r="1.35" fill="#2ca02c"/><text x="395.5" y="821.1" font-size="6.5" fill="#1a1a1a" class="t" textLength="78.6" lengthAdjust="spacing">Top 3 Feature Importance</text><text class="cap" x="486.2" y="1049.1" font-size="15.6" fill="#111" stroke="#111" stroke-width="0.2" textLength="62.5" lengthAdjust="spacingAndGlyphs">(h) City 8</text></g>
</svg></body></html>
